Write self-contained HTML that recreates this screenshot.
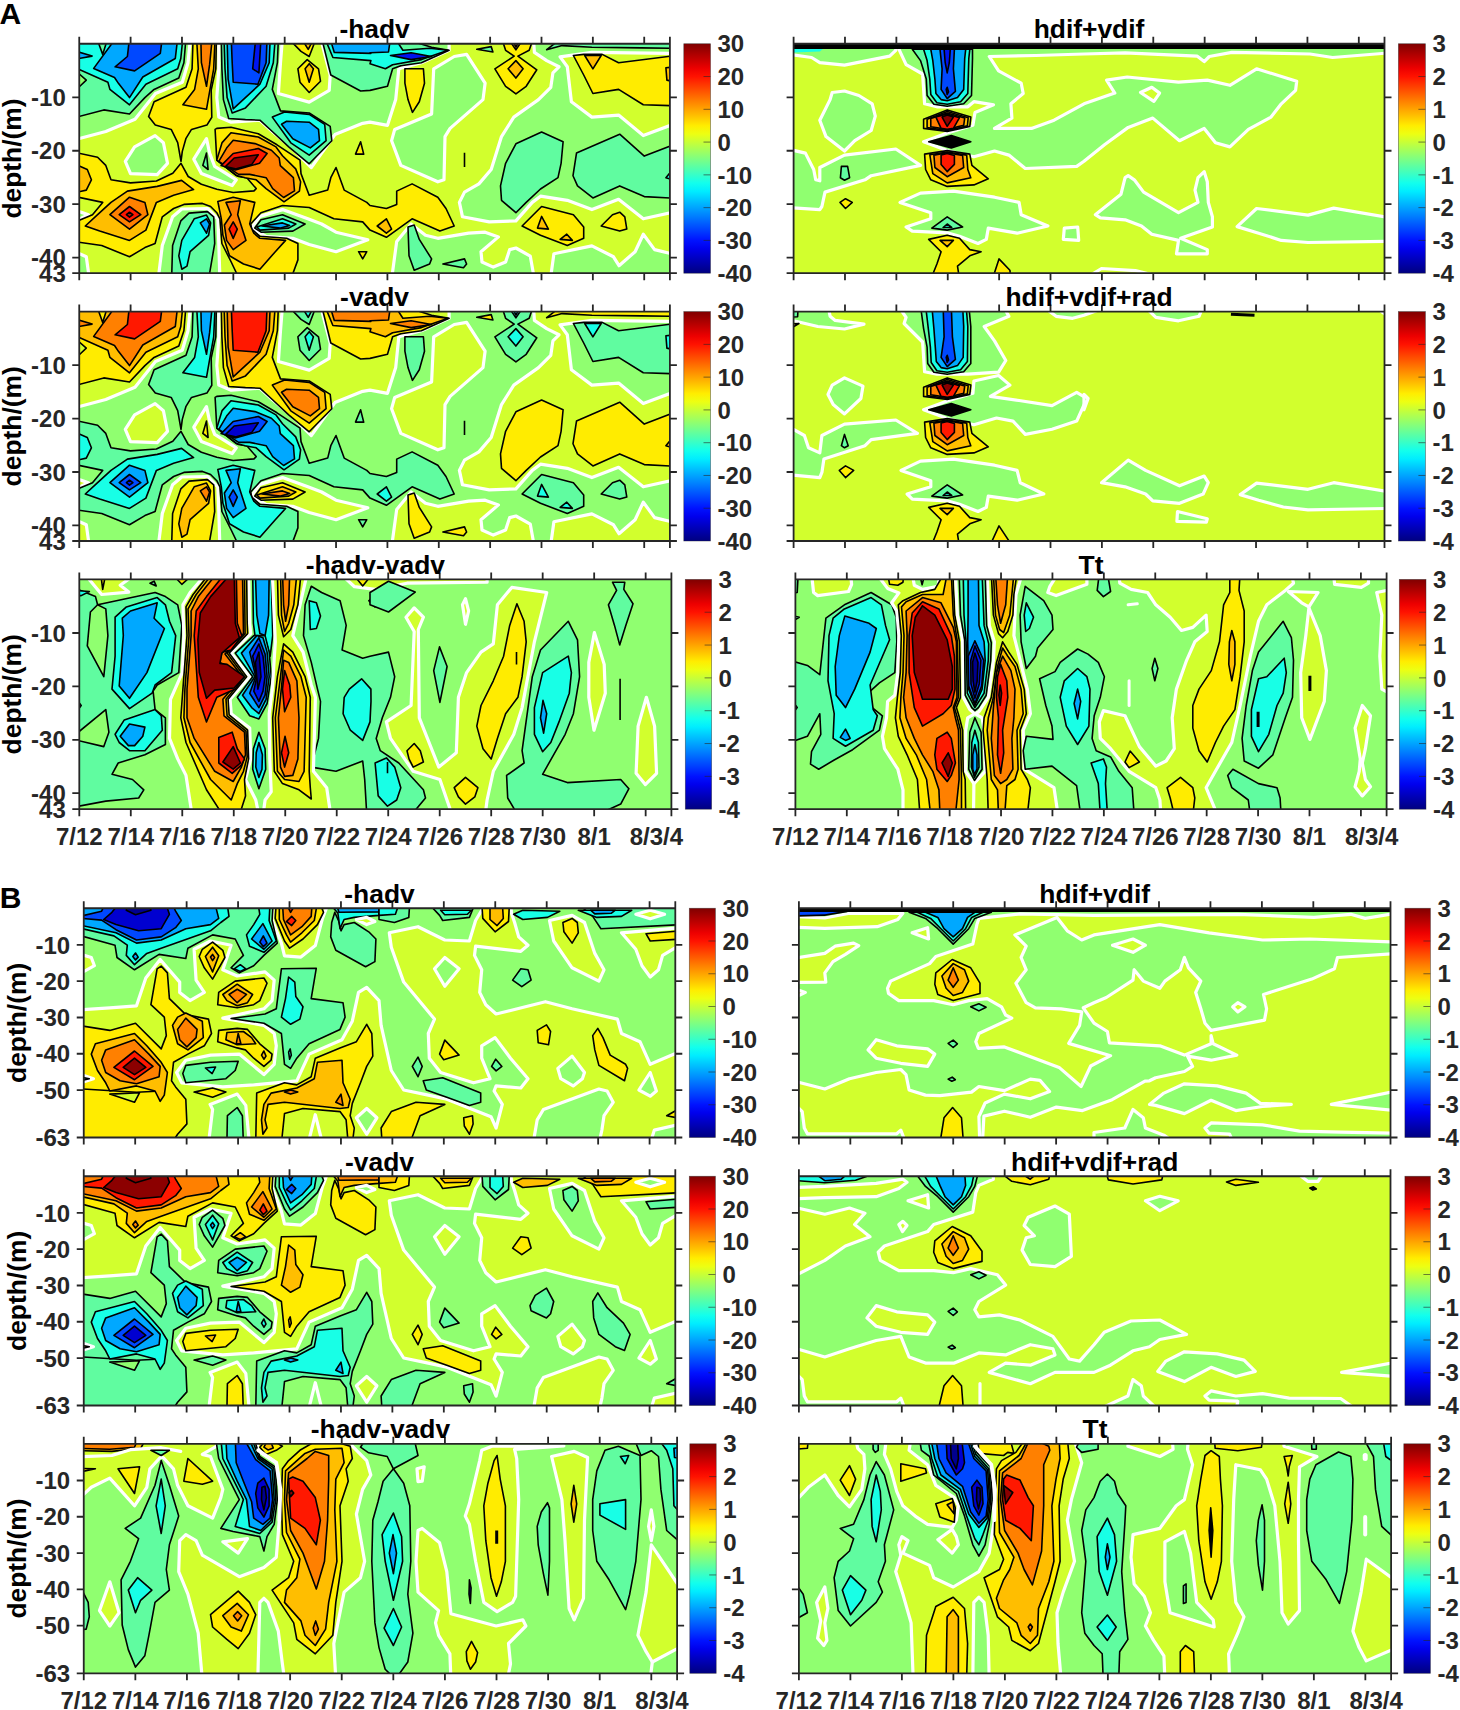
<!DOCTYPE html>
<html lang="en"><head><meta charset="utf-8"><title>Figure</title>
<style>html,body{margin:0;padding:0;background:#fff}body{width:1460px;height:1710px;overflow:hidden}svg{display:block}text{font-family:"Liberation Sans",Arial,Helvetica,sans-serif;font-weight:bold;fill:#262626}.t{font-size:24.0px}.T{font-size:26.4px;fill:#000}.k{stroke:#000;stroke-width:1.6;stroke-linejoin:round}.w{stroke:#fff;stroke-width:3.2;stroke-linejoin:round;stroke-linecap:round}.a{stroke:#262626;stroke-width:1.8;fill:none}</style></head><body>
<svg width="1460" height="1710" viewBox="0 0 1460 1710">
<defs><linearGradient id="jet" x1="0" y1="0" x2="0" y2="1">
<stop offset="0.0000" stop-color="#800000"/>
<stop offset="0.0357" stop-color="#a40000"/>
<stop offset="0.0714" stop-color="#c80000"/>
<stop offset="0.1071" stop-color="#ed0000"/>
<stop offset="0.1429" stop-color="#ff1200"/>
<stop offset="0.1786" stop-color="#ff3700"/>
<stop offset="0.2143" stop-color="#ff5b00"/>
<stop offset="0.2500" stop-color="#ff8000"/>
<stop offset="0.2857" stop-color="#ffa400"/>
<stop offset="0.3214" stop-color="#ffc800"/>
<stop offset="0.3571" stop-color="#ffed00"/>
<stop offset="0.3929" stop-color="#edff12"/>
<stop offset="0.4286" stop-color="#c8ff37"/>
<stop offset="0.4643" stop-color="#a4ff5b"/>
<stop offset="0.5000" stop-color="#80ff80"/>
<stop offset="0.5357" stop-color="#5bffa4"/>
<stop offset="0.5714" stop-color="#37ffc8"/>
<stop offset="0.6071" stop-color="#12ffed"/>
<stop offset="0.6429" stop-color="#00edff"/>
<stop offset="0.6786" stop-color="#00c8ff"/>
<stop offset="0.7143" stop-color="#00a4ff"/>
<stop offset="0.7500" stop-color="#0080ff"/>
<stop offset="0.7857" stop-color="#005bff"/>
<stop offset="0.8214" stop-color="#0037ff"/>
<stop offset="0.8571" stop-color="#0012ff"/>
<stop offset="0.8929" stop-color="#0000ed"/>
<stop offset="0.9286" stop-color="#0000c8"/>
<stop offset="0.9643" stop-color="#0000a4"/>
<stop offset="1.0000" stop-color="#000080"/>
</linearGradient></defs>
<rect width="1460" height="1710" fill="#fff"/>
<g id="A11">
<clipPath id="cA11"><rect x="79.25" y="43.75" width="590.65" height="229.45"/></clipPath>
<rect x="79.25" y="43.75" width="590.65" height="229.45" fill="#d2ff2d"/>
<g clip-path="url(#cA11)">
<polygon class="w" fill="#90ff70" points="73.2,37.8 190.5,37.8 188.0,62.7 182.3,82.2 155.5,93.5 135.0,119.2 105.8,131.5 73.2,140.1"/>
<polygon class="w" fill="#90ff70" points="218.8,37.8 218.8,68.8 216.8,97.6 218.8,117.1 231.2,122.2 259.9,120.2 272.3,131.5 292.8,149.0 311.3,167.5 334.9,134.6 362.7,123.3 370.0,122.2 387.5,125.3 395.7,99.6 398.8,68.8 421.4,62.7 449.1,50.3 449.1,37.8"/>
<polygon class="w" fill="#d2ff2d" points="282.5,37.8 280.5,62.7 278.4,93.5 309.2,102.1 329.2,90.4 330.2,75.0 320.5,37.8"/>
<polygon class="w" fill="#90ff70" points="433.7,68.8 431.6,114.0 394.7,129.4 391.6,140.7 400.8,165.4 437.8,181.8 444.0,179.8 445.0,136.6 450.1,128.4 483.0,99.6 485.1,83.2 466.6,54.4 454.2,56.5"/>
<polygon class="w" fill="#90ff70" points="125.3,161.3 134.6,146.9 155.1,135.6 163.4,142.8 167.5,163.3 157.2,174.6 130.5,173.6"/>
<polygon class="w" fill="#90ff70" points="206.5,138.7 209.6,153.1 214.7,166.4 236.3,179.8 232.2,185.5 201.4,173.6 193.8,159.2"/>
<polygon class="w" fill="#90ff70" points="158.2,279.2 162.3,245.5 172.6,216.8 181.8,209.0 207.5,208.5 217.8,218.8 218.8,243.5 219.9,279.2"/>
<polygon class="w" fill="#90ff70" points="73.2,250.7 86.3,256.8 89.4,279.2 73.2,279.2"/>
<polygon class="w" fill="#90ff70" points="73.2,209.6 88.4,214.7 73.2,221.9"/>
<polygon class="w" fill="#90ff70" points="251.3,228.1 259.9,216.4 282.5,209.6 307.2,218.4 321.6,224.0 336.0,232.2 367.8,239.8 336.0,251.7 309.2,244.5 292.8,238.3 266.1,236.3"/>
<polygon class="w" fill="#90ff70" points="391.6,279.2 396.7,241.4 411.1,224.0 425.5,235.3 437.8,238.3 468.6,233.2 485.1,232.2 498.4,236.9 481.0,251.7 482.0,262.0 493.3,267.1 505.6,262.0 509.7,249.6 515.9,248.0 530.3,256.2 534.4,279.2"/>
<polygon class="w" fill="#90ff70" points="550.4,279.2 553.9,253.8 591.9,245.9 613.5,256.8 619.0,265.7 635.1,251.7 643.3,234.2 654.6,249.6 675.9,254.8 675.9,279.2"/>
<polygon class="w" fill="#90ff70" points="533.4,37.8 534.4,52.4 546.7,60.6 559.0,66.8 552.9,72.9 550.8,87.3 538.5,99.6 513.8,117.1 501.5,136.6 491.2,169.5 478.9,183.9 464.5,192.1 459.4,202.4 462.5,216.8 489.2,221.9 515.9,220.9 532.3,202.4 540.5,196.2 567.3,200.3 591.9,209.6 618.6,199.3 643.3,218.8 675.9,211.6 675.9,123.3 643.3,135.6 618.6,115.1 591.9,117.1 571.4,101.7 567.3,66.8 560.1,56.9 591.9,52.4 675.9,53.4 675.9,37.8"/>
<polygon class="k" fill="#ffec00" points="193.1,37.8 192.1,68.8 186.0,87.3 154.1,101.7 148.6,116.5 155.3,125.1 171.2,129.4 177.7,142.6 181.0,161.3 182.3,151.4 186.0,138.3 191.5,129.4 206.9,125.1 211.8,117.3 211.2,90.0 215.8,68.8 216.4,37.8"/>
<polygon class="k" fill="#ffec00" points="181.0,163.3 188.2,176.5 201.4,184.3 216.8,189.2 233.2,192.5 254.0,190.9 256.2,188.6 246.8,177.7 238.6,176.5 236.5,175.5 216.8,160.1 215.1,129.4 216.8,128.4 231.0,127.2 258.3,133.8 277.0,144.8 300.0,160.1 301.0,173.6 309.2,195.2 327.7,190.1 330.8,177.7 336.0,167.5 344.2,190.1 366.8,202.4 370.0,205.5 386.4,208.5 396.7,204.4 396.7,191.1 412.1,183.9 437.8,197.2 446.0,208.5 454.2,226.0 439.9,231.1 412.1,218.8 386.4,237.3 370.0,230.1 362.7,221.9 333.9,218.8 309.2,207.5 282.5,205.5 261.0,212.7 250.7,224.0 251.7,229.1 259.9,236.3 286.6,238.3 297.9,243.5 297.9,259.9 290.8,279.2 239.4,279.2 231.2,262.0 221.9,243.5 219.9,218.8 216.8,212.7 210.6,206.5 202.4,203.4 183.9,204.4 173.6,208.5 162.3,216.8 155.1,243.5 144.9,247.6 129.5,256.8 101.7,245.5 73.2,241.4 73.2,222.9 92.5,214.7 102.7,202.4 73.2,196.2 73.2,152.0 97.6,157.2 105.8,165.4 111.0,179.8 130.5,182.9 156.4,181.0 172.8,173.2"/>
<polygon class="k" fill="#ffec00" points="404.9,68.8 423.4,68.8 424.5,83.2 419.3,101.7 412.5,112.4 408.0,99.6 404.9,83.2"/>
<polygon class="k" fill="#ffec00" points="501.5,37.8 505.6,50.3 514.2,56.1 494.9,68.8 505.6,86.3 515.9,93.9 526.2,86.3 536.8,69.8 517.9,56.1 529.2,50.3 533.4,37.8"/>
<polygon class="k" fill="#ffec00" points="573.4,55.5 583.7,54.4 602.2,54.4 618.6,62.7 675.9,55.5 675.9,105.8 643.3,104.8 618.6,89.4 592.9,93.5 583.7,75.0"/>
<polygon class="k" fill="#ffec00" points="522.1,226.0 541.6,206.5 573.4,214.7 583.7,227.0 583.7,238.3 567.3,245.5 540.5,235.3"/>
<polygon class="k" fill="#ffec00" points="601.2,226.0 612.5,214.7 619.7,212.2 624.8,216.8 626.8,229.1 619.7,231.1"/>
<polygon class="k" fill="#ffec00" points="355.5,154.1 360.6,141.8 363.7,154.1"/>
<polygon class="k" fill="#ffec00" points="358.6,251.7 366.8,251.7 362.7,258.9"/>
<polygon class="k" fill="#ffec00" points="297.9,68.8 307.2,59.6 318.5,68.8 320.5,81.2 309.2,92.5 300.0,82.2"/>
<polygon class="k" fill="#ffec00" points="287.7,37.8 301.0,51.4 309.2,56.5 316.4,37.8"/>
<polygon class="k" fill="#ffbe00" points="196.6,37.8 198.3,68.8 194.6,89.4 182.9,104.8 206.5,109.3 210.0,89.4 213.7,68.8 215.1,37.8"/>
<polygon class="k" fill="#ffbe00" points="73.2,163.3 87.3,169.5 91.4,179.8 86.3,190.1 73.2,193.1"/>
<polygon class="k" fill="#ffbe00" points="85.3,226.0 97.6,214.7 111.0,202.4 127.4,191.1 157.2,186.4 181.6,180.4 193.6,189.6 173.6,195.2 156.4,202.4 145.9,230.1 129.5,240.4 99.7,231.1"/>
<polygon class="k" fill="#ffbe00" points="216.8,160.1 222.1,142.6 231.0,132.7 258.3,137.0 276.0,146.9 282.5,155.7 295.7,168.9 300.6,181.8 299.4,191.1 284.0,201.8 266.1,188.6 256.2,179.8 245.1,177.7 236.5,175.5"/>
<polygon class="k" fill="#ffbe00" points="217.8,201.4 233.2,197.2 254.8,202.4 249.7,224.0 253.8,233.2 259.9,238.3 285.6,240.4 275.3,251.7 259.9,269.2 243.5,264.0 229.5,255.8 222.9,235.3 221.3,218.8"/>
<polygon class="k" fill="#ffbe00" points="507.7,37.8 515.9,49.9 524.1,37.8"/>
<polygon class="k" fill="#ffbe00" points="515.9,60.6 523.1,68.8 515.9,78.1 508.1,68.8"/>
<polygon class="k" fill="#ffbe00" points="584.7,55.5 601.2,55.5 592.9,68.8"/>
<polygon class="k" fill="#ffbe00" points="665.9,67.8 675.9,66.8 675.9,82.2 666.9,80.1"/>
<polygon class="k" fill="#ffbe00" points="537.5,228.1 541.6,216.4 548.4,229.1"/>
<polygon class="k" fill="#ffbe00" points="560.1,239.4 566.8,234.2 572.4,240.4"/>
<polygon class="k" fill="#ffbe00" points="377.2,226.0 386.4,218.8 391.6,229.1 386.4,233.2"/>
<polygon class="k" fill="#ffbe00" points="305.1,68.8 309.2,63.7 313.4,68.8 309.2,82.2"/>
<polygon class="k" fill="#ffbe00" points="301.0,37.8 308.2,49.3 314.4,37.8"/>
<polygon class="k" fill="#ff8000" points="200.8,37.8 201.4,62.7 206.5,86.3 209.6,64.7 212.3,37.8"/>
<polygon class="k" fill="#ff8000" points="109.9,214.7 129.5,197.2 144.9,202.4 147.9,214.7 129.5,229.1"/>
<polygon class="k" fill="#ff8000" points="218.8,161.3 226.6,148.1 233.2,140.3 255.0,143.6 271.4,150.2 279.2,158.0 280.3,165.6 293.4,177.7 294.5,190.9 283.6,197.5 272.7,188.6 266.1,177.7 249.7,174.4 238.6,174.4"/>
<polygon class="k" fill="#ff8000" points="226.0,202.4 240.4,200.7 237.7,214.7 246.0,240.4 233.2,249.6 226.6,240.4 224.4,225.0 231.2,214.7"/>
<polygon class="k" fill="#ff8000" points="511.4,37.8 515.9,47.2 521.0,37.8"/>
<polygon class="k" fill="#ff1800" points="119.2,214.7 129.5,206.5 140.8,214.7 129.5,221.9"/>
<polygon class="k" fill="#c80000" points="126.4,214.7 129.5,212.2 132.9,214.7 129.5,217.2"/>
<polygon class="k" fill="#ff1800" points="221.1,165.6 233.2,153.5 258.3,148.5 267.1,153.5 259.5,163.3 235.3,169.9"/>
<polygon class="k" fill="#8c0000" points="225.4,166.6 234.2,158.0 258.3,154.7 251.7,164.6 235.3,168.9"/>
<polygon class="k" fill="#ff1800" points="233.2,221.9 237.3,229.1 233.2,238.3 229.1,229.1"/>
<polygon class="k" fill="#60fca0" points="73.2,37.8 186.0,37.8 183.9,62.7 178.8,78.1 154.1,89.4 144.9,97.6 129.5,114.0 103.8,109.9 73.2,118.1"/>
<polygon class="k" fill="#90ff70" points="73.2,68.8 86.3,80.1 73.2,92.5"/>
<polygon class="k" fill="#60fca0" points="221.3,37.8 221.9,68.8 223.4,99.6 228.7,118.5 245.5,119.6 259.9,120.2 272.3,131.5 288.7,146.9 309.2,163.8 331.8,140.7 330.2,126.4 309.2,113.0 280.5,110.9 272.3,89.4 277.4,62.7 278.4,37.8"/>
<polygon class="k" fill="#60fca0" points="321.6,37.8 330.8,75.0 360.6,91.0 370.0,90.4 387.5,86.3 392.6,68.8 400.8,65.7 421.4,62.7 449.1,50.3 431.6,47.2 400.8,37.8"/>
<polygon class="k" fill="#60fca0" points="171.6,279.2 172.6,245.5 180.8,220.9 189.0,213.1 207.5,211.6 213.7,216.8 214.7,243.5 208.6,279.2"/>
<polygon class="k" fill="#60fca0" points="254.8,228.1 261.0,219.8 282.5,214.7 305.1,224.0 292.8,231.1 261.0,232.2"/>
<polygon class="k" fill="#60fca0" points="202.8,165.4 206.5,153.1 208.1,169.5"/>
<polygon class="k" fill="#60fca0" points="408.0,227.0 414.2,225.0 419.3,239.4 431.6,258.9 429.6,264.0 414.2,270.2 409.0,255.8"/>
<polygon class="k" fill="#60fca0" points="442.9,264.0 464.5,258.9 466.6,264.0 463.5,267.7"/>
<polygon class="k" fill="#60fca0" points="515.9,143.8 541.6,132.1 563.1,141.8 561.1,163.3 558.0,177.7 540.5,189.0 526.2,202.4 515.9,212.7 501.5,200.3 500.5,185.9 505.6,163.3"/>
<polygon class="k" fill="#60fca0" points="576.5,153.1 619.7,134.2 644.3,156.1 675.9,143.8 675.9,198.3 644.3,196.6 619.7,185.9 592.9,197.9 577.5,185.9 573.0,175.7"/>
<polygon class="k" fill="#60fca0" points="546.7,49.7 562.1,45.6 591.9,47.2 641.2,47.9 675.9,48.3 675.9,37.8 562.1,37.8"/>
<polygon class="k" fill="#60fca0" points="476.8,49.3 491.2,46.6 492.9,52.0"/>
<polygon class="k" fill="#18ffe6" points="73.2,37.8 182.9,37.8 180.8,58.5 177.7,68.8 145.9,84.2 129.5,104.8 109.9,89.4 107.9,82.2 73.2,66.8"/>
<polygon class="k" fill="#60fca0" points="96.6,37.8 102.7,54.4 107.9,37.8"/>
<polygon class="k" fill="#18ffe6" points="224.0,37.8 225.0,68.8 227.1,97.6 232.2,113.0 245.5,107.9 266.1,86.3 273.3,62.7 275.3,37.8"/>
<polygon class="k" fill="#18ffe6" points="272.3,117.1 284.6,112.0 309.2,114.4 324.7,124.3 326.1,140.7 309.2,155.1 290.8,142.8"/>
<polygon class="k" fill="#18ffe6" points="324.7,37.8 332.9,57.5 370.9,60.6 370.0,63.7 385.4,68.8 392.6,64.7 421.4,59.6 448.1,50.3 429.6,48.3 402.9,50.3 394.7,37.8"/>
<polygon class="k" fill="#18ffe6" points="178.8,255.8 181.8,240.4 194.2,218.8 206.5,215.1 210.6,222.9 208.6,235.3 190.1,251.7 187.0,266.1 181.8,269.2"/>
<polygon class="k" fill="#18ffe6" points="256.8,227.0 282.5,218.8 295.9,224.0 288.7,228.1 259.9,230.1"/>
<polygon class="k" fill="#18ffe6" points="665.9,177.7 675.9,165.4 675.9,180.8"/>
<polygon class="k" fill="#00a8ff" points="116.1,37.8 177.7,37.8 175.3,58.5 142.8,77.0 129.5,97.6 118.6,83.6 114.5,77.5 93.7,68.4"/>
<polygon class="k" fill="#00a8ff" points="73.2,50.3 92.1,56.1 73.2,59.6"/>
<polygon class="k" fill="#00a8ff" points="227.1,37.8 228.1,79.1 233.2,108.9 259.9,84.2 269.2,62.7 270.2,37.8"/>
<polygon class="k" fill="#00a8ff" points="281.5,124.3 286.6,121.2 309.2,122.2 318.5,129.4 319.5,140.7 310.3,147.9 292.8,138.7"/>
<polygon class="k" fill="#00a8ff" points="329.8,37.8 334.3,52.4 370.9,53.4 370.0,52.8 388.5,52.0 390.5,37.8"/>
<polygon class="k" fill="#00a8ff" points="200.3,222.9 206.5,218.8 209.6,224.0 206.5,233.2"/>
<polygon class="k" fill="#00a8ff" points="262.0,226.0 282.5,222.9 289.7,225.4 280.5,228.1"/>
<polygon class="k" fill="#0048ff" points="129.5,37.8 162.3,37.8 160.3,53.4 134.6,70.9 115.1,66.8 127.4,56.5"/>
<polygon class="k" fill="#0048ff" points="231.2,37.8 232.2,62.7 233.2,82.2 257.9,84.2 266.1,62.7 267.1,37.8"/>
<polygon class="k" fill="#0014f0" points="255.8,37.8 252.7,68.8 258.9,72.9 261.0,37.8"/>
<polygon class="k" fill="#0014f0" points="390.5,55.5 411.1,52.8 431.6,56.5 411.1,59.6"/>
<polyline class="k" fill="none" points="464.5,152.7 464.5,167.0"/>
</g>
<path class="a" d="M79.25 43.75H669.90V273.20H79.25ZM79.25 43.75v-7.00M79.25 273.20v7.00M130.61 43.75v-7.00M130.61 273.20v7.00M181.97 43.75v-7.00M181.97 273.20v7.00M233.33 43.75v-7.00M233.33 273.20v7.00M284.69 43.75v-7.00M284.69 273.20v7.00M336.05 43.75v-7.00M336.05 273.20v7.00M387.42 43.75v-7.00M387.42 273.20v7.00M438.78 43.75v-7.00M438.78 273.20v7.00M490.14 43.75v-7.00M490.14 273.20v7.00M541.50 43.75v-7.00M541.50 273.20v7.00M592.86 43.75v-7.00M592.86 273.20v7.00M644.22 43.75v-7.00M644.22 273.20v7.00M669.90 43.75v-7.00M669.90 273.20v7.00M79.25 97.35h-7.00M669.90 97.35h7.00M79.25 150.75h-7.00M669.90 150.75h7.00M79.25 204.15h-7.00M669.90 204.15h7.00M79.25 257.55h-7.00M669.90 257.55h7.00M79.25 273.20h-7.00M669.90 273.20h7.00"/>
<text class="t" x="65.8" y="105.9" text-anchor="end">-10</text>
<text class="t" x="65.8" y="159.3" text-anchor="end">-20</text>
<text class="t" x="65.8" y="212.7" text-anchor="end">-30</text>
<text class="t" x="65.8" y="266.2" text-anchor="end">-40</text>
<text class="t" x="65.8" y="281.8" text-anchor="end">43</text>
<text class="T" x="374.6" y="38.0" text-anchor="middle">-hadv</text>
<text class="T" transform="translate(21.2 158.5) rotate(-90)" text-anchor="middle">depth/(m)</text>
<rect x="683.80" y="43.75" width="26.70" height="229.45" fill="url(#jet)"/>
<text class="t" x="717.5" y="52.4">30</text>
<text class="t" x="717.5" y="85.1">20</text>
<text class="t" x="717.5" y="117.9">10</text>
<text class="t" x="717.5" y="150.7">0</text>
<text class="t" x="717.5" y="183.5">-10</text>
<text class="t" x="717.5" y="216.2">-20</text>
<text class="t" x="717.5" y="249.0">-30</text>
<text class="t" x="717.5" y="281.8">-40</text>
<path d="M710.50 76.53h-7M710.50 109.31h-7M710.50 142.09h-7M710.50 174.86h-7M710.50 207.64h-7M710.50 240.42h-7" stroke="#262626" stroke-width="0.8" fill="none" opacity="0.75"/>
<rect x="683.80" y="43.75" width="26.70" height="229.45" fill="none" stroke="#262626" stroke-width="0.7" opacity="0.6"/>
</g>
<g id="A12">
<clipPath id="cA12"><rect x="793.60" y="43.75" width="590.90" height="229.45"/></clipPath>
<rect x="793.60" y="43.75" width="590.90" height="229.45" fill="#d2ff2d"/>
<g clip-path="url(#cA12)">
<polygon class="w" fill="#90ff70" points="787.6,46.2 787.6,54.0 811.6,57.5 819.8,62.7 844.5,65.1 889.7,56.1 895.8,50.3 895.8,46.2"/>
<polygon class="w" fill="#90ff70" points="897.5,46.2 906.1,64.7 922.6,74.0 924.6,103.8 936.9,106.8 967.8,106.8 973.9,101.7 993.5,104.8 975.0,112.4 972.9,125.3 947.2,132.9 923.6,141.8 947.2,150.6 973.9,156.8 994.5,151.0 1008.9,155.1 1025.3,168.5 1076.7,166.4 1084.0,161.3 1104.5,144.8 1128.2,127.4 1152.8,118.1 1179.5,140.7 1204.2,128.4 1215.5,142.8 1229.9,146.9 1248.4,129.4 1271.0,117.1 1281.3,103.8 1295.6,90.4 1296.7,81.2 1256.6,68.8 1229.9,85.3 1207.3,80.1 1178.5,82.2 1127.2,77.0 1106.6,80.1 1114.8,93.1 1084.0,103.8 1054.1,120.2 1031.5,128.4 994.5,128.4 1011.9,118.1 1010.9,103.8 1023.2,93.5 1021.2,83.2 998.6,70.9 989.3,56.5 1035.6,55.5 1084.0,54.0 1125.1,52.8 1197.0,56.1 1204.2,61.6 1209.3,56.5 1231.9,52.4 1310.0,54.0 1332.6,57.5 1390.5,52.8 1390.5,46.2"/>
<polygon class="w" fill="#d2ff2d" points="1140.5,92.5 1151.8,87.3 1159.6,93.1 1153.9,101.3"/>
<polygon class="w" fill="#90ff70" points="819.8,120.2 830.1,99.6 832.2,92.5 844.5,91.0 858.9,95.5 872.2,103.8 875.3,116.1 871.2,130.5 854.8,140.7 844.5,151.0 826.0,136.6"/>
<polygon class="w" fill="#90ff70" points="787.6,149.0 805.4,153.1 813.7,169.5 815.7,179.8 819.8,180.8 819.8,167.5 844.5,155.1 895.8,149.0 920.5,165.4 871.2,175.7 865.0,179.8 825.0,192.1 821.9,206.5 819.8,209.6 787.6,207.5"/>
<polygon class="k" fill="#60fca0" points="841.4,166.4 847.6,166.4 849.6,177.7 844.5,180.2 840.4,177.7"/>
<polygon class="k" fill="#ffec00" points="840.0,202.4 845.5,198.7 852.3,202.4 845.5,208.5"/>
<polygon class="w" fill="#90ff70" points="900.0,202.4 920.5,193.1 953.4,191.1 994.5,197.2 1019.1,202.4 1021.2,214.7 1047.9,226.0 1017.1,233.2 988.3,228.1 986.3,239.4 978.0,243.5 959.5,236.3 947.2,232.8 912.3,231.1 906.1,227.0 930.8,218.8 930.8,212.7"/>
<polygon class="k" fill="#60fca0" points="931.8,228.1 947.2,216.8 962.6,227.0 947.2,230.1"/>
<polygon class="k" fill="#18ffe6" points="943.1,227.5 947.2,224.0 951.7,227.5"/>
<polygon class="w" fill="#90ff70" points="1064.3,228.1 1077.7,227.0 1078.7,240.4 1063.3,239.4"/>
<polygon class="k" fill="#ffec00" points="928.7,239.4 947.2,235.3 959.5,238.3 969.8,249.6 981.1,251.7 969.8,255.8 957.5,266.1 959.5,279.2 930.8,279.2 936.9,264.0 941.1,251.7"/>
<polygon class="k" fill="#ffbe00" points="940.0,240.4 953.4,240.4 947.2,246.6"/>
<polygon class="k" fill="#ffec00" points="992.4,279.2 999.0,258.9 1009.9,270.2 1010.9,279.2"/>
<polygon class="w" fill="#90ff70" points="1095.3,214.7 1121.0,194.2 1125.1,177.7 1128.2,175.7 1134.3,179.8 1143.6,192.1 1178.5,212.7 1198.0,202.4 1195.0,190.1 1198.0,177.7 1204.2,171.6 1207.3,181.8 1208.3,202.4 1212.4,216.8 1212.4,227.0 1180.6,238.3 1207.3,249.6 1207.3,253.8 1176.5,253.8 1178.5,240.4 1151.8,234.2 1141.5,226.0 1125.1,219.8 1100.4,217.8"/>
<polygon class="w" fill="#90ff70" points="1237.1,226.6 1256.6,208.5 1308.0,215.1 1333.7,208.1 1390.5,217.8 1390.5,241.4 1308.0,242.5 1281.3,240.4 1258.7,233.2"/>
<polyline class="w" fill="none" points="1084.0,279.2 1101.5,268.5 1135.4,270.6 1170.3,279.2"/>
<polygon class="k" fill="#60fca0" points="912.3,49.3 920.5,60.6 926.3,79.1 927.1,95.5 933.9,104.2 947.2,106.2 963.7,103.8 971.5,95.5 972.5,58.5 972.5,49.3"/>
<polygon class="k" fill="#18ffe6" points="923.6,49.3 927.1,60.6 929.8,79.1 930.8,94.5 936.9,102.7 947.2,104.2 960.6,101.7 967.8,93.5 968.8,58.5 969.8,49.3"/>
<polygon class="k" fill="#00a8ff" points="930.8,49.3 932.8,60.6 934.9,79.1 935.9,93.5 941.1,99.6 947.2,100.7 957.5,97.6 963.7,89.4 964.7,58.5 965.7,49.3"/>
<polygon class="k" fill="#0048ff" points="940.0,49.3 942.1,68.8 941.1,89.4 947.2,98.6 955.4,91.4 953.4,68.8 954.4,49.3"/>
<polygon class="k" fill="#0014f0" points="944.1,49.3 945.2,62.7 947.2,72.9 949.3,62.7 950.3,49.3"/>
<polygon class="k" fill="#0000d0" points="946.2,89.4 947.2,87.3 948.5,91.8 947.2,94.5"/>
<polygon class="k" fill="#ffec00" points="923.6,119.2 947.2,109.9 970.8,117.1 969.8,126.4 947.2,131.5 923.6,128.4"/>
<polygon class="k" fill="#ffbe00" points="927.1,119.2 947.2,111.6 968.2,117.7 967.4,125.9 947.2,130.5 927.1,127.6"/>
<polygon class="k" fill="#ff8000" points="930.8,118.5 947.2,113.0 964.7,118.1 963.7,125.3 947.2,129.4 930.8,126.8"/>
<polygon class="k" fill="#ff1800" points="935.9,117.1 947.2,114.0 959.5,117.7 953.4,128.4 947.2,129.4 941.1,128.4"/>
<polygon class="k" fill="#8c0000" points="942.1,117.1 947.2,115.1 953.4,117.1 947.2,126.4"/>
<polygon class="k" fill="#000000" points="928.7,141.8 951.3,135.6 970.8,141.8 951.3,147.9"/>
<polygon class="k" fill="#ffec00" points="924.6,154.1 947.2,150.6 969.8,154.1 971.9,165.4 988.3,178.8 973.9,184.9 947.2,186.4 930.8,179.8 925.6,169.5"/>
<polygon class="k" fill="#ffbe00" points="929.8,154.7 947.2,152.0 966.7,155.1 967.8,169.5 970.8,177.7 947.2,182.9 932.8,173.6"/>
<polygon class="k" fill="#ff8000" points="933.9,155.1 947.2,152.7 962.6,155.5 963.7,167.5 947.2,176.7 934.9,167.5"/>
<polygon class="k" fill="#ff1800" points="941.1,155.1 947.2,153.5 954.4,155.5 954.4,164.4 947.2,171.6 941.1,164.4"/>
<polygon class="" fill="#18ffe6" points="787.6,49.1 822.9,49.1 819.8,51.6 787.6,52.8"/>
<polygon class="" fill="#000000" points="787.6,37.8 1089.0,37.8 1390.5,37.8 1390.5,49.1 1089.0,49.1 787.6,49.1"/>
</g>
<path class="a" d="M793.60 43.75H1384.50V273.20H793.60ZM793.60 43.75v-7.00M793.60 273.20v7.00M844.98 43.75v-7.00M844.98 273.20v7.00M896.37 43.75v-7.00M896.37 273.20v7.00M947.75 43.75v-7.00M947.75 273.20v7.00M999.13 43.75v-7.00M999.13 273.20v7.00M1050.51 43.75v-7.00M1050.51 273.20v7.00M1101.90 43.75v-7.00M1101.90 273.20v7.00M1153.28 43.75v-7.00M1153.28 273.20v7.00M1204.66 43.75v-7.00M1204.66 273.20v7.00M1256.04 43.75v-7.00M1256.04 273.20v7.00M1307.43 43.75v-7.00M1307.43 273.20v7.00M1358.81 43.75v-7.00M1358.81 273.20v7.00M1384.50 43.75v-7.00M1384.50 273.20v7.00M793.60 97.35h-7.00M1384.50 97.35h7.00M793.60 150.75h-7.00M1384.50 150.75h7.00M793.60 204.15h-7.00M1384.50 204.15h7.00M793.60 257.55h-7.00M1384.50 257.55h7.00M793.60 273.20h-7.00M1384.50 273.20h7.00"/>
<text class="T" x="1089.0" y="38.0" text-anchor="middle">hdif+vdif</text>
<rect x="1398.40" y="43.75" width="27.00" height="229.45" fill="url(#jet)"/>
<text class="t" x="1432.4" y="52.4">3</text>
<text class="t" x="1432.4" y="85.1">2</text>
<text class="t" x="1432.4" y="117.9">1</text>
<text class="t" x="1432.4" y="150.7">0</text>
<text class="t" x="1432.4" y="183.5">-1</text>
<text class="t" x="1432.4" y="216.2">-2</text>
<text class="t" x="1432.4" y="249.0">-3</text>
<text class="t" x="1432.4" y="281.8">-4</text>
<path d="M1425.40 76.53h-7M1425.40 109.31h-7M1425.40 142.09h-7M1425.40 174.86h-7M1425.40 207.64h-7M1425.40 240.42h-7" stroke="#262626" stroke-width="0.8" fill="none" opacity="0.75"/>
<rect x="1398.40" y="43.75" width="27.00" height="229.45" fill="none" stroke="#262626" stroke-width="0.7" opacity="0.6"/>
</g>
<g id="A21">
<clipPath id="cA21"><rect x="79.25" y="311.60" width="590.65" height="229.40"/></clipPath>
<rect x="79.25" y="311.60" width="590.65" height="229.40" fill="#90ff70"/>
<g clip-path="url(#cA21)">
<polygon class="w" fill="#d2ff2d" points="73.2,305.6 190.5,305.6 188.0,330.7 182.3,350.2 155.5,361.5 135.0,387.2 105.8,399.5 73.2,408.1"/>
<polygon class="w" fill="#d2ff2d" points="218.8,305.6 218.8,336.8 216.8,365.6 218.8,385.1 231.2,390.2 259.9,388.2 272.3,399.5 292.8,417.0 311.3,435.5 334.9,402.6 362.7,391.3 370.0,390.2 387.5,393.3 395.7,367.6 398.8,336.8 421.4,330.7 449.1,318.3 449.1,305.6"/>
<polygon class="w" fill="#90ff70" points="282.5,305.6 280.5,330.7 278.4,361.5 309.2,370.1 329.2,358.4 330.2,343.0 320.5,305.6"/>
<polygon class="w" fill="#d2ff2d" points="433.7,336.8 431.6,382.0 394.7,397.4 391.6,408.7 400.8,433.4 437.8,449.8 444.0,447.8 445.0,404.6 450.1,396.4 483.0,367.6 485.1,351.2 466.6,322.4 454.2,324.5"/>
<polygon class="w" fill="#d2ff2d" points="125.3,429.3 134.6,414.9 155.1,403.6 163.4,410.8 167.5,431.3 157.2,442.6 130.5,441.6"/>
<polygon class="w" fill="#d2ff2d" points="206.5,406.7 209.6,421.1 214.7,434.4 236.3,447.8 232.2,453.5 201.4,441.6 193.8,427.2"/>
<polygon class="w" fill="#d2ff2d" points="158.2,547.0 162.3,513.5 172.6,484.8 181.8,477.0 207.5,476.5 217.8,486.8 218.8,511.5 219.9,547.0"/>
<polygon class="w" fill="#d2ff2d" points="73.2,518.7 86.3,524.8 89.4,547.0 73.2,547.0"/>
<polygon class="w" fill="#d2ff2d" points="73.2,477.6 88.4,482.7 73.2,489.9"/>
<polygon class="w" fill="#d2ff2d" points="251.3,496.1 259.9,484.4 282.5,477.6 307.2,486.4 321.6,492.0 336.0,500.2 367.8,507.8 336.0,519.7 309.2,512.5 292.8,506.3 266.1,504.3"/>
<polygon class="w" fill="#d2ff2d" points="391.6,547.0 396.7,509.4 411.1,492.0 425.5,503.3 437.8,506.3 468.6,501.2 485.1,500.2 498.4,504.9 481.0,519.7 482.0,530.0 493.3,535.1 505.6,530.0 509.7,517.6 515.9,516.0 530.3,524.2 534.4,547.0"/>
<polygon class="w" fill="#d2ff2d" points="550.4,547.0 553.9,521.8 591.9,513.9 613.5,524.8 619.0,533.7 635.1,519.7 643.3,502.2 654.6,517.6 675.9,522.8 675.9,547.0"/>
<polygon class="w" fill="#d2ff2d" points="533.4,305.6 534.4,320.4 546.7,328.6 559.0,334.8 552.9,340.9 550.8,355.3 538.5,367.6 513.8,385.1 501.5,404.6 491.2,437.5 478.9,451.9 464.5,460.1 459.4,470.4 462.5,484.8 489.2,489.9 515.9,488.9 532.3,470.4 540.5,464.2 567.3,468.3 591.9,477.6 618.6,467.3 643.3,486.8 675.9,479.6 675.9,391.3 643.3,403.6 618.6,383.1 591.9,385.1 571.4,369.7 567.3,334.8 560.1,324.9 591.9,320.4 675.9,321.4 675.9,305.6"/>
<polygon class="k" fill="#60fca0" points="193.1,305.6 192.1,336.8 186.0,355.3 154.1,369.7 148.6,384.5 155.3,393.1 171.2,397.4 177.7,410.6 181.0,429.3 182.3,419.4 186.0,406.3 191.5,397.4 206.9,393.1 211.8,385.3 211.2,358.0 215.8,336.8 216.4,305.6"/>
<polygon class="k" fill="#60fca0" points="181.0,431.3 188.2,444.5 201.4,452.3 216.8,457.2 233.2,460.5 254.0,458.9 256.2,456.6 246.8,445.7 238.6,444.5 236.5,443.5 216.8,428.1 215.1,397.4 216.8,396.4 231.0,395.2 258.3,401.8 277.0,412.8 300.0,428.1 301.0,441.6 309.2,463.2 327.7,458.1 330.8,445.7 336.0,435.5 344.2,458.1 366.8,470.4 370.0,473.5 386.4,476.5 396.7,472.4 396.7,459.1 412.1,451.9 437.8,465.2 446.0,476.5 454.2,494.0 439.9,499.1 412.1,486.8 386.4,505.3 370.0,498.1 362.7,489.9 333.9,486.8 309.2,475.5 282.5,473.5 261.0,480.7 250.7,492.0 251.7,497.1 259.9,504.3 286.6,506.3 297.9,511.5 297.9,527.9 290.8,547.0 239.4,547.0 231.2,530.0 221.9,511.5 219.9,486.8 216.8,480.7 210.6,474.5 202.4,471.4 183.9,472.4 173.6,476.5 162.3,484.8 155.1,511.5 144.9,515.6 129.5,524.8 101.7,513.5 73.2,509.4 73.2,490.9 92.5,482.7 102.7,470.4 73.2,464.2 73.2,420.0 97.6,425.2 105.8,433.4 111.0,447.8 130.5,450.9 156.4,449.0 172.8,441.2"/>
<polygon class="k" fill="#60fca0" points="404.9,336.8 423.4,336.8 424.5,351.2 419.3,369.7 412.5,380.4 408.0,367.6 404.9,351.2"/>
<polygon class="k" fill="#60fca0" points="501.5,305.6 505.6,318.3 514.2,324.1 494.9,336.8 505.6,354.3 515.9,361.9 526.2,354.3 536.8,337.8 517.9,324.1 529.2,318.3 533.4,305.6"/>
<polygon class="k" fill="#60fca0" points="573.4,323.5 583.7,322.4 602.2,322.4 618.6,330.7 675.9,323.5 675.9,373.8 643.3,372.8 618.6,357.4 592.9,361.5 583.7,343.0"/>
<polygon class="k" fill="#60fca0" points="522.1,494.0 541.6,474.5 573.4,482.7 583.7,495.0 583.7,506.3 567.3,513.5 540.5,503.3"/>
<polygon class="k" fill="#60fca0" points="601.2,494.0 612.5,482.7 619.7,480.2 624.8,484.8 626.8,497.1 619.7,499.1"/>
<polygon class="k" fill="#60fca0" points="355.5,422.1 360.6,409.8 363.7,422.1"/>
<polygon class="k" fill="#60fca0" points="358.6,519.7 366.8,519.7 362.7,526.9"/>
<polygon class="k" fill="#60fca0" points="297.9,336.8 307.2,327.6 318.5,336.8 320.5,349.2 309.2,360.5 300.0,350.2"/>
<polygon class="k" fill="#60fca0" points="287.7,305.6 301.0,319.4 309.2,324.5 316.4,305.6"/>
<polygon class="k" fill="#18ffe6" points="196.6,305.6 198.3,336.8 194.6,357.4 182.9,372.8 206.5,377.3 210.0,357.4 213.7,336.8 215.1,305.6"/>
<polygon class="k" fill="#18ffe6" points="73.2,431.3 87.3,437.5 91.4,447.8 86.3,458.1 73.2,461.1"/>
<polygon class="k" fill="#18ffe6" points="85.3,494.0 97.6,482.7 111.0,470.4 127.4,459.1 157.2,454.4 181.6,448.4 193.6,457.6 173.6,463.2 156.4,470.4 145.9,498.1 129.5,508.4 99.7,499.1"/>
<polygon class="k" fill="#18ffe6" points="216.8,428.1 222.1,410.6 231.0,400.7 258.3,405.0 276.0,414.9 282.5,423.7 295.7,436.9 300.6,449.8 299.4,459.1 284.0,469.8 266.1,456.6 256.2,447.8 245.1,445.7 236.5,443.5"/>
<polygon class="k" fill="#18ffe6" points="217.8,469.4 233.2,465.2 254.8,470.4 249.7,492.0 253.8,501.2 259.9,506.3 285.6,508.4 275.3,519.7 259.9,537.2 243.5,532.0 229.5,523.8 222.9,503.3 221.3,486.8"/>
<polygon class="k" fill="#18ffe6" points="507.7,305.6 515.9,317.9 524.1,305.6"/>
<polygon class="k" fill="#18ffe6" points="515.9,328.6 523.1,336.8 515.9,346.1 508.1,336.8"/>
<polygon class="k" fill="#18ffe6" points="584.7,323.5 601.2,323.5 592.9,336.8"/>
<polygon class="k" fill="#18ffe6" points="665.9,335.8 675.9,334.8 675.9,350.2 666.9,348.1"/>
<polygon class="k" fill="#18ffe6" points="537.5,496.1 541.6,484.4 548.4,497.1"/>
<polygon class="k" fill="#18ffe6" points="560.1,507.4 566.8,502.2 572.4,508.4"/>
<polygon class="k" fill="#18ffe6" points="377.2,494.0 386.4,486.8 391.6,497.1 386.4,501.2"/>
<polygon class="k" fill="#18ffe6" points="305.1,336.8 309.2,331.7 313.4,336.8 309.2,350.2"/>
<polygon class="k" fill="#18ffe6" points="301.0,305.6 308.2,317.3 314.4,305.6"/>
<polygon class="k" fill="#00a8ff" points="200.8,305.6 201.4,330.7 206.5,354.3 209.6,332.7 212.3,305.6"/>
<polygon class="k" fill="#00a8ff" points="109.9,482.7 129.5,465.2 144.9,470.4 147.9,482.7 129.5,497.1"/>
<polygon class="k" fill="#00a8ff" points="218.8,429.3 226.6,416.1 233.2,408.3 255.0,411.6 271.4,418.2 279.2,426.0 280.3,433.6 293.4,445.7 294.5,458.9 283.6,465.5 272.7,456.6 266.1,445.7 249.7,442.4 238.6,442.4"/>
<polygon class="k" fill="#00a8ff" points="226.0,470.4 240.4,468.7 237.7,482.7 246.0,508.4 233.2,517.6 226.6,508.4 224.4,493.0 231.2,482.7"/>
<polygon class="k" fill="#00a8ff" points="511.4,305.6 515.9,315.2 521.0,305.6"/>
<polygon class="k" fill="#0048ff" points="119.2,482.7 129.5,474.5 140.8,482.7 129.5,489.9"/>
<polygon class="k" fill="#0014f0" points="126.4,482.7 129.5,480.2 132.9,482.7 129.5,485.2"/>
<polygon class="k" fill="#0048ff" points="221.1,433.6 233.2,421.5 258.3,416.5 267.1,421.5 259.5,431.3 235.3,437.9"/>
<polygon class="k" fill="#0000d0" points="225.4,434.6 234.2,426.0 258.3,422.7 251.7,432.6 235.3,436.9"/>
<polygon class="k" fill="#0048ff" points="233.2,489.9 237.3,497.1 233.2,506.3 229.1,497.1"/>
<polygon class="k" fill="#ffec00" points="73.2,305.6 186.0,305.6 183.9,330.7 178.8,346.1 154.1,357.4 144.9,365.6 129.5,382.0 103.8,377.9 73.2,386.1"/>
<polygon class="k" fill="#d2ff2d" points="73.2,336.8 86.3,348.1 73.2,360.5"/>
<polygon class="k" fill="#ffec00" points="221.3,305.6 221.9,336.8 223.4,367.6 228.7,386.5 245.5,387.6 259.9,388.2 272.3,399.5 288.7,414.9 309.2,431.8 331.8,408.7 330.2,394.4 309.2,381.0 280.5,378.9 272.3,357.4 277.4,330.7 278.4,305.6"/>
<polygon class="k" fill="#ffec00" points="321.6,305.6 330.8,343.0 360.6,359.0 370.0,358.4 387.5,354.3 392.6,336.8 400.8,333.7 421.4,330.7 449.1,318.3 431.6,315.2 400.8,305.6"/>
<polygon class="k" fill="#ffec00" points="171.6,547.0 172.6,513.5 180.8,488.9 189.0,481.1 207.5,479.6 213.7,484.8 214.7,511.5 208.6,547.0"/>
<polygon class="k" fill="#ffec00" points="254.8,496.1 261.0,487.8 282.5,482.7 305.1,492.0 292.8,499.1 261.0,500.2"/>
<polygon class="k" fill="#ffec00" points="202.8,433.4 206.5,421.1 208.1,437.5"/>
<polygon class="k" fill="#ffec00" points="408.0,495.0 414.2,493.0 419.3,507.4 431.6,526.9 429.6,532.0 414.2,538.2 409.0,523.8"/>
<polygon class="k" fill="#ffec00" points="442.9,532.0 464.5,526.9 466.6,532.0 463.5,535.7"/>
<polygon class="k" fill="#ffec00" points="515.9,411.8 541.6,400.1 563.1,409.8 561.1,431.3 558.0,445.7 540.5,457.0 526.2,470.4 515.9,480.7 501.5,468.3 500.5,453.9 505.6,431.3"/>
<polygon class="k" fill="#ffec00" points="576.5,421.1 619.7,402.2 644.3,424.1 675.9,411.8 675.9,466.3 644.3,464.6 619.7,453.9 592.9,465.9 577.5,453.9 573.0,443.7"/>
<polygon class="k" fill="#ffec00" points="546.7,317.7 562.1,313.6 591.9,315.2 641.2,315.9 675.9,316.3 675.9,305.6 562.1,305.6"/>
<polygon class="k" fill="#ffec00" points="476.8,317.3 491.2,314.6 492.9,320.0"/>
<polygon class="k" fill="#ffbe00" points="73.2,305.6 182.9,305.6 180.8,326.5 177.7,336.8 145.9,352.2 129.5,372.8 109.9,357.4 107.9,350.2 73.2,334.8"/>
<polygon class="k" fill="#ffec00" points="96.6,305.6 102.7,322.4 107.9,305.6"/>
<polygon class="k" fill="#ffbe00" points="224.0,305.6 225.0,336.8 227.1,365.6 232.2,381.0 245.5,375.9 266.1,354.3 273.3,330.7 275.3,305.6"/>
<polygon class="k" fill="#ffbe00" points="272.3,385.1 284.6,380.0 309.2,382.4 324.7,392.3 326.1,408.7 309.2,423.1 290.8,410.8"/>
<polygon class="k" fill="#ffbe00" points="324.7,305.6 332.9,325.5 370.9,328.6 370.0,331.7 385.4,336.8 392.6,332.7 421.4,327.6 448.1,318.3 429.6,316.3 402.9,318.3 394.7,305.6"/>
<polygon class="k" fill="#ffbe00" points="178.8,523.8 181.8,508.4 194.2,486.8 206.5,483.1 210.6,490.9 208.6,503.3 190.1,519.7 187.0,534.1 181.8,537.2"/>
<polygon class="k" fill="#ffbe00" points="256.8,495.0 282.5,486.8 295.9,492.0 288.7,496.1 259.9,498.1"/>
<polygon class="k" fill="#ffbe00" points="665.9,445.7 675.9,433.4 675.9,448.8"/>
<polygon class="k" fill="#ff8000" points="116.1,305.6 177.7,305.6 175.3,326.5 142.8,345.0 129.5,365.6 118.6,351.6 114.5,345.5 93.7,336.4"/>
<polygon class="k" fill="#ff8000" points="73.2,318.3 92.1,324.1 73.2,327.6"/>
<polygon class="k" fill="#ff8000" points="227.1,305.6 228.1,347.1 233.2,376.9 259.9,352.2 269.2,330.7 270.2,305.6"/>
<polygon class="k" fill="#ff8000" points="281.5,392.3 286.6,389.2 309.2,390.2 318.5,397.4 319.5,408.7 310.3,415.9 292.8,406.7"/>
<polygon class="k" fill="#ff8000" points="329.8,305.6 334.3,320.4 370.9,321.4 370.0,320.8 388.5,320.0 390.5,305.6"/>
<polygon class="k" fill="#ff8000" points="200.3,490.9 206.5,486.8 209.6,492.0 206.5,501.2"/>
<polygon class="k" fill="#ff8000" points="262.0,494.0 282.5,490.9 289.7,493.4 280.5,496.1"/>
<polygon class="k" fill="#ff1800" points="129.5,305.6 162.3,305.6 160.3,321.4 134.6,338.9 115.1,334.8 127.4,324.5"/>
<polygon class="k" fill="#ff1800" points="231.2,305.6 232.2,330.7 233.2,350.2 257.9,352.2 266.1,330.7 267.1,305.6"/>
<polygon class="k" fill="#ff8000" points="390.5,323.5 411.1,320.8 431.6,324.5 411.1,327.6"/>
<polyline class="k" fill="none" points="464.5,420.7 464.5,435.0"/>
</g>
<path class="a" d="M79.25 311.60H669.90V541.00H79.25ZM79.25 311.60v-7.00M79.25 541.00v7.00M130.61 311.60v-7.00M130.61 541.00v7.00M181.97 311.60v-7.00M181.97 541.00v7.00M233.33 311.60v-7.00M233.33 541.00v7.00M284.69 311.60v-7.00M284.69 541.00v7.00M336.05 311.60v-7.00M336.05 541.00v7.00M387.42 311.60v-7.00M387.42 541.00v7.00M438.78 311.60v-7.00M438.78 541.00v7.00M490.14 311.60v-7.00M490.14 541.00v7.00M541.50 311.60v-7.00M541.50 541.00v7.00M592.86 311.60v-7.00M592.86 541.00v7.00M644.22 311.60v-7.00M644.22 541.00v7.00M669.90 311.60v-7.00M669.90 541.00v7.00M79.25 365.20h-7.00M669.90 365.20h7.00M79.25 418.60h-7.00M669.90 418.60h7.00M79.25 472.00h-7.00M669.90 472.00h7.00M79.25 525.40h-7.00M669.90 525.40h7.00M79.25 541.00h-7.00M669.90 541.00h7.00"/>
<text class="t" x="65.8" y="373.8" text-anchor="end">-10</text>
<text class="t" x="65.8" y="427.2" text-anchor="end">-20</text>
<text class="t" x="65.8" y="480.6" text-anchor="end">-30</text>
<text class="t" x="65.8" y="534.0" text-anchor="end">-40</text>
<text class="t" x="65.8" y="549.6" text-anchor="end">43</text>
<text class="T" x="374.6" y="305.8" text-anchor="middle">-vadv</text>
<text class="T" transform="translate(21.2 426.3) rotate(-90)" text-anchor="middle">depth/(m)</text>
<rect x="683.80" y="311.60" width="26.70" height="229.40" fill="url(#jet)"/>
<text class="t" x="717.5" y="320.2">30</text>
<text class="t" x="717.5" y="353.0">20</text>
<text class="t" x="717.5" y="385.7">10</text>
<text class="t" x="717.5" y="418.5">0</text>
<text class="t" x="717.5" y="451.3">-10</text>
<text class="t" x="717.5" y="484.1">-20</text>
<text class="t" x="717.5" y="516.8">-30</text>
<text class="t" x="717.5" y="549.6">-40</text>
<path d="M710.50 344.37h-7M710.50 377.14h-7M710.50 409.91h-7M710.50 442.69h-7M710.50 475.46h-7M710.50 508.23h-7" stroke="#262626" stroke-width="0.8" fill="none" opacity="0.75"/>
<rect x="683.80" y="311.60" width="26.70" height="229.40" fill="none" stroke="#262626" stroke-width="0.7" opacity="0.6"/>
</g>
<g id="A22">
<clipPath id="cA22"><rect x="793.60" y="311.60" width="590.90" height="229.40"/></clipPath>
<rect x="793.60" y="311.60" width="590.90" height="229.40" fill="#d2ff2d"/>
<g clip-path="url(#cA22)">
<polygon class="w" fill="#90ff70" points="787.6,305.6 828.0,305.6 830.1,316.3 835.2,320.4 864.0,324.1 844.5,329.0 817.8,326.5 787.6,319.4"/>
<polygon class="k" fill="#60fca0" points="787.6,305.6 798.2,305.6 797.6,316.7 787.6,317.3"/>
<polygon class="k" fill="#ffec00" points="787.6,324.1 798.9,323.5 787.6,330.2"/>
<polygon class="w" fill="#90ff70" points="897.9,305.6 906.1,317.3 904.1,323.5 922.6,342.0 924.6,371.8 936.9,374.2 967.8,374.2 998.6,372.2 1005.8,360.5 994.5,340.9 984.2,326.5 1008.9,316.3 1002.7,305.6"/>
<polygon class="w" fill="#90ff70" points="998.6,375.5 973.9,381.0 972.9,393.3 947.2,400.9 923.6,409.8 947.2,418.6 973.9,424.8 996.5,418.0 1013.0,421.1 1025.3,434.4 1052.0,429.3 1076.7,421.1 1086.9,398.5 1076.7,392.3 1052.0,405.7 1019.1,400.5 990.4,396.4 1009.9,385.1"/>
<polygon class="w" fill="#90ff70" points="1041.7,305.6 1056.1,316.3 1072.6,318.3 1084.0,315.2 1110.7,305.6"/>
<polygon class="w" fill="#90ff70" points="1143.6,305.6 1155.9,317.3 1178.5,320.8 1199.1,316.3 1203.2,305.6"/>
<polygon class="w" fill="#90ff70" points="1373.7,305.6 1390.5,318.3 1390.5,305.6"/>
<polyline class="k" fill="none" points="1230.9,314.2 1254.5,315.2" style="stroke-width:3.0"/>
<polygon class="w" fill="#90ff70" points="828.0,394.4 832.2,385.1 844.5,377.9 863.0,386.1 860.9,398.5 844.5,413.9 833.2,404.6"/>
<polygon class="w" fill="#90ff70" points="787.6,426.2 804.4,435.5 808.5,447.8 819.8,452.9 821.9,435.5 844.5,424.1 895.8,420.0 917.4,433.4 871.2,439.6 865.0,445.7 823.9,459.1 821.9,472.4 819.8,477.6 787.6,474.5"/>
<polygon class="k" fill="#60fca0" points="841.4,445.7 844.5,434.4 848.2,445.7 844.5,447.8"/>
<polygon class="k" fill="#ffec00" points="839.3,470.4 845.5,465.9 853.7,470.4 845.5,477.6"/>
<polygon class="w" fill="#90ff70" points="901.0,470.4 920.5,461.1 953.4,459.1 994.5,465.2 1017.1,470.4 1020.2,482.7 1043.8,494.0 1017.1,500.2 988.3,496.1 986.3,507.4 978.0,511.5 959.5,504.3 947.2,500.8 912.3,499.1 907.1,494.0 930.8,486.8 930.8,480.7"/>
<polygon class="k" fill="#60fca0" points="931.8,496.1 947.2,484.8 962.6,495.0 947.2,498.1"/>
<polygon class="k" fill="#18ffe6" points="943.1,495.5 947.2,492.0 951.7,495.5"/>
<polygon class="k" fill="#ffec00" points="928.7,507.4 947.2,503.3 959.5,506.3 969.8,517.6 981.1,519.7 969.8,523.8 957.5,534.1 959.5,547.0 930.8,547.0 936.9,532.0 941.1,519.7"/>
<polygon class="k" fill="#ffbe00" points="940.0,508.4 953.4,508.4 947.2,514.6"/>
<polygon class="k" fill="#ffec00" points="989.3,547.0 999.0,525.9 1013.0,547.0"/>
<polygon class="w" fill="#90ff70" points="1101.5,482.7 1128.2,460.1 1145.6,470.4 1179.5,485.8 1204.2,476.1 1208.3,482.7 1203.2,494.0 1179.5,503.3 1152.8,500.8 1145.6,494.0 1125.1,486.8"/>
<polygon class="w" fill="#90ff70" points="1177.5,511.5 1207.3,518.7 1206.3,522.2 1176.9,521.3"/>
<polygon class="w" fill="#90ff70" points="1240.2,494.6 1256.6,483.1 1308.0,489.3 1333.7,482.7 1390.5,492.0 1390.5,508.4 1308.0,509.8 1283.3,507.0 1258.7,500.2"/>
<polygon class="w" fill="#90ff70" points="1084.0,394.4 1088.1,398.5 1084.0,409.8"/>
<polygon class="k" fill="#60fca0" points="920.5,305.6 923.6,328.6 927.1,347.1 927.7,363.5 933.9,372.2 947.2,374.2 963.7,371.8 970.8,363.5 970.8,326.5 968.8,305.6"/>
<polygon class="k" fill="#18ffe6" points="925.6,305.6 928.3,328.6 930.4,347.1 931.2,362.5 936.9,370.7 947.2,372.2 960.6,369.7 967.4,361.5 967.8,326.5 966.1,305.6"/>
<polygon class="k" fill="#00a8ff" points="931.8,305.6 933.9,328.6 935.3,347.1 936.3,361.5 941.1,367.6 947.2,368.7 957.5,365.6 963.2,357.4 963.7,326.5 962.6,305.6"/>
<polygon class="k" fill="#0048ff" points="943.1,305.6 944.1,336.8 941.1,357.4 947.2,366.6 955.4,359.4 952.4,336.8 951.3,305.6"/>
<polygon class="k" fill="#0000d0" points="946.2,357.4 947.2,355.3 948.5,359.8 947.2,362.5"/>
<polygon class="k" fill="#ffec00" points="923.6,387.2 947.2,377.9 970.8,385.1 969.8,394.4 947.2,399.5 923.6,396.4"/>
<polygon class="k" fill="#ffbe00" points="927.1,387.2 947.2,379.6 968.2,385.7 967.4,393.9 947.2,398.5 927.1,395.6"/>
<polygon class="k" fill="#ff8000" points="930.8,386.5 947.2,381.0 964.7,386.1 963.7,393.3 947.2,397.4 930.8,394.8"/>
<polygon class="k" fill="#ff1800" points="935.9,385.1 947.2,382.0 959.5,385.7 953.4,396.4 947.2,397.4 941.1,396.4"/>
<polygon class="k" fill="#8c0000" points="942.1,385.1 947.2,383.1 953.4,385.1 947.2,394.4"/>
<polygon class="k" fill="#000000" points="928.7,409.8 951.3,403.6 970.8,409.8 951.3,415.9"/>
<polygon class="k" fill="#ffec00" points="924.6,422.1 947.2,418.6 969.8,422.1 971.9,433.4 988.3,446.8 973.9,452.9 947.2,454.4 930.8,447.8 925.6,437.5"/>
<polygon class="k" fill="#ffbe00" points="929.8,422.7 947.2,420.0 966.7,423.1 967.8,437.5 970.8,445.7 947.2,450.9 932.8,441.6"/>
<polygon class="k" fill="#ff8000" points="933.9,423.1 947.2,420.7 962.6,423.5 963.7,435.5 947.2,444.7 934.9,435.5"/>
<polygon class="k" fill="#ff1800" points="941.1,423.1 947.2,421.5 954.4,423.5 954.4,432.4 947.2,439.6 941.1,432.4"/>
</g>
<path class="a" d="M793.60 311.60H1384.50V541.00H793.60ZM793.60 311.60v-7.00M793.60 541.00v7.00M844.98 311.60v-7.00M844.98 541.00v7.00M896.37 311.60v-7.00M896.37 541.00v7.00M947.75 311.60v-7.00M947.75 541.00v7.00M999.13 311.60v-7.00M999.13 541.00v7.00M1050.51 311.60v-7.00M1050.51 541.00v7.00M1101.90 311.60v-7.00M1101.90 541.00v7.00M1153.28 311.60v-7.00M1153.28 541.00v7.00M1204.66 311.60v-7.00M1204.66 541.00v7.00M1256.04 311.60v-7.00M1256.04 541.00v7.00M1307.43 311.60v-7.00M1307.43 541.00v7.00M1358.81 311.60v-7.00M1358.81 541.00v7.00M1384.50 311.60v-7.00M1384.50 541.00v7.00M793.60 365.20h-7.00M1384.50 365.20h7.00M793.60 418.60h-7.00M1384.50 418.60h7.00M793.60 472.00h-7.00M1384.50 472.00h7.00M793.60 525.40h-7.00M1384.50 525.40h7.00M793.60 541.00h-7.00M1384.50 541.00h7.00"/>
<text class="T" x="1089.0" y="305.8" text-anchor="middle">hdif+vdif+rad</text>
<rect x="1398.40" y="311.60" width="27.00" height="229.40" fill="url(#jet)"/>
<text class="t" x="1432.4" y="320.2">3</text>
<text class="t" x="1432.4" y="353.0">2</text>
<text class="t" x="1432.4" y="385.7">1</text>
<text class="t" x="1432.4" y="418.5">0</text>
<text class="t" x="1432.4" y="451.3">-1</text>
<text class="t" x="1432.4" y="484.1">-2</text>
<text class="t" x="1432.4" y="516.8">-3</text>
<text class="t" x="1432.4" y="549.6">-4</text>
<path d="M1425.40 344.37h-7M1425.40 377.14h-7M1425.40 409.91h-7M1425.40 442.69h-7M1425.40 475.46h-7M1425.40 508.23h-7" stroke="#262626" stroke-width="0.8" fill="none" opacity="0.75"/>
<rect x="1398.40" y="311.60" width="27.00" height="229.40" fill="none" stroke="#262626" stroke-width="0.7" opacity="0.6"/>
</g>
<g id="A31">
<clipPath id="cA31"><rect x="79.30" y="579.40" width="592.10" height="229.80"/></clipPath>
<rect x="79.30" y="579.40" width="592.10" height="229.80" fill="#90ff70"/>
<g clip-path="url(#cA31)">
<polygon class="k" fill="#60fca0" points="73.3,587.4 95.5,596.6 97.6,604.8 155.1,592.5 165.4,596.6 177.7,604.8 181.8,625.4 178.8,672.6 157.2,685.0 153.1,691.1 155.1,709.6 165.4,717.8 165.4,744.5 144.9,754.8 118.2,763.0 112.0,774.3 132.5,779.5 143.8,789.8 138.7,798.0 105.8,801.1 73.3,807.2"/>
<polygon class="k" fill="#90ff70" points="97.6,604.8 90.4,612.0 87.3,645.9 103.8,676.7 107.9,635.6 105.8,608.9"/>
<polygon class="k" fill="#90ff70" points="73.3,736.3 105.8,709.6 108.9,732.2 103.8,746.6 73.3,739.4"/>
<polygon class="k" fill="#18ffe6" points="115.1,617.2 126.4,606.9 157.2,597.6 165.4,604.8 169.5,621.3 175.7,635.6 171.6,672.6 155.1,685.0 152.1,693.2 129.5,708.6 112.0,689.1 115.1,656.2"/>
<polygon class="k" fill="#00a8ff" points="122.3,618.2 130.5,611.0 157.2,602.8 154.1,618.2 164.4,628.5 146.9,672.6 129.5,698.3 119.2,686.0 123.3,635.6"/>
<polygon class="k" fill="#18ffe6" points="115.1,734.3 124.3,719.9 155.1,709.6 161.3,715.8 162.3,730.2 144.9,750.7 129.5,750.7 119.2,742.5"/>
<polygon class="k" fill="#00a8ff" points="120.2,736.3 129.5,724.0 144.9,727.1 142.8,736.3 134.6,745.6 128.4,745.6"/>
<polygon class="k" fill="#18ffe6" points="73.3,695.2 81.2,705.5 73.3,715.8"/>
<polygon class="k" fill="#18ffe6" points="73.3,590.4 89.4,591.5 81.2,595.6 73.3,595.6"/>
<polygon class="w" fill="#d2ff2d" points="84.2,573.4 101.7,594.5 128.8,592.1 120.2,585.3 136.6,573.4"/>
<polygon class="k" fill="#ffec00" points="100.7,573.4 102.7,589.4 105.8,573.4"/>
<polygon class="k" fill="#60fca0" points="150.0,583.2 154.1,581.2 156.2,585.9"/>
<polygon class="k" fill="#ffec00" points="171.6,573.4 181.8,584.3 194.2,573.4"/>
<polygon class="k" fill="#60fca0" points="311.3,586.3 321.6,592.5 340.1,600.7 346.2,625.4 342.1,650.0 362.7,658.2 370.0,656.2 388.5,652.1 394.7,676.7 390.5,697.3 382.3,717.8 376.2,738.4 380.3,750.7 398.8,763.0 423.4,789.8 425.5,798.0 411.1,815.2 366.8,815.2 364.7,779.5 362.7,761.0 336.0,771.3 311.3,767.1 318.5,738.4 320.5,701.4 317.5,689.1 311.3,662.4 303.5,635.6 305.1,604.8"/>
<polygon class="k" fill="#18ffe6" points="309.2,600.7 316.4,602.8 320.5,616.1 316.4,628.5 310.3,629.5"/>
<polygon class="k" fill="#18ffe6" points="344.2,697.3 349.3,689.1 361.6,678.8 370.9,689.1 371.0,701.4 370.0,721.9 362.7,740.4 350.3,730.2 343.1,713.7"/>
<polygon class="k" fill="#60fca0" points="368.8,600.7 375.0,594.5 375.0,606.9"/>
<polygon class="w" fill="#d2ff2d" points="340.1,573.4 354.5,586.7 375.0,589.4 407.0,583.2 487.1,582.2 487.1,573.4"/>
<polygon class="k" fill="#ffec00" points="352.4,573.4 362.7,585.9 372.9,573.4"/>
<polygon class="w" fill="#d2ff2d" points="206.5,573.4 190.1,592.5 182.9,604.8 183.9,635.6 182.3,672.6 170.5,699.3 169.5,738.4 177.7,758.9 186.0,775.4 192.1,815.2 258.9,815.2 255.8,800.0 245.5,779.5 250.7,758.9 249.7,728.1 231.2,713.7 230.1,699.3 249.7,676.7 231.2,653.1 250.7,633.6 249.7,623.3 248.6,573.4"/>
<polygon class="k" fill="#ffec00" points="209.6,573.4 193.1,594.5 186.0,606.9 187.0,635.6 182.9,689.1 180.8,717.8 186.0,742.5 206.5,789.8 222.9,815.2 239.4,815.2 245.5,795.9 244.5,779.5 248.6,758.9 247.6,730.2 229.1,714.8 228.1,699.3 246.6,676.7 229.1,653.1 247.6,633.6 247.2,623.3 246.6,573.4"/>
<polygon class="k" fill="#ffbe00" points="212.7,573.4 196.2,594.5 188.0,608.9 189.0,635.6 184.9,689.1 183.9,717.8 190.1,742.5 210.6,779.5 231.2,800.0 237.3,783.6 243.5,771.3 247.2,756.9 246.0,731.2 227.1,715.8 226.0,699.3 244.5,676.7 227.1,653.1 245.1,633.6 244.5,573.4"/>
<polygon class="k" fill="#ff8000" points="216.8,573.4 198.3,596.6 191.1,611.0 191.1,635.6 187.0,689.1 187.0,717.8 194.2,738.4 214.7,771.3 233.2,781.5 241.4,767.1 245.5,754.8 244.5,732.2 224.0,715.8 222.9,699.3 242.5,676.7 225.0,654.1 243.5,633.6 242.5,573.4"/>
<polygon class="k" fill="#ff1800" points="225.0,573.4 206.5,596.6 196.2,611.0 194.2,635.6 198.3,697.3 206.5,721.9 216.8,697.3 235.3,689.1 243.9,676.7 219.9,662.4 221.9,652.1 231.2,650.0 241.8,635.6 237.3,623.3 236.3,573.4"/>
<polygon class="k" fill="#8c0000" points="231.2,573.4 210.6,596.6 200.3,613.0 197.9,639.8 199.3,672.6 206.5,698.3 214.7,690.1 234.2,688.0 244.5,676.7 227.1,664.4 219.9,663.4 221.9,653.1 239.4,637.7 235.3,623.3 234.2,573.4"/>
<polygon class="k" fill="#ff1800" points="218.8,737.4 232.2,732.2 237.3,748.7 244.5,758.9 241.4,765.1 232.2,773.3 218.8,763.0"/>
<polygon class="k" fill="#8c0000" points="222.9,762.0 233.2,746.6 240.4,763.0 233.2,769.2"/>
<polygon class="k" fill="#18ffe6" points="252.7,573.4 271.2,573.4 272.7,635.6 270.2,656.2 266.1,641.8 255.8,641.8 253.4,623.3"/>
<polygon class="k" fill="#00a8ff" points="255.4,573.4 269.2,573.4 268.6,615.1 265.1,635.6 259.9,633.6 256.8,615.1"/>
<polygon class="k" fill="#18ffe6" points="253.8,635.6 235.3,653.1 252.7,676.7 237.3,697.3 249.7,715.8 258.9,718.9 267.1,703.5 271.2,676.7 269.2,652.1 265.1,635.6"/>
<polygon class="k" fill="#00a8ff" points="256.8,635.6 241.4,653.1 254.8,676.7 242.5,695.2 251.7,707.6 258.9,713.7 266.1,699.3 269.2,676.7 267.1,652.1 263.0,637.7"/>
<polygon class="k" fill="#0048ff" points="258.9,637.7 249.7,652.1 255.8,676.7 249.7,693.2 258.9,707.6 265.1,695.2 267.1,676.7 265.1,654.1"/>
<polygon class="k" fill="#0014f0" points="258.9,643.9 252.7,656.2 256.8,676.7 253.8,691.1 258.9,701.4 263.0,691.1 265.1,676.7 263.0,656.2"/>
<polygon class="k" fill="#00008f" points="258.9,652.1 255.4,662.4 257.9,689.1 261.0,676.7"/>
<polygon class="k" fill="#18ffe6" points="258.9,732.2 265.1,748.7 265.7,769.2 258.9,788.7 252.7,769.2 253.4,748.7"/>
<polygon class="k" fill="#00a8ff" points="258.9,742.5 262.4,754.8 262.0,769.2 258.9,777.4 255.8,767.1 256.2,752.8"/>
<polygon class="w" fill="#d2ff2d" points="272.3,573.4 275.3,641.8 272.3,689.1 269.2,713.7 269.8,758.9 271.2,791.8 265.1,800.0 263.0,815.2 330.8,815.2 326.7,787.7 313.4,771.3 315.4,697.3 311.3,685.0 303.1,652.1 292.8,635.6 300.0,604.8 307.2,573.4"/>
<polygon class="k" fill="#ffec00" points="277.4,573.4 278.4,615.1 283.6,636.7 290.8,629.5 297.9,604.8 301.0,573.4"/>
<polygon class="k" fill="#ffbe00" points="280.5,573.4 281.5,615.1 284.6,631.5 288.7,623.3 293.8,604.8 296.9,573.4"/>
<polygon class="k" fill="#ff8000" points="282.5,573.4 283.6,604.8 285.6,621.3 288.7,604.8 289.7,573.4"/>
<polygon class="k" fill="#ffec00" points="283.6,643.9 292.8,652.1 305.1,676.7 310.3,697.3 309.2,771.3 310.3,787.7 311.3,799.0 299.0,789.8 282.5,783.6 274.3,771.3 272.7,717.8 277.4,676.7"/>
<polygon class="k" fill="#ffbe00" points="283.6,650.0 290.8,656.2 301.0,676.7 306.2,697.3 304.1,771.3 299.0,781.5 284.6,779.5 277.4,771.3 275.3,717.8 280.5,676.7"/>
<polygon class="k" fill="#ff8000" points="283.6,660.3 288.7,662.4 296.9,680.8 299.0,717.8 297.9,758.9 292.8,775.4 284.6,776.4 280.5,767.1 278.4,717.8 282.1,680.8"/>
<polygon class="k" fill="#ff1800" points="284.6,670.6 289.7,685.0 290.8,697.3 284.6,711.7 282.5,689.1"/>
<polygon class="k" fill="#ff1800" points="285.0,736.3 288.7,752.8 284.6,767.1 281.5,752.8"/>
<polygon class="k" fill="#18ffe6" points="375.1,763.0 386.4,757.9 394.7,767.1 400.8,787.7 396.7,800.0 387.5,806.2 378.2,795.9"/>
<polyline class="k" fill="none" points="387.5,762.0 387.5,773.3"/>
<polygon class="k" fill="#60fca0" points="370.0,592.5 388.5,581.2 415.2,592.1 388.5,612.0 370.0,604.8"/>
<polygon class="w" fill="#d2ff2d" points="406.0,617.2 414.2,607.9 423.4,617.2 418.3,629.5 419.3,717.8 438.8,767.1 456.3,752.8 458.4,697.3 466.6,672.6 481.0,652.1 493.3,643.9 497.4,604.8 511.8,587.4 546.7,592.5 534.4,641.8 522.1,707.6 513.8,734.3 493.3,771.3 487.1,800.0 485.1,815.2 452.2,815.2 439.9,779.5 413.2,771.3 390.5,738.4 386.4,721.9 411.1,705.5 414.2,631.5"/>
<polygon class="k" fill="#ffec00" points="516.9,603.8 524.1,621.3 526.2,641.8 522.1,676.7 517.9,697.3 505.6,713.7 497.4,738.4 491.2,758.9 483.0,748.7 476.8,726.1 481.0,705.5 493.3,680.8 503.6,656.2 509.7,625.4"/>
<polyline class="k" fill="none" points="516.5,652.1 516.5,664.4"/>
<polygon class="k" fill="#ffec00" points="407.0,750.7 414.2,743.5 420.3,750.7 423.4,762.0 413.2,767.1 409.0,758.9"/>
<polygon class="k" fill="#ffec00" points="454.2,787.7 465.5,777.4 477.9,787.7 474.8,796.9 465.5,804.1 458.4,796.9"/>
<polygon class="w" fill="#d2ff2d" points="462.5,604.8 465.5,598.7 468.6,611.0 465.5,624.3"/>
<polygon class="k" fill="#60fca0" points="439.5,646.9 447.1,666.5 439.9,702.4 433.7,670.6"/>
<polygon class="k" fill="#60fca0" points="568.3,621.3 577.5,639.8 579.6,676.7 573.4,713.7 565.2,734.3 542.6,774.3 567.3,782.6 620.7,779.5 628.9,788.7 620.7,804.1 596.0,815.2 517.9,815.2 507.7,798.0 506.6,775.4 524.1,763.0 522.1,750.7 532.3,676.7 540.5,650.0"/>
<polygon class="k" fill="#18ffe6" points="568.3,656.2 571.4,672.6 569.3,693.2 559.0,721.9 550.8,742.5 542.6,751.7 534.4,734.3 534.4,707.6 542.6,672.6"/>
<polygon class="k" fill="#00a8ff" points="543.0,700.4 546.7,713.7 543.6,733.2 540.5,717.8"/>
<polygon class="w" fill="#d2ff2d" points="594.4,632.6 604.2,664.4 605.3,693.2 594.0,730.2 588.8,697.3 588.8,662.4"/>
<polygon class="w" fill="#d2ff2d" points="646.4,697.3 654.6,726.1 656.6,773.3 645.3,784.6 636.1,773.3 638.1,726.1"/>
<polygon class="k" fill="#60fca0" points="612.5,582.2 624.8,582.2 623.8,589.4 633.0,603.8 625.8,625.4 619.7,644.9 614.5,625.4 608.4,604.8 616.6,590.4"/>
<polyline class="k" fill="none" points="620.1,678.8 620.1,719.9"/>
</g>
<path class="a" d="M79.30 579.40H671.40V809.20H79.30ZM79.30 579.40v-7.00M79.30 809.20v7.00M130.79 579.40v-7.00M130.79 809.20v7.00M182.27 579.40v-7.00M182.27 809.20v7.00M233.76 579.40v-7.00M233.76 809.20v7.00M285.25 579.40v-7.00M285.25 809.20v7.00M336.73 579.40v-7.00M336.73 809.20v7.00M388.22 579.40v-7.00M388.22 809.20v7.00M439.71 579.40v-7.00M439.71 809.20v7.00M491.20 579.40v-7.00M491.20 809.20v7.00M542.68 579.40v-7.00M542.68 809.20v7.00M594.17 579.40v-7.00M594.17 809.20v7.00M645.66 579.40v-7.00M645.66 809.20v7.00M671.40 579.40v-7.00M671.40 809.20v7.00M79.30 633.00h-7.00M671.40 633.00h7.00M79.30 686.40h-7.00M671.40 686.40h7.00M79.30 739.80h-7.00M671.40 739.80h7.00M79.30 793.20h-7.00M671.40 793.20h7.00M79.30 809.20h-7.00M671.40 809.20h7.00"/>
<text class="t" x="65.8" y="641.6" text-anchor="end">-10</text>
<text class="t" x="65.8" y="695.0" text-anchor="end">-20</text>
<text class="t" x="65.8" y="748.4" text-anchor="end">-30</text>
<text class="t" x="65.8" y="801.8" text-anchor="end">-40</text>
<text class="t" x="65.8" y="817.8" text-anchor="end">43</text>
<text class="t" x="79.3" y="845.2" text-anchor="middle">7/12</text>
<text class="t" x="130.8" y="845.2" text-anchor="middle">7/14</text>
<text class="t" x="182.3" y="845.2" text-anchor="middle">7/16</text>
<text class="t" x="233.8" y="845.2" text-anchor="middle">7/18</text>
<text class="t" x="285.2" y="845.2" text-anchor="middle">7/20</text>
<text class="t" x="336.7" y="845.2" text-anchor="middle">7/22</text>
<text class="t" x="388.2" y="845.2" text-anchor="middle">7/24</text>
<text class="t" x="439.7" y="845.2" text-anchor="middle">7/26</text>
<text class="t" x="491.2" y="845.2" text-anchor="middle">7/28</text>
<text class="t" x="542.7" y="845.2" text-anchor="middle">7/30</text>
<text class="t" x="594.2" y="845.2" text-anchor="middle">8/1</text>
<text class="t" x="629.7" y="845.2">8/3/4</text>
<text class="T" x="375.3" y="573.6" text-anchor="middle">-hadv-vadv</text>
<text class="T" transform="translate(21.3 694.3) rotate(-90)" text-anchor="middle">depth/(m)</text>
<rect x="685.30" y="579.40" width="26.30" height="229.80" fill="url(#jet)"/>
<text class="t" x="718.6" y="588.0">3</text>
<text class="t" x="718.6" y="620.8">2</text>
<text class="t" x="718.6" y="653.7">1</text>
<text class="t" x="718.6" y="686.5">0</text>
<text class="t" x="718.6" y="719.3">-1</text>
<text class="t" x="718.6" y="752.1">-2</text>
<text class="t" x="718.6" y="785.0">-3</text>
<text class="t" x="718.6" y="817.8">-4</text>
<path d="M711.60 612.23h-7M711.60 645.06h-7M711.60 677.89h-7M711.60 710.71h-7M711.60 743.54h-7M711.60 776.37h-7" stroke="#262626" stroke-width="0.8" fill="none" opacity="0.75"/>
<rect x="685.30" y="579.40" width="26.30" height="229.80" fill="none" stroke="#262626" stroke-width="0.7" opacity="0.6"/>
</g>
<g id="A32">
<clipPath id="cA32"><rect x="795.40" y="579.40" width="591.20" height="229.80"/></clipPath>
<rect x="795.40" y="579.40" width="591.20" height="229.80" fill="#90ff70"/>
<g clip-path="url(#cA32)">
<polygon class="k" fill="#60fca0" points="789.4,660.3 807.4,665.4 819.8,674.7 825.9,618.2 844.4,604.8 871.1,592.5 891.7,604.8 896.2,617.2 896.8,641.8 894.8,672.6 879.4,682.9 868.1,693.2 872.2,707.6 882.4,715.8 879.4,730.2 852.6,749.7 834.2,760.0 818.7,769.2 810.5,764.1 811.5,751.7 820.8,734.3 819.8,713.7 807.4,736.3 789.4,742.5"/>
<polygon class="k" fill="#18ffe6" points="829.0,635.6 833.1,618.2 844.4,608.9 871.1,597.6 881.4,604.8 885.5,625.4 889.6,639.8 870.1,685.0 873.2,709.6 877.3,715.8 873.2,730.2 845.5,746.2 833.1,738.4 834.2,713.7 828.0,680.8"/>
<polygon class="k" fill="#00a8ff" points="839.3,635.6 844.8,616.1 869.1,623.3 876.3,628.5 870.1,652.1 854.7,689.1 845.5,707.6 836.2,695.2 835.2,666.5"/>
<polygon class="k" fill="#00a8ff" points="840.3,737.4 845.5,729.1 850.2,738.4 845.5,740.4"/>
<polygon class="k" fill="#18ffe6" points="789.4,697.3 797.2,707.6 789.4,717.8"/>
<polygon class="k" fill="#60fca0" points="789.4,573.4 798.2,573.4 797.2,592.5 789.4,593.5"/>
<polygon class="k" fill="#60fca0" points="789.4,615.1 799.2,617.2 789.4,623.3"/>
<polygon class="w" fill="#d2ff2d" points="811.5,573.4 813.6,592.5 817.7,595.6 848.5,591.5 851.6,584.3 850.6,573.4"/>
<polygon class="w" fill="#d2ff2d" points="876.3,573.4 887.6,588.4 898.9,592.9 891.7,602.8 896.8,611.0 898.9,635.6 897.8,672.6 894.8,695.2 887.6,701.4 886.5,717.8 882.4,736.3 884.5,748.7 897.8,769.2 903.0,789.8 903.0,815.2 1058.1,815.2 1054.0,787.7 1024.2,769.2 1023.2,730.2 1030.4,713.7 1027.3,689.1 1019.1,656.2 1013.9,635.6 1016.0,594.5 1022.2,573.4"/>
<polygon class="w" fill="#90ff70" points="912.2,573.4 914.3,585.3 922.5,589.4 937.9,586.3 940.0,573.4"/>
<polygon class="k" fill="#60fca0" points="919.4,573.4 922.1,584.7 925.0,573.4"/>
<polygon class="k" fill="#ffec00" points="887.6,573.4 889.6,584.3 897.8,585.3 903.0,582.2 903.6,573.4"/>
<polygon class="k" fill="#ffec00" points="944.1,573.4 934.8,589.4 920.5,592.5 903.0,600.7 898.3,604.8 901.3,635.6 900.3,672.6 897.4,697.3 895.4,717.8 898.3,736.3 907.1,754.8 917.4,779.5 920.0,815.2 965.7,815.2 965.2,779.5 963.2,771.3 962.6,730.2 959.5,717.8 956.4,707.6 960.5,697.3 959.5,641.8 954.8,615.1 952.9,573.4"/>
<polygon class="k" fill="#ffbe00" points="947.2,573.4 943.1,594.5 922.5,594.5 906.1,601.7 901.5,606.9 904.0,635.6 903.0,672.6 900.9,697.3 899.9,717.8 906.1,738.4 916.3,754.8 926.6,779.5 930.7,815.2 961.5,815.2 961.5,779.5 960.5,730.2 957.4,717.8 954.4,707.6 958.5,697.3 957.4,641.8 953.3,615.1 951.3,573.4"/>
<polygon class="k" fill="#ff8000" points="922.5,597.6 941.0,602.8 953.3,627.4 956.4,641.8 957.0,697.3 953.3,707.6 955.4,717.8 958.5,730.2 959.1,779.5 955.4,815.2 940.0,815.2 938.9,789.8 932.8,771.3 922.5,754.8 914.3,738.4 906.1,717.8 903.6,697.3 906.1,672.6 907.1,635.6 906.1,611.0"/>
<polygon class="k" fill="#ff1800" points="922.5,601.7 938.9,608.9 951.3,635.6 954.4,656.2 955.0,689.1 951.3,705.5 943.1,713.7 922.5,726.1 914.3,707.6 909.1,672.6 909.1,635.6 912.2,613.0"/>
<polygon class="k" fill="#8c0000" points="922.5,605.8 934.8,615.1 947.2,639.8 952.3,666.5 952.3,689.1 948.2,699.3 922.5,699.3 914.3,672.6 912.2,635.6 915.3,617.2"/>
<polygon class="k" fill="#ff1800" points="936.9,738.4 947.2,732.2 951.3,738.4 955.4,763.0 951.3,775.4 947.2,781.5 936.9,769.2 934.8,754.8"/>
<polygon class="k" fill="#8c0000" points="942.0,763.0 948.2,752.8 952.3,763.0 948.2,776.4"/>
<polygon class="w" fill="#90ff70" points="955.4,573.4 957.4,615.1 962.6,639.8 963.2,697.3 969.8,709.6 974.9,713.7 979.0,711.7 988.3,697.3 993.4,660.3 994.4,641.8 989.3,625.4 987.2,573.4"/>
<polygon class="w" fill="#90ff70" points="974.9,713.7 967.7,717.8 965.7,730.2 965.7,771.3 973.9,783.6 985.2,771.3 984.1,730.2 982.1,717.8"/>
<polyline class="w" fill="none" points="973.9,783.6 973.5,815.2"/>
<polygon class="k" fill="#60fca0" points="959.1,573.4 960.5,615.1 964.6,639.8 965.2,695.2 971.8,707.6 974.9,710.6 978.4,707.6 986.2,695.2 990.7,660.3 991.3,642.8 986.6,625.4 985.2,573.4"/>
<polygon class="k" fill="#18ffe6" points="963.2,573.4 964.0,615.1 966.1,641.8 967.3,693.2 974.9,707.6 984.1,693.2 988.3,660.3 988.7,643.9 984.1,625.4 982.1,573.4"/>
<polygon class="k" fill="#00a8ff" points="968.1,573.4 968.1,615.1 967.7,641.8 968.7,689.1 974.9,705.5 982.1,689.1 985.2,660.3 984.1,641.8 979.0,625.4 978.4,573.4"/>
<polygon class="k" fill="#0048ff" points="974.9,640.8 968.1,656.2 968.7,686.0 974.9,703.5 981.7,686.0 983.7,660.3"/>
<polygon class="k" fill="#0014f0" points="974.9,645.9 970.8,660.3 971.0,683.9 974.9,698.3 979.2,683.9 980.9,660.3"/>
<polygon class="k" fill="#00008f" points="974.9,653.1 972.6,662.4 973.1,680.8 974.9,692.1 977.2,680.8 978.0,662.4"/>
<polygon class="k" fill="#60fca0" points="974.9,717.8 969.8,732.2 968.7,769.2 974.5,780.5 982.1,769.2 981.1,732.2"/>
<polygon class="k" fill="#18ffe6" points="974.9,730.2 971.8,742.5 971.4,767.1 974.5,777.4 979.0,767.1 978.4,742.5"/>
<polygon class="k" fill="#00a8ff" points="974.9,744.5 972.8,754.8 972.8,769.2 974.5,774.3 977.0,769.2 977.0,754.8"/>
<polygon class="k" fill="#ffec00" points="991.3,573.4 993.4,615.1 998.5,633.6 1002.6,637.7 1007.8,631.5 1012.9,615.1 1013.9,594.5 1017.0,573.4"/>
<polygon class="k" fill="#ffbe00" points="993.4,573.4 995.5,615.1 999.6,629.5 1003.7,632.6 1009.8,615.1 1011.9,594.5 1013.9,573.4"/>
<polygon class="k" fill="#ff8000" points="995.5,573.4 997.5,604.8 1000.6,623.3 1005.7,604.8 1007.8,573.4"/>
<polygon class="k" fill="#ffec00" points="1002.6,641.8 1008.8,652.1 1017.0,664.4 1024.2,689.1 1026.3,713.7 1020.1,730.2 1021.1,769.2 1027.3,779.5 1030.4,787.7 1027.3,815.2 988.3,815.2 987.2,779.5 983.1,730.2 984.1,717.8 991.3,697.3 996.5,662.4"/>
<polygon class="k" fill="#ffbe00" points="1002.6,648.0 1007.8,656.2 1015.0,666.5 1021.1,689.1 1023.2,713.7 1017.0,730.2 1018.1,769.2 1015.0,779.5 1006.8,785.6 1004.7,815.2 998.5,815.2 997.5,789.8 991.3,779.5 987.2,730.2 988.3,717.8 993.4,697.3 997.5,666.5"/>
<polygon class="k" fill="#ff8000" points="1002.6,656.2 1010.9,670.6 1015.0,689.1 1013.9,717.8 1011.9,738.4 1012.9,769.2 1006.8,779.5 1000.6,783.6 994.4,775.4 991.3,738.4 993.4,707.6 996.5,672.6"/>
<polygon class="k" fill="#ff1800" points="1000.6,664.4 1006.8,680.8 1007.8,697.3 1002.6,730.2 1003.7,752.8 1000.6,773.3 997.5,754.8 998.5,717.8 996.5,697.3 997.5,676.7"/>
<polygon class="k" fill="#8c0000" points="1000.2,685.0 1001.6,693.2 1000.2,705.5 998.9,695.2"/>
<polygon class="k" fill="#60fca0" points="1025.2,586.3 1043.7,600.7 1052.0,615.1 1053.0,629.5 1037.6,648.0 1035.5,656.2 1026.3,668.5 1021.1,641.8 1020.1,615.1"/>
<polygon class="k" fill="#18ffe6" points="1026.3,602.8 1033.5,617.2 1029.4,628.5 1025.7,631.5 1024.2,615.1"/>
<polygon class="w" fill="#d2ff2d" points="1049.9,586.3 1058.1,573.4 1086.9,573.4 1086.9,584.3 1056.1,595.6 1047.8,592.5"/>
<polygon class="k" fill="#60fca0" points="1088.0,654.1 1077.6,649.0 1060.2,662.4 1055.0,671.6 1039.6,678.8 1045.8,705.5 1052.0,726.1 1053.0,739.4 1026.3,736.3 1023.2,750.7 1025.2,769.2 1052.0,766.1 1076.6,785.6 1080.7,815.2 1134.2,815.2 1132.2,787.7 1118.8,771.3 1110.6,756.9 1096.2,750.7 1092.1,738.4 1094.2,715.8 1100.3,697.3 1104.4,676.7 1098.3,662.4"/>
<polygon class="k" fill="#18ffe6" points="1077.6,668.5 1086.9,676.7 1090.0,689.1 1088.9,726.1 1077.6,744.5 1066.3,726.1 1060.2,697.3 1064.3,680.8"/>
<polygon class="k" fill="#00a8ff" points="1077.6,689.1 1080.7,701.4 1077.6,718.9 1074.1,703.5"/>
<polyline class="k" fill="none" points="789.4,774.3 789.4,800.0" style="stroke-width:3.0"/>
<polygon class="k" fill="#18ffe6" points="1091.1,763.0 1103.4,758.9 1106.5,767.1 1105.5,783.6 1107.5,815.2 1100.3,815.2 1098.3,783.6"/>
<polygon class="k" fill="#60fca0" points="1099.3,573.4 1107.5,573.4 1110.6,591.5 1103.4,596.6 1097.2,590.4"/>
<polygon class="w" fill="#d2ff2d" points="1118.8,573.4 1119.8,583.2 1131.2,589.4 1147.6,592.5 1155.8,604.8 1170.2,617.2 1181.5,630.5 1192.8,627.4 1206.1,615.1 1207.2,631.5 1194.8,641.8 1186.6,660.3 1176.4,689.1 1172.2,717.8 1174.3,748.7 1166.1,761.0 1155.8,766.1 1139.4,746.6 1125.0,715.8 1103.4,710.6 1099.3,721.9 1100.3,738.4 1110.6,748.7 1129.1,771.3 1155.8,787.7 1159.9,800.0 1160.9,815.2 1217.5,815.2 1206.1,787.7 1215.4,771.3 1231.8,742.5 1240.1,705.5 1250.3,656.2 1258.5,621.3 1266.8,604.8 1285.3,590.4 1293.5,583.2 1291.4,573.4"/>
<polygon class="k" fill="#ffec00" points="1229.8,573.4 1240.1,573.4 1239.0,590.4 1244.2,611.0 1244.2,641.8 1240.1,676.7 1234.9,709.6 1223.6,726.1 1215.4,742.5 1207.2,762.0 1199.0,750.7 1192.8,728.1 1192.8,705.5 1199.0,689.1 1211.3,670.6 1219.5,641.8 1223.6,604.8 1229.8,592.5"/>
<polygon class="k" fill="#ffbe00" points="1231.8,630.5 1234.9,641.8 1234.9,664.4 1231.8,680.8 1228.8,664.4 1229.4,641.8"/>
<polygon class="k" fill="#ffec00" points="1125.0,762.0 1130.1,751.1 1139.4,762.0 1129.1,767.6"/>
<polygon class="k" fill="#ffec00" points="1167.1,787.7 1180.5,777.4 1192.8,787.7 1194.8,798.0 1192.8,815.2 1174.3,815.2 1170.2,798.0"/>
<polygon class="k" fill="#60fca0" points="1154.8,658.2 1157.9,668.5 1154.8,680.8 1152.1,668.5"/>
<polyline class="w" fill="none" points="1129.1,680.8 1129.1,705.5" style="stroke-width:3.0"/>
<polyline class="w" fill="none" points="1128.1,604.8 1137.3,603.8" style="stroke-width:3.0"/>
<polygon class="k" fill="#60fca0" points="1283.2,621.3 1291.4,637.7 1293.5,660.3 1292.5,697.3 1285.3,717.8 1272.9,754.8 1258.5,768.2 1244.2,761.0 1242.1,738.4 1246.2,705.5 1252.4,670.6 1258.5,652.1"/>
<polygon class="k" fill="#18ffe6" points="1284.2,658.2 1286.3,672.6 1283.2,693.2 1277.0,705.5 1268.8,734.3 1258.5,751.7 1251.4,736.3 1251.4,709.6 1258.5,678.8 1266.8,676.7"/>
<polyline class="k" fill="none" points="1258.1,711.7 1258.1,727.1" style="stroke-width:3.0"/>
<polygon class="k" fill="#60fca0" points="1232.9,769.2 1258.5,783.6 1277.0,787.7 1280.1,798.0 1281.1,815.2 1250.3,815.2 1248.3,800.0 1231.8,787.7 1227.7,775.4"/>
<polygon class="w" fill="#d2ff2d" points="1288.3,591.5 1318.1,592.5 1308.9,606.9 1301.7,602.8"/>
<polygon class="w" fill="#d2ff2d" points="1308.9,607.9 1320.2,635.6 1326.4,670.6 1324.3,701.4 1309.9,739.4 1301.7,717.8 1300.7,672.6 1305.8,635.6"/>
<polyline class="k" fill="none" points="1309.9,675.7 1309.9,691.1" style="stroke-width:3.0"/>
<polygon class="w" fill="#d2ff2d" points="1333.5,573.4 1334.6,584.3 1361.3,587.4 1368.5,583.2 1368.5,573.4"/>
<polygon class="w" fill="#d2ff2d" points="1376.7,592.5 1392.6,589.4 1392.6,695.2 1381.8,689.1 1379.8,656.2 1381.8,615.1"/>
<polygon class="w" fill="#d2ff2d" points="1362.3,705.5 1370.5,715.8 1365.4,748.7 1362.3,763.0 1365.4,779.5 1370.5,786.7 1362.3,795.9 1355.1,786.7 1359.2,771.3 1360.3,758.9 1355.1,728.1"/>
</g>
<path class="a" d="M795.40 579.40H1386.60V809.20H795.40ZM795.40 579.40v-7.00M795.40 809.20v7.00M846.81 579.40v-7.00M846.81 809.20v7.00M898.22 579.40v-7.00M898.22 809.20v7.00M949.63 579.40v-7.00M949.63 809.20v7.00M1001.03 579.40v-7.00M1001.03 809.20v7.00M1052.44 579.40v-7.00M1052.44 809.20v7.00M1103.85 579.40v-7.00M1103.85 809.20v7.00M1155.26 579.40v-7.00M1155.26 809.20v7.00M1206.67 579.40v-7.00M1206.67 809.20v7.00M1258.08 579.40v-7.00M1258.08 809.20v7.00M1309.49 579.40v-7.00M1309.49 809.20v7.00M1360.90 579.40v-7.00M1360.90 809.20v7.00M1386.60 579.40v-7.00M1386.60 809.20v7.00M795.40 633.00h-7.00M1386.60 633.00h7.00M795.40 686.40h-7.00M1386.60 686.40h7.00M795.40 739.80h-7.00M1386.60 739.80h7.00M795.40 793.20h-7.00M1386.60 793.20h7.00M795.40 809.20h-7.00M1386.60 809.20h7.00"/>
<text class="t" x="795.4" y="845.2" text-anchor="middle">7/12</text>
<text class="t" x="846.8" y="845.2" text-anchor="middle">7/14</text>
<text class="t" x="898.2" y="845.2" text-anchor="middle">7/16</text>
<text class="t" x="949.6" y="845.2" text-anchor="middle">7/18</text>
<text class="t" x="1001.0" y="845.2" text-anchor="middle">7/20</text>
<text class="t" x="1052.4" y="845.2" text-anchor="middle">7/22</text>
<text class="t" x="1103.9" y="845.2" text-anchor="middle">7/24</text>
<text class="t" x="1155.3" y="845.2" text-anchor="middle">7/26</text>
<text class="t" x="1206.7" y="845.2" text-anchor="middle">7/28</text>
<text class="t" x="1258.1" y="845.2" text-anchor="middle">7/30</text>
<text class="t" x="1309.5" y="845.2" text-anchor="middle">8/1</text>
<text class="t" x="1344.9" y="845.2">8/3/4</text>
<text class="T" x="1091.0" y="573.6" text-anchor="middle">Tt</text>
<rect x="1399.30" y="579.40" width="26.70" height="229.80" fill="url(#jet)"/>
<text class="t" x="1433.0" y="588.0">3</text>
<text class="t" x="1433.0" y="620.8">2</text>
<text class="t" x="1433.0" y="653.7">1</text>
<text class="t" x="1433.0" y="686.5">0</text>
<text class="t" x="1433.0" y="719.3">-1</text>
<text class="t" x="1433.0" y="752.1">-2</text>
<text class="t" x="1433.0" y="785.0">-3</text>
<text class="t" x="1433.0" y="817.8">-4</text>
<path d="M1426.00 612.23h-7M1426.00 645.06h-7M1426.00 677.89h-7M1426.00 710.71h-7M1426.00 743.54h-7M1426.00 776.37h-7" stroke="#262626" stroke-width="0.8" fill="none" opacity="0.75"/>
<rect x="1399.30" y="579.40" width="26.70" height="229.80" fill="none" stroke="#262626" stroke-width="0.7" opacity="0.6"/>
</g>
<g id="B11">
<clipPath id="cB11"><rect x="83.75" y="908.25" width="591.55" height="229.25"/></clipPath>
<rect x="83.75" y="908.25" width="591.55" height="229.25" fill="#d2ff2d"/>
<g clip-path="url(#cB11)">
<polygon class="w" fill="#90ff70" points="77.8,902.2 77.8,1009.9 109.8,1007.8 136.5,1005.8 145.8,978.0 160.2,959.5 179.7,982.1 179.7,992.4 190.0,1000.6 204.3,992.4 196.1,980.1 194.1,949.3 210.5,941.0 231.1,945.2 222.8,969.8 237.2,976.0 265.0,971.9 274.2,980.1 272.1,1000.6 263.9,1008.8 222.8,1018.1 263.9,1025.3 274.2,1033.5 276.3,1045.8 274.2,1064.3 263.9,1074.6 251.6,1064.3 239.3,1054.1 210.5,1055.1 185.8,1060.2 176.6,1072.5 181.7,1082.8 222.8,1086.9 253.7,1084.9 296.8,1080.8 309.1,1054.1 342.0,1039.7 352.3,1021.2 358.5,992.4 366.7,987.3 379.0,1000.6 381.1,1025.3 391.3,1070.5 403.7,1090.0 428.3,1095.1 446.8,1099.3 491.0,1116.7 496.1,1128.0 502.3,1104.4 494.1,1091.0 496.1,1085.9 520.8,1088.0 528.0,1078.7 510.5,1058.2 495.1,1037.6 481.7,1045.8 481.7,1058.2 490.0,1078.7 473.5,1082.8 440.6,1072.5 429.3,1058.2 428.3,1033.5 434.5,1019.1 403.7,982.1 391.3,947.2 389.3,932.8 418.0,926.7 444.8,940.0 469.4,941.0 475.6,920.5 481.7,910.2 481.7,902.2"/>
<polygon class="w" fill="#d2ff2d" points="273.2,902.2 272.1,919.5 281.4,943.1 284.5,955.8 300.9,957.1 315.3,945.6 322.5,918.4 328.7,902.2"/>
<polygon class="w" fill="#d2ff2d" points="77.8,953.4 91.3,957.5 94.4,965.7 77.8,974.9"/>
<polygon class="w" fill="#90ff70" points="510.5,902.2 511.5,913.3 514.6,922.5 518.7,936.9 528.0,945.2 520.8,951.3 475.6,946.2 474.5,955.4 481.7,969.8 479.7,992.4 485.8,1004.7 496.1,1014.0 545.4,1001.7 572.1,1008.8 617.4,1019.1 621.5,1033.5 640.0,1041.7 650.2,1064.3 681.3,1051.0 681.3,944.1 662.6,955.4 658.5,969.8 650.2,977.0 642.0,965.7 635.8,949.3 621.5,932.8 681.3,927.7 681.3,902.2"/>
<polygon class="w" fill="#d2ff2d" points="549.5,920.5 572.1,915.4 584.5,922.5 594.8,953.4 604.0,969.8 598.9,981.1 572.1,967.8 553.7,941.0"/>
<polygon class="w" fill="#90ff70" points="434.5,968.8 444.8,957.5 459.1,968.8 444.8,986.2"/>
<polygon class="w" fill="#90ff70" points="557.8,1068.4 572.1,1056.1 584.5,1072.5 582.4,1078.7 573.2,1085.9 560.8,1078.7"/>
<polygon class="w" fill="#90ff70" points="533.1,1143.5 537.2,1119.8 543.4,1109.5 598.9,1089.0 607.1,1091.0 613.2,1102.3 604.0,1115.7 601.9,1130.1 598.9,1143.5"/>
<polygon class="w" fill="#90ff70" points="638.9,1090.0 650.2,1072.5 656.4,1091.0 650.2,1096.2"/>
<polygon class="w" fill="#90ff70" points="650.2,1143.5 654.3,1130.1 681.3,1123.9 681.3,1143.5"/>
<polygon class="w" fill="#90ff70" points="208.5,1143.5 212.6,1109.5 210.1,1104.4 237.2,1094.1 245.8,1105.4 249.5,1143.5"/>
<polygon class="k" fill="#60fca0" points="226.9,1143.5 227.4,1115.7 237.2,1107.5 242.4,1115.7 243.4,1143.5"/>
<polygon class="w" fill="#90ff70" points="356.4,1117.8 366.7,1108.5 376.9,1117.8 366.7,1134.2"/>
<polygon class="k" fill="#ffec00" points="77.8,1025.3 109.8,1030.4 135.5,1023.2 161.2,1048.9 166.3,1035.6 164.3,1017.1 150.9,1004.7 157.1,968.8 161.2,966.1 167.4,972.9 169.4,998.6 185.8,1014.6 208.5,1019.1 211.5,1033.5 204.3,1045.8 187.9,1054.1 173.5,1062.3 171.5,1080.8 175.6,1086.9 185.8,1099.3 186.9,1123.9 177.6,1134.2 171.5,1143.5 77.8,1143.5"/>
<polygon class="k" fill="#d2ff2d" points="109.8,1094.1 134.5,1102.3 139.6,1092.7"/>
<polyline class="k" fill="none" points="77.8,1088.6 136.5,1092.3 161.2,1091.0"/>
<polygon class="w" fill="#90ff70" points="77.8,1073.6 93.4,1078.7 77.8,1083.8"/>
<polygon class="k" fill="#60fca0" points="77.8,1076.7 89.3,1078.7 77.8,1081.2"/>
<polygon class="k" fill="#ffbe00" points="91.3,1054.1 95.4,1043.8 134.5,1033.5 146.8,1045.8 161.2,1062.3 167.4,1072.5 164.3,1095.1 160.2,1101.3 155.0,1091.0 136.5,1085.9 109.8,1091.0 105.7,1082.8 97.5,1070.5"/>
<polygon class="k" fill="#ff8000" points="101.6,1060.2 105.7,1049.9 134.5,1039.7 148.9,1054.1 160.2,1066.4 159.1,1076.7 136.5,1083.8 120.1,1080.8 105.7,1072.5"/>
<polygon class="k" fill="#ff1800" points="113.9,1067.4 134.5,1051.0 153.0,1066.4 134.5,1079.7"/>
<polygon class="k" fill="#8c0000" points="123.2,1067.4 134.5,1058.2 145.8,1067.4 134.5,1074.6"/>
<polygon class="k" fill="#ffbe00" points="172.5,1025.3 177.6,1017.1 185.8,1013.0 202.3,1021.2 203.3,1037.6 187.9,1049.9 177.6,1043.8"/>
<polygon class="k" fill="#ff8000" points="177.6,1029.4 185.8,1018.1 197.1,1029.4 196.1,1037.6 186.9,1046.9 179.7,1039.7"/>
<polygon class="k" fill="#ffec00" points="199.2,956.5 202.3,949.3 212.6,942.1 222.8,950.3 224.9,957.5 212.6,979.1 204.3,967.8"/>
<polygon class="k" fill="#ffbe00" points="205.4,956.5 212.6,947.2 218.7,955.8 212.6,971.9"/>
<polygon class="k" fill="#ff8000" points="210.5,957.1 212.6,954.4 214.6,957.5 212.6,960.6"/>
<polygon class="k" fill="#ffec00" points="217.7,1004.7 218.7,992.4 235.2,981.1 263.9,978.0 267.0,983.2 259.8,1000.6 253.7,1004.7 237.2,1007.8"/>
<polygon class="k" fill="#ffbe00" points="222.8,994.5 237.2,984.2 252.6,994.5 247.5,1002.7 237.2,1005.8 226.9,1000.6"/>
<polygon class="k" fill="#ff8000" points="229.0,994.5 237.2,989.3 246.5,994.5 237.2,1002.7"/>
<polygon class="k" fill="#ffec00" points="217.7,1041.7 218.7,1030.4 237.2,1028.4 247.5,1029.4 259.8,1043.8 272.1,1054.1 271.1,1060.2 263.9,1066.4 253.7,1058.2 245.4,1049.9 237.2,1047.9"/>
<polygon class="k" fill="#ffbe00" points="225.9,1039.7 226.9,1032.5 243.4,1031.5 251.6,1037.6 255.7,1043.8 237.2,1044.8"/>
<polygon class="k" fill="#ff8000" points="236.2,1043.8 238.2,1033.5 240.9,1043.8"/>
<polygon class="k" fill="#ffbe00" points="261.5,1055.1 263.9,1051.0 266.0,1056.1 263.9,1059.2"/>
<polygon class="k" fill="#ffec00" points="194.1,1092.1 212.6,1088.0 225.9,1092.1 212.6,1097.2"/>
<polygon class="k" fill="#ffec00" points="255.7,1143.5 256.7,1093.1 284.5,1082.8 296.8,1084.9 311.2,1076.7 315.3,1058.2 340.0,1047.9 356.4,1041.7 366.7,1024.3 371.8,1033.5 372.8,1056.1 366.7,1066.4 360.5,1082.8 352.3,1103.4 350.2,1115.7 354.3,1128.0 352.3,1143.5"/>
<polygon class="k" fill="#d2ff2d" points="281.4,1143.5 284.5,1113.6 303.0,1108.5 340.0,1111.6 346.1,1119.8 348.2,1143.5"/>
<polyline class="w" fill="none" points="308.1,1143.5 315.3,1114.7 322.5,1143.5"/>
<polygon class="k" fill="#ffbe00" points="263.9,1104.4 271.1,1093.1 296.8,1088.0 314.3,1078.7 317.4,1062.3 342.0,1060.2 343.0,1082.8 350.2,1099.3 348.2,1107.5 340.0,1108.5 284.5,1102.3 268.0,1104.4 265.0,1119.8 267.0,1128.0 262.9,1134.2 261.5,1119.8"/>
<polygon class="k" fill="#ff8000" points="284.5,1092.1 290.6,1090.0 297.8,1092.1 290.6,1094.1"/>
<polygon class="k" fill="#ff8000" points="335.8,1102.3 341.0,1094.1 343.0,1105.4"/>
<polygon class="k" fill="#ffec00" points="276.3,902.2 275.2,918.4 284.5,941.0 289.6,948.2 303.0,939.0 317.4,924.6 323.5,912.3 319.4,902.2"/>
<polygon class="k" fill="#ffbe00" points="279.3,902.2 279.3,919.5 286.5,934.9 290.6,942.1 301.9,932.8 314.3,920.5 317.4,902.2"/>
<polygon class="k" fill="#ff8000" points="282.4,902.2 283.5,919.5 290.6,934.9 301.9,926.7 311.2,916.4 312.2,902.2"/>
<polygon class="k" fill="#ff1800" points="286.5,921.5 291.7,916.4 295.8,920.5 291.7,925.6"/>
<polygon class="k" fill="#ff1800" points="285.5,902.2 290.6,912.3 296.8,902.2"/>
<polygon class="k" fill="#ffec00" points="562.9,922.5 572.1,918.4 577.3,922.5 578.3,932.8 572.1,943.1 563.9,931.8"/>
<polygon class="k" fill="#ffec00" points="646.1,933.8 681.3,930.8 681.3,939.0 650.2,941.0"/>
<polygon class="k" fill="#ffec00" points="537.2,1030.4 546.5,1024.9 550.6,1031.5 548.5,1044.8 538.2,1042.8"/>
<polygon class="k" fill="#ffec00" points="592.7,1035.6 597.8,1028.4 603.0,1037.6 610.2,1055.1 625.6,1064.3 627.6,1068.4 624.5,1080.8 598.9,1065.4 594.8,1049.9"/>
<polygon class="k" fill="#ffec00" points="439.6,1054.1 444.8,1040.1 459.1,1055.1 443.7,1059.8"/>
<polygon class="k" fill="#ffec00" points="381.1,1128.0 391.3,1111.6 416.0,1102.3 444.8,1104.4 420.1,1115.7 409.8,1143.5 382.1,1143.5"/>
<polygon class="k" fill="#ffec00" points="463.7,1117.8 472.5,1115.7 473.1,1123.9 469.4,1134.2 464.3,1126.0"/>
<polygon class="k" fill="#ffec00" points="666.7,1115.7 681.3,1107.5 681.3,1118.8"/>
<polygon class="k" fill="#ffec00" points="481.7,902.2 482.8,918.4 495.1,931.8 508.5,921.5 509.5,902.2"/>
<polygon class="k" fill="#ffbe00" points="490.0,902.2 490.0,919.5 497.1,925.6 503.3,918.4 502.3,902.2"/>
<polygon class="k" fill="#60fca0" points="77.8,902.2 77.8,934.9 115.0,945.2 117.0,957.5 134.5,969.8 159.1,954.4 185.8,958.5 187.9,948.2 212.6,934.9 235.2,939.0 243.4,955.4 231.1,967.8 239.3,972.9 253.7,965.7 263.9,955.4 277.3,943.1 272.1,920.5 273.2,902.2"/>
<polygon class="k" fill="#18ffe6" points="77.8,902.2 77.8,927.7 113.9,935.9 127.3,945.2 126.3,955.4 134.5,964.7 146.8,953.4 161.2,948.2 210.5,930.8 220.8,922.5 229.0,916.4 226.9,902.2"/>
<polygon class="k" fill="#00a8ff" points="77.8,902.2 77.8,924.6 116.0,932.8 136.5,943.1 161.2,940.0 185.8,928.7 210.5,924.6 218.7,918.4 214.6,902.2"/>
<polygon class="k" fill="#0048ff" points="77.8,918.0 101.6,920.1 116.0,929.7 136.5,940.0 161.2,936.9 175.6,927.7 181.3,920.5 175.6,911.2 171.5,902.2 105.7,902.2 101.6,911.2 77.8,916.8"/>
<polygon class="k" fill="#0000d0" points="103.7,919.5 111.9,912.3 120.1,902.2 165.3,902.2 169.4,914.3 161.2,928.7 138.6,930.8 116.0,924.6"/>
<polygon class="k" fill="#00008f" points="126.3,910.2 135.5,914.7 150.9,910.2 148.9,902.2 128.3,902.2"/>
<polygon class="k" fill="#00a8ff" points="132.8,956.5 135.5,953.0 138.2,957.1 135.5,959.9"/>
<polygon class="k" fill="#18ffe6" points="246.5,934.9 253.7,924.6 259.8,914.3 257.8,902.2 270.1,902.2 269.1,920.5 276.3,941.0 263.9,952.3 249.5,946.2"/>
<polygon class="k" fill="#00a8ff" points="251.6,939.0 262.9,923.6 272.1,941.0 263.9,949.3"/>
<polygon class="k" fill="#0048ff" points="259.8,942.1 263.3,935.9 267.0,943.1 263.3,946.8"/>
<polygon class="k" fill="#18ffe6" points="234.1,968.8 240.3,964.7 245.8,968.8 240.3,971.5"/>
<polygon class="k" fill="#60fca0" points="281.4,968.8 316.3,968.2 311.2,998.6 343.0,1002.7 345.1,1017.1 340.0,1029.4 309.1,1043.8 296.8,1058.2 290.6,1068.4 284.5,1064.3 281.4,1033.5 263.9,1023.2 231.1,1018.5 265.0,1014.0 276.3,1008.8"/>
<polygon class="k" fill="#18ffe6" points="288.6,977.0 294.8,982.1 295.8,996.5 303.0,1006.8 299.9,1019.1 290.6,1024.3 281.4,1017.1 285.5,998.6"/>
<polygon class="k" fill="#18ffe6" points="288.6,1052.0 290.2,1048.9 291.3,1055.1 289.6,1059.2"/>
<polygon class="k" fill="#60fca0" points="182.8,1073.6 185.8,1065.4 210.5,1062.3 238.2,1061.2 235.2,1070.5 225.9,1078.7 185.8,1082.8"/>
<polygon class="k" fill="#18ffe6" points="205.4,1068.0 215.6,1067.0 212.1,1073.6"/>
<polygon class="k" fill="#60fca0" points="331.7,922.5 330.7,936.9 335.8,950.3 365.6,966.7 374.9,961.6 375.9,939.0 368.7,931.8 354.3,922.5 344.1,924.6 341.0,930.8 338.9,921.5 334.8,912.3"/>
<polygon class="k" fill="#18ffe6" points="328.7,902.2 337.9,913.3 340.0,928.7 344.1,919.5 354.3,917.4 379.0,915.4 379.0,902.2"/>
<polygon class="k" fill="#00a8ff" points="335.8,902.2 338.9,912.3 379.0,911.9 379.0,902.2"/>
<polygon class="w" fill="#d2ff2d" points="356.4,919.5 366.7,917.4 374.9,921.5 366.7,924.6"/>
<polygon class="k" fill="#60fca0" points="512.6,980.1 520.8,968.8 528.0,969.8 531.1,980.1 521.8,986.7"/>
<polygon class="k" fill="#60fca0" points="412.3,1066.4 418.0,1057.1 422.2,1066.4 418.0,1076.7"/>
<polygon class="k" fill="#60fca0" points="423.2,1080.8 442.7,1077.7 480.7,1093.1 480.7,1102.3 469.4,1105.4 446.8,1097.2 426.3,1090.0"/>
<polygon class="k" fill="#60fca0" points="491.6,1066.4 495.7,1059.2 501.9,1066.4 496.1,1070.9"/>
<polygon class="k" fill="#60fca0" points="379.0,902.2 409.8,902.2 408.8,917.4 394.4,922.5 379.0,919.5"/>
<polygon class="k" fill="#18ffe6" points="379.0,902.2 399.5,902.2 395.4,914.3 379.0,915.4"/>
<polygon class="k" fill="#60fca0" points="427.3,902.2 475.6,902.2 469.4,917.4 442.7,920.5 439.6,915.4"/>
<polygon class="k" fill="#18ffe6" points="440.6,910.2 471.5,910.2 467.4,914.3 444.8,914.7"/>
<polygon class="k" fill="#18ffe6" points="513.6,914.3 522.8,910.2 559.8,911.2 547.5,917.4 522.8,919.5"/>
<polygon class="k" fill="#60fca0" points="576.3,902.2 681.3,902.2 681.3,924.6 600.9,928.7 592.7,916.4"/>
<polygon class="k" fill="#18ffe6" points="578.3,910.2 631.7,910.2 621.5,916.4 596.8,917.4"/>
<polygon class="k" fill="#00a8ff" points="590.6,910.2 615.3,910.2 611.2,913.3 594.8,913.9"/>
<polygon class="w" fill="#d2ff2d" points="635.8,914.3 650.2,910.2 664.6,914.3 650.2,918.8"/>
</g>
<path class="a" d="M83.75 908.25H675.30V1137.50H83.75ZM83.75 908.25v-7.00M83.75 1137.50v7.00M135.19 908.25v-7.00M135.19 1137.50v7.00M186.63 908.25v-7.00M186.63 1137.50v7.00M238.07 908.25v-7.00M238.07 1137.50v7.00M289.51 908.25v-7.00M289.51 1137.50v7.00M340.95 908.25v-7.00M340.95 1137.50v7.00M392.38 908.25v-7.00M392.38 1137.50v7.00M443.82 908.25v-7.00M443.82 1137.50v7.00M495.26 908.25v-7.00M495.26 1137.50v7.00M546.70 908.25v-7.00M546.70 1137.50v7.00M598.14 908.25v-7.00M598.14 1137.50v7.00M649.58 908.25v-7.00M649.58 1137.50v7.00M675.30 908.25v-7.00M675.30 1137.50v7.00M83.75 944.93h-7.00M675.30 944.93h7.00M83.75 981.21h-7.00M675.30 981.21h7.00M83.75 1017.49h-7.00M675.30 1017.49h7.00M83.75 1053.77h-7.00M675.30 1053.77h7.00M83.75 1090.05h-7.00M675.30 1090.05h7.00M83.75 1137.50h-7.00M675.30 1137.50h7.00"/>
<text class="t" x="70.2" y="953.5" text-anchor="end">-10</text>
<text class="t" x="70.2" y="989.8" text-anchor="end">-20</text>
<text class="t" x="70.2" y="1026.1" text-anchor="end">-30</text>
<text class="t" x="70.2" y="1062.4" text-anchor="end">-40</text>
<text class="t" x="70.2" y="1098.6" text-anchor="end">-50</text>
<text class="t" x="70.2" y="1146.1" text-anchor="end">-63</text>
<text class="T" x="379.5" y="902.5" text-anchor="middle">-hadv</text>
<text class="T" transform="translate(25.8 1022.9) rotate(-90)" text-anchor="middle">depth/(m)</text>
<rect x="689.30" y="908.25" width="26.10" height="229.25" fill="url(#jet)"/>
<text class="t" x="722.4" y="916.9">30</text>
<text class="t" x="722.4" y="949.6">20</text>
<text class="t" x="722.4" y="982.4">10</text>
<text class="t" x="722.4" y="1015.1">0</text>
<text class="t" x="722.4" y="1047.8">-10</text>
<text class="t" x="722.4" y="1080.6">-20</text>
<text class="t" x="722.4" y="1113.3">-30</text>
<text class="t" x="722.4" y="1146.1">-40</text>
<path d="M715.40 941.00h-7M715.40 973.75h-7M715.40 1006.50h-7M715.40 1039.25h-7M715.40 1072.00h-7M715.40 1104.75h-7" stroke="#262626" stroke-width="0.8" fill="none" opacity="0.75"/>
<rect x="689.30" y="908.25" width="26.10" height="229.25" fill="none" stroke="#262626" stroke-width="0.7" opacity="0.6"/>
</g>
<g id="B12">
<clipPath id="cB12"><rect x="798.90" y="908.25" width="591.60" height="229.25"/></clipPath>
<rect x="798.90" y="908.25" width="591.60" height="229.25" fill="#d2ff2d"/>
<g clip-path="url(#cB12)">
<polygon class="w" fill="#90ff70" points="792.9,902.2 978.9,902.2 978.9,918.4 976.9,924.6 972.8,944.1 935.8,956.5 929.6,963.6 890.6,981.1 887.5,988.3 888.5,993.4 898.8,1000.6 933.7,1000.6 953.2,1004.7 968.7,1000.6 987.1,998.6 1001.5,1006.8 1005.6,1015.0 1011.8,1018.1 978.9,1033.5 975.8,1041.7 978.3,1048.3 1004.4,1046.9 1059.1,1067.4 1081.1,1086.5 1090.7,1066.0 1110.6,1055.7 1068.7,1043.4 1079.6,1025.3 1081.7,1011.9 1061.1,1008.8 1035.4,1007.8 1026.2,1002.7 1015.9,983.2 1026.2,969.8 1021.1,957.5 1026.2,946.2 1014.9,934.9 1057.0,917.4 1067.3,930.8 1081.7,940.0 1094.0,934.9 1159.8,924.6 1209.1,932.8 1262.5,940.0 1309.8,939.0 1396.5,942.1 1396.5,953.4 1337.5,957.5 1334.4,968.8 1311.8,979.1 1263.5,994.5 1266.6,1008.8 1264.5,1020.1 1211.1,1030.4 1205.0,1023.2 1200.8,1008.8 1195.7,992.4 1200.8,981.1 1188.5,967.8 1184.4,957.5 1180.3,969.8 1164.9,981.1 1159.8,988.3 1143.3,981.1 1134.1,969.8 1133.0,980.1 1106.3,997.5 1094.0,1002.7 1083.3,1007.8 1094.0,1023.2 1107.4,1031.5 1109.4,1042.8 1159.8,1045.8 1184.4,1055.1 1211.1,1043.8 1211.1,1035.6 1213.2,1043.8 1236.8,1055.1 1211.1,1060.2 1187.5,1056.1 1192.6,1066.4 1184.4,1071.5 1155.6,1077.7 1149.5,1080.8 1145.0,1081.2 1112.1,1099.7 1082.5,1110.6 1056.4,1107.1 1030.3,1117.3 1004.4,1111.2 983.9,1116.1 982.4,1143.5 979.8,1143.5 978.9,1116.7 985.1,1103.0 1004.4,1094.1 1030.3,1098.8 1049.6,1091.5 1040.0,1080.4 1030.3,1079.1 1004.4,1090.6 978.9,1086.5 971.5,1092.1 939.9,1095.6 925.5,1095.1 909.1,1090.0 906.0,1074.6 900.8,1069.5 876.2,1072.5 849.5,1078.7 824.8,1089.0 792.9,1080.8"/>
<polygon class="w" fill="#d2ff2d" points="792.9,916.4 824.8,918.0 849.5,913.3 902.9,913.3 897.8,919.5 877.2,926.7 824.8,928.3 792.9,927.1"/>
<polygon class="w" fill="#d2ff2d" points="792.9,958.5 824.8,953.4 835.1,946.2 853.6,943.1 858.7,945.6 845.4,954.4 833.0,961.6 824.8,972.9 825.8,982.1 792.9,982.5"/>
<polygon class="w" fill="#d2ff2d" points="792.9,988.3 805.3,992.4 792.9,998.6"/>
<polygon class="w" fill="#d2ff2d" points="912.1,932.8 927.6,927.7 928.6,939.0"/>
<polygon class="w" fill="#d2ff2d" points="868.0,1049.9 876.2,1039.7 896.7,1045.8 927.6,1048.9 934.8,1054.1 927.6,1066.4 900.8,1063.3 876.2,1058.2"/>
<polygon class="w" fill="#d2ff2d" points="1112.5,945.2 1133.0,939.0 1145.4,945.2 1133.0,952.3"/>
<polygon class="w" fill="#d2ff2d" points="1232.7,1006.8 1237.8,1002.7 1245.0,1006.8 1237.8,1011.9"/>
<polygon class="w" fill="#90ff70" points="1149.5,1104.4 1163.9,1093.1 1184.4,1083.8 1217.3,1085.9 1246.1,1093.1 1260.4,1103.4 1291.3,1104.4 1262.5,1106.5 1235.8,1110.6 1211.1,1100.3 1184.4,1113.6 1155.6,1105.4"/>
<polygon class="w" fill="#90ff70" points="1331.3,1104.4 1396.5,1091.0 1396.5,1110.6"/>
<polygon class="w" fill="#90ff70" points="1094.0,1132.5 1124.8,1128.0 1133.0,1109.5 1143.3,1117.8 1145.4,1128.0 1163.9,1135.2 1176.2,1143.5 1094.0,1143.5"/>
<polygon class="w" fill="#90ff70" points="1205.0,1128.0 1211.1,1122.9 1262.5,1124.9 1299.5,1131.1 1340.6,1132.1 1396.5,1133.2 1396.5,1143.5 1233.7,1143.5 1229.6,1134.2 1209.1,1133.2"/>
<polygon class="w" fill="#90ff70" points="792.9,1102.3 802.2,1111.6 804.3,1128.0 807.4,1133.8 896.7,1133.8 900.8,1130.1 906.0,1143.5 792.9,1143.5"/>
<polygon class="" fill="#90ff70" points="978.9,910.2 1396.5,910.2 1396.5,914.3 1365.2,918.4 1350.8,914.3 1313.9,917.4 1237.8,914.3 1094.0,915.4 1020.0,913.9 978.9,918.4"/>
<polyline class="w" fill="none" points="978.9,918.4 1020.0,913.9 1094.0,915.4 1237.8,914.3 1313.9,917.4 1350.8,914.3 1365.2,918.4 1396.5,913.3"/>
<polygon class="k" fill="#60fca0" points="909.1,912.3 925.5,918.4 937.8,928.7 953.2,944.1 968.7,928.7 974.8,918.4 991.3,912.3"/>
<polygon class="k" fill="#18ffe6" points="917.3,912.3 930.6,918.4 940.9,928.7 953.2,941.0 965.6,928.7 971.7,917.4 983.0,912.3"/>
<polygon class="k" fill="#00a8ff" points="925.5,912.3 937.8,917.4 944.0,928.7 953.2,936.9 962.5,928.7 967.6,917.4 974.8,912.3"/>
<polygon class="k" fill="#ffec00" points="935.8,972.9 952.2,959.5 970.7,967.8 980.0,983.2 980.0,993.4 953.2,1000.6 937.8,994.5 934.8,984.2"/>
<polygon class="k" fill="#ffbe00" points="941.9,976.0 953.2,963.6 964.5,969.8 968.7,981.1 962.5,992.4 953.2,995.5 946.1,988.3"/>
<polygon class="k" fill="#ff8000" points="948.1,980.1 953.2,967.8 958.4,980.1 953.2,987.3"/>
<polygon class="k" fill="#60fca0" points="970.7,1006.8 978.9,1003.7 986.1,1007.2 978.9,1010.9"/>
<polygon class="k" fill="#60fca0" points="948.1,1043.4 953.2,1040.1 957.4,1043.8 953.2,1047.5"/>
<polygon class="k" fill="#60fca0" points="948.1,1079.1 952.2,1077.1 955.3,1079.7 951.8,1081.2"/>
<polygon class="k" fill="#ffec00" points="939.9,1143.5 944.0,1117.8 952.6,1107.5 961.5,1117.8 963.5,1143.5"/>
<polygon class="" fill="#000000" points="792.9,902.2 849.5,902.2 847.4,912.3 824.8,916.0 792.9,916.8"/>
<polygon class="" fill="#0048ff" points="792.9,911.5 841.3,911.5 824.8,914.3 792.9,915.2"/>
<polygon class="" fill="#000000" points="792.9,902.2 1396.5,902.2 1396.5,911.9 792.9,911.9"/>
</g>
<path class="a" d="M798.90 908.25H1390.50V1137.50H798.90ZM798.90 908.25v-7.00M798.90 1137.50v7.00M850.34 908.25v-7.00M850.34 1137.50v7.00M901.79 908.25v-7.00M901.79 1137.50v7.00M953.23 908.25v-7.00M953.23 1137.50v7.00M1004.67 908.25v-7.00M1004.67 1137.50v7.00M1056.12 908.25v-7.00M1056.12 1137.50v7.00M1107.56 908.25v-7.00M1107.56 1137.50v7.00M1159.00 908.25v-7.00M1159.00 1137.50v7.00M1210.45 908.25v-7.00M1210.45 1137.50v7.00M1261.89 908.25v-7.00M1261.89 1137.50v7.00M1313.33 908.25v-7.00M1313.33 1137.50v7.00M1364.78 908.25v-7.00M1364.78 1137.50v7.00M1390.50 908.25v-7.00M1390.50 1137.50v7.00M798.90 944.93h-7.00M1390.50 944.93h7.00M798.90 981.21h-7.00M1390.50 981.21h7.00M798.90 1017.49h-7.00M1390.50 1017.49h7.00M798.90 1053.77h-7.00M1390.50 1053.77h7.00M798.90 1090.05h-7.00M1390.50 1090.05h7.00M798.90 1137.50h-7.00M1390.50 1137.50h7.00"/>
<text class="T" x="1094.7" y="902.5" text-anchor="middle">hdif+vdif</text>
<rect x="1404.90" y="908.25" width="25.50" height="229.25" fill="url(#jet)"/>
<text class="t" x="1437.4" y="916.9">3</text>
<text class="t" x="1437.4" y="949.6">2</text>
<text class="t" x="1437.4" y="982.4">1</text>
<text class="t" x="1437.4" y="1015.1">0</text>
<text class="t" x="1437.4" y="1047.8">-1</text>
<text class="t" x="1437.4" y="1080.6">-2</text>
<text class="t" x="1437.4" y="1113.3">-3</text>
<text class="t" x="1437.4" y="1146.1">-4</text>
<path d="M1430.40 941.00h-7M1430.40 973.75h-7M1430.40 1006.50h-7M1430.40 1039.25h-7M1430.40 1072.00h-7M1430.40 1104.75h-7" stroke="#262626" stroke-width="0.8" fill="none" opacity="0.75"/>
<rect x="1404.90" y="908.25" width="25.50" height="229.25" fill="none" stroke="#262626" stroke-width="0.7" opacity="0.6"/>
</g>
<g id="B21">
<clipPath id="cB21"><rect x="83.75" y="1176.25" width="591.55" height="229.25"/></clipPath>
<rect x="83.75" y="1176.25" width="591.55" height="229.25" fill="#90ff70"/>
<g clip-path="url(#cB21)">
<polygon class="w" fill="#d2ff2d" points="77.8,1170.2 77.8,1277.9 109.8,1275.8 136.5,1273.8 145.8,1246.0 160.2,1227.5 179.7,1250.1 179.7,1260.4 190.0,1268.6 204.3,1260.4 196.1,1248.1 194.1,1217.3 210.5,1209.0 231.1,1213.2 222.8,1237.8 237.2,1244.0 265.0,1239.9 274.2,1248.1 272.1,1268.6 263.9,1276.8 222.8,1286.1 263.9,1293.3 274.2,1301.5 276.3,1313.8 274.2,1332.3 263.9,1342.6 251.6,1332.3 239.3,1322.1 210.5,1323.1 185.8,1328.2 176.6,1340.5 181.7,1350.8 222.8,1354.9 253.7,1352.9 296.8,1348.8 309.1,1322.1 342.0,1307.7 352.3,1289.2 358.5,1260.4 366.7,1255.3 379.0,1268.6 381.1,1293.3 391.3,1338.5 403.7,1358.0 428.3,1363.1 446.8,1367.3 491.0,1384.7 496.1,1396.0 502.3,1372.4 494.1,1359.0 496.1,1353.9 520.8,1356.0 528.0,1346.7 510.5,1326.2 495.1,1305.6 481.7,1313.8 481.7,1326.2 490.0,1346.7 473.5,1350.8 440.6,1340.5 429.3,1326.2 428.3,1301.5 434.5,1287.1 403.7,1250.1 391.3,1215.2 389.3,1200.8 418.0,1194.7 444.8,1208.0 469.4,1209.0 475.6,1188.5 481.7,1178.2 481.7,1170.2"/>
<polygon class="w" fill="#90ff70" points="273.2,1170.2 272.1,1187.5 281.4,1211.1 284.5,1223.8 300.9,1225.1 315.3,1213.6 322.5,1186.4 328.7,1170.2"/>
<polygon class="w" fill="#90ff70" points="77.8,1221.4 91.3,1225.5 94.4,1233.7 77.8,1242.9"/>
<polygon class="w" fill="#d2ff2d" points="510.5,1170.2 511.5,1181.3 514.6,1190.5 518.7,1204.9 528.0,1213.2 520.8,1219.3 475.6,1214.2 474.5,1223.4 481.7,1237.8 479.7,1260.4 485.8,1272.7 496.1,1282.0 545.4,1269.7 572.1,1276.8 617.4,1287.1 621.5,1301.5 640.0,1309.7 650.2,1332.3 681.3,1319.0 681.3,1212.1 662.6,1223.4 658.5,1237.8 650.2,1245.0 642.0,1233.7 635.8,1217.3 621.5,1200.8 681.3,1195.7 681.3,1170.2"/>
<polygon class="w" fill="#90ff70" points="549.5,1188.5 572.1,1183.4 584.5,1190.5 594.8,1221.4 604.0,1237.8 598.9,1249.1 572.1,1235.8 553.7,1209.0"/>
<polygon class="w" fill="#d2ff2d" points="434.5,1236.8 444.8,1225.5 459.1,1236.8 444.8,1254.2"/>
<polygon class="w" fill="#d2ff2d" points="557.8,1336.4 572.1,1324.1 584.5,1340.5 582.4,1346.7 573.2,1353.9 560.8,1346.7"/>
<polygon class="w" fill="#d2ff2d" points="533.1,1411.5 537.2,1387.8 543.4,1377.5 598.9,1357.0 607.1,1359.0 613.2,1370.3 604.0,1383.7 601.9,1398.1 598.9,1411.5"/>
<polygon class="w" fill="#d2ff2d" points="638.9,1358.0 650.2,1340.5 656.4,1359.0 650.2,1364.2"/>
<polygon class="w" fill="#d2ff2d" points="650.2,1411.5 654.3,1398.1 681.3,1391.9 681.3,1411.5"/>
<polygon class="w" fill="#d2ff2d" points="208.5,1411.5 212.6,1377.5 210.1,1372.4 237.2,1362.1 245.8,1373.4 249.5,1411.5"/>
<polygon class="k" fill="#ffec00" points="226.9,1411.5 227.4,1383.7 237.2,1375.5 242.4,1383.7 243.4,1411.5"/>
<polygon class="w" fill="#d2ff2d" points="356.4,1385.8 366.7,1376.5 376.9,1385.8 366.7,1402.2"/>
<polygon class="k" fill="#60fca0" points="77.8,1293.3 109.8,1298.4 135.5,1291.2 161.2,1316.9 166.3,1303.6 164.3,1285.1 150.9,1272.7 157.1,1236.8 161.2,1234.1 167.4,1240.9 169.4,1266.6 185.8,1282.6 208.5,1287.1 211.5,1301.5 204.3,1313.8 187.9,1322.1 173.5,1330.3 171.5,1348.8 175.6,1354.9 185.8,1367.3 186.9,1391.9 177.6,1402.2 171.5,1411.5 77.8,1411.5"/>
<polygon class="k" fill="#90ff70" points="109.8,1362.1 134.5,1370.3 139.6,1360.7"/>
<polyline class="k" fill="none" points="77.8,1356.6 136.5,1360.3 161.2,1359.0"/>
<polygon class="w" fill="#d2ff2d" points="77.8,1341.6 93.4,1346.7 77.8,1351.8"/>
<polygon class="k" fill="#ffec00" points="77.8,1344.7 89.3,1346.7 77.8,1349.2"/>
<polygon class="k" fill="#18ffe6" points="91.3,1322.1 95.4,1311.8 134.5,1301.5 146.8,1313.8 161.2,1330.3 167.4,1340.5 164.3,1363.1 160.2,1369.3 155.0,1359.0 136.5,1353.9 109.8,1359.0 105.7,1350.8 97.5,1338.5"/>
<polygon class="k" fill="#00a8ff" points="101.6,1328.2 105.7,1317.9 134.5,1307.7 148.9,1322.1 160.2,1334.4 159.1,1344.7 136.5,1351.8 120.1,1348.8 105.7,1340.5"/>
<polygon class="k" fill="#0048ff" points="113.9,1335.4 134.5,1319.0 153.0,1334.4 134.5,1347.7"/>
<polygon class="k" fill="#0000d0" points="123.2,1335.4 134.5,1326.2 145.8,1335.4 134.5,1342.6"/>
<polygon class="k" fill="#18ffe6" points="172.5,1293.3 177.6,1285.1 185.8,1281.0 202.3,1289.2 203.3,1305.6 187.9,1317.9 177.6,1311.8"/>
<polygon class="k" fill="#00a8ff" points="177.6,1297.4 185.8,1286.1 197.1,1297.4 196.1,1305.6 186.9,1314.9 179.7,1307.7"/>
<polygon class="k" fill="#60fca0" points="199.2,1224.5 202.3,1217.3 212.6,1210.1 222.8,1218.3 224.9,1225.5 212.6,1247.1 204.3,1235.8"/>
<polygon class="k" fill="#18ffe6" points="205.4,1224.5 212.6,1215.2 218.7,1223.8 212.6,1239.9"/>
<polygon class="k" fill="#00a8ff" points="210.5,1225.1 212.6,1222.4 214.6,1225.5 212.6,1228.6"/>
<polygon class="k" fill="#60fca0" points="217.7,1272.7 218.7,1260.4 235.2,1249.1 263.9,1246.0 267.0,1251.2 259.8,1268.6 253.7,1272.7 237.2,1275.8"/>
<polygon class="k" fill="#18ffe6" points="222.8,1262.5 237.2,1252.2 252.6,1262.5 247.5,1270.7 237.2,1273.8 226.9,1268.6"/>
<polygon class="k" fill="#00a8ff" points="229.0,1262.5 237.2,1257.3 246.5,1262.5 237.2,1270.7"/>
<polygon class="k" fill="#60fca0" points="217.7,1309.7 218.7,1298.4 237.2,1296.4 247.5,1297.4 259.8,1311.8 272.1,1322.1 271.1,1328.2 263.9,1334.4 253.7,1326.2 245.4,1317.9 237.2,1315.9"/>
<polygon class="k" fill="#18ffe6" points="225.9,1307.7 226.9,1300.5 243.4,1299.5 251.6,1305.6 255.7,1311.8 237.2,1312.8"/>
<polygon class="k" fill="#00a8ff" points="236.2,1311.8 238.2,1301.5 240.9,1311.8"/>
<polygon class="k" fill="#18ffe6" points="261.5,1323.1 263.9,1319.0 266.0,1324.1 263.9,1327.2"/>
<polygon class="k" fill="#60fca0" points="194.1,1360.1 212.6,1356.0 225.9,1360.1 212.6,1365.2"/>
<polygon class="k" fill="#60fca0" points="255.7,1411.5 256.7,1361.1 284.5,1350.8 296.8,1352.9 311.2,1344.7 315.3,1326.2 340.0,1315.9 356.4,1309.7 366.7,1292.3 371.8,1301.5 372.8,1324.1 366.7,1334.4 360.5,1350.8 352.3,1371.4 350.2,1383.7 354.3,1396.0 352.3,1411.5"/>
<polygon class="k" fill="#90ff70" points="281.4,1411.5 284.5,1381.6 303.0,1376.5 340.0,1379.6 346.1,1387.8 348.2,1411.5"/>
<polyline class="w" fill="none" points="308.1,1411.5 315.3,1382.7 322.5,1411.5"/>
<polygon class="k" fill="#18ffe6" points="263.9,1372.4 271.1,1361.1 296.8,1356.0 314.3,1346.7 317.4,1330.3 342.0,1328.2 343.0,1350.8 350.2,1367.3 348.2,1375.5 340.0,1376.5 284.5,1370.3 268.0,1372.4 265.0,1387.8 267.0,1396.0 262.9,1402.2 261.5,1387.8"/>
<polygon class="k" fill="#00a8ff" points="284.5,1360.1 290.6,1358.0 297.8,1360.1 290.6,1362.1"/>
<polygon class="k" fill="#00a8ff" points="335.8,1370.3 341.0,1362.1 343.0,1373.4"/>
<polygon class="k" fill="#60fca0" points="276.3,1170.2 275.2,1186.4 284.5,1209.0 289.6,1216.2 303.0,1207.0 317.4,1192.6 323.5,1180.3 319.4,1170.2"/>
<polygon class="k" fill="#18ffe6" points="279.3,1170.2 279.3,1187.5 286.5,1202.9 290.6,1210.1 301.9,1200.8 314.3,1188.5 317.4,1170.2"/>
<polygon class="k" fill="#00a8ff" points="282.4,1170.2 283.5,1187.5 290.6,1202.9 301.9,1194.7 311.2,1184.4 312.2,1170.2"/>
<polygon class="k" fill="#0048ff" points="286.5,1189.5 291.7,1184.4 295.8,1188.5 291.7,1193.6"/>
<polygon class="k" fill="#0048ff" points="285.5,1170.2 290.6,1180.3 296.8,1170.2"/>
<polygon class="k" fill="#60fca0" points="562.9,1190.5 572.1,1186.4 577.3,1190.5 578.3,1200.8 572.1,1211.1 563.9,1199.8"/>
<polygon class="k" fill="#60fca0" points="646.1,1201.8 681.3,1198.8 681.3,1207.0 650.2,1209.0"/>
<polygon class="k" fill="#60fca0" points="530.0,1305.6 535.2,1295.3 546.5,1288.1 553.7,1301.5 550.6,1313.8 546.5,1317.9 531.1,1310.8"/>
<polygon class="k" fill="#60fca0" points="592.7,1301.5 597.8,1292.9 607.1,1307.7 623.5,1323.1 630.1,1334.4 624.5,1350.4 615.3,1346.7 598.9,1334.4 593.7,1317.9"/>
<polygon class="k" fill="#60fca0" points="439.6,1322.1 444.8,1308.1 459.1,1323.1 443.7,1327.8"/>
<polygon class="k" fill="#60fca0" points="381.1,1396.0 391.3,1379.6 416.0,1370.3 444.8,1372.4 420.1,1383.7 409.8,1411.5 382.1,1411.5"/>
<polygon class="k" fill="#60fca0" points="463.7,1385.8 472.5,1383.7 473.1,1391.9 469.4,1402.2 464.3,1394.0"/>
<polygon class="k" fill="#60fca0" points="666.7,1383.7 681.3,1375.5 681.3,1386.8"/>
<polygon class="k" fill="#60fca0" points="481.7,1170.2 482.8,1186.4 495.1,1199.8 508.5,1189.5 509.5,1170.2"/>
<polygon class="k" fill="#18ffe6" points="490.0,1170.2 490.0,1187.5 497.1,1193.6 503.3,1186.4 502.3,1170.2"/>
<polygon class="k" fill="#ffec00" points="77.8,1170.2 77.8,1202.9 115.0,1213.2 117.0,1225.5 134.5,1237.8 159.1,1222.4 185.8,1226.5 187.9,1216.2 212.6,1202.9 235.2,1207.0 243.4,1223.4 231.1,1235.8 239.3,1240.9 253.7,1233.7 263.9,1223.4 277.3,1211.1 272.1,1188.5 273.2,1170.2"/>
<polygon class="k" fill="#ffbe00" points="77.8,1170.2 77.8,1195.7 113.9,1203.9 127.3,1213.2 126.3,1223.4 134.5,1232.7 146.8,1221.4 161.2,1216.2 210.5,1198.8 220.8,1190.5 229.0,1184.4 226.9,1170.2"/>
<polygon class="k" fill="#ff8000" points="77.8,1170.2 77.8,1192.6 116.0,1200.8 136.5,1211.1 161.2,1208.0 185.8,1196.7 210.5,1192.6 218.7,1186.4 214.6,1170.2"/>
<polygon class="k" fill="#ff1800" points="77.8,1186.0 101.6,1188.1 116.0,1197.7 136.5,1208.0 161.2,1204.9 175.6,1195.7 181.3,1188.5 175.6,1179.2 171.5,1170.2 105.7,1170.2 101.6,1179.2 77.8,1184.8"/>
<polygon class="k" fill="#8c0000" points="103.7,1187.5 111.9,1180.3 120.1,1170.2 165.3,1170.2 169.4,1182.3 161.2,1196.7 138.6,1198.8 116.0,1192.6"/>
<polygon class="k" fill="#8c0000" points="126.3,1178.2 135.5,1182.7 150.9,1178.2 148.9,1170.2 128.3,1170.2"/>
<polygon class="k" fill="#ff8000" points="132.8,1224.5 135.5,1221.0 138.2,1225.1 135.5,1227.9"/>
<polygon class="k" fill="#ffbe00" points="246.5,1202.9 253.7,1192.6 259.8,1182.3 257.8,1170.2 270.1,1170.2 269.1,1188.5 276.3,1209.0 263.9,1220.3 249.5,1214.2"/>
<polygon class="k" fill="#ff8000" points="251.6,1207.0 262.9,1191.6 272.1,1209.0 263.9,1217.3"/>
<polygon class="k" fill="#ff1800" points="259.8,1210.1 263.3,1203.9 267.0,1211.1 263.3,1214.8"/>
<polygon class="k" fill="#ffbe00" points="234.1,1236.8 240.3,1232.7 245.8,1236.8 240.3,1239.5"/>
<polygon class="k" fill="#ffec00" points="281.4,1236.8 316.3,1236.2 311.2,1266.6 343.0,1270.7 345.1,1285.1 340.0,1297.4 309.1,1311.8 296.8,1326.2 290.6,1336.4 284.5,1332.3 281.4,1301.5 263.9,1291.2 231.1,1286.5 265.0,1282.0 276.3,1276.8"/>
<polygon class="k" fill="#ffbe00" points="288.6,1245.0 294.8,1250.1 295.8,1264.5 303.0,1274.8 299.9,1287.1 290.6,1292.3 281.4,1285.1 285.5,1266.6"/>
<polygon class="k" fill="#ffbe00" points="288.6,1320.0 290.2,1316.9 291.3,1323.1 289.6,1327.2"/>
<polygon class="k" fill="#ffec00" points="182.8,1341.6 185.8,1333.4 210.5,1330.3 238.2,1329.2 235.2,1338.5 225.9,1346.7 185.8,1350.8"/>
<polygon class="k" fill="#ffbe00" points="205.4,1336.0 215.6,1335.0 212.1,1341.6"/>
<polygon class="k" fill="#ffec00" points="331.7,1190.5 330.7,1204.9 335.8,1218.3 365.6,1234.7 374.9,1229.6 375.9,1207.0 368.7,1199.8 354.3,1190.5 344.1,1192.6 341.0,1198.8 338.9,1189.5 334.8,1180.3"/>
<polygon class="k" fill="#ffbe00" points="328.7,1170.2 337.9,1181.3 340.0,1196.7 344.1,1187.5 354.3,1185.4 379.0,1183.4 379.0,1170.2"/>
<polygon class="k" fill="#ff8000" points="335.8,1170.2 338.9,1180.3 379.0,1179.9 379.0,1170.2"/>
<polygon class="w" fill="#90ff70" points="356.4,1187.5 366.7,1185.4 374.9,1189.5 366.7,1192.6"/>
<polygon class="k" fill="#ffec00" points="512.6,1248.1 520.8,1236.8 528.0,1237.8 531.1,1248.1 521.8,1254.7"/>
<polygon class="k" fill="#ffec00" points="412.3,1334.4 418.0,1325.1 422.2,1334.4 418.0,1344.7"/>
<polygon class="k" fill="#ffec00" points="423.2,1348.8 442.7,1345.7 480.7,1361.1 480.7,1370.3 469.4,1373.4 446.8,1365.2 426.3,1358.0"/>
<polygon class="k" fill="#ffec00" points="491.6,1334.4 495.7,1327.2 501.9,1334.4 496.1,1338.9"/>
<polygon class="k" fill="#ffec00" points="379.0,1170.2 409.8,1170.2 408.8,1185.4 394.4,1190.5 379.0,1187.5"/>
<polygon class="k" fill="#ffbe00" points="379.0,1170.2 399.5,1170.2 395.4,1182.3 379.0,1183.4"/>
<polygon class="k" fill="#ffec00" points="427.3,1170.2 475.6,1170.2 469.4,1185.4 442.7,1188.5 439.6,1183.4"/>
<polygon class="k" fill="#ffbe00" points="440.6,1178.2 471.5,1178.2 467.4,1182.3 444.8,1182.7"/>
<polygon class="k" fill="#ffbe00" points="513.6,1182.3 522.8,1178.2 559.8,1179.2 547.5,1185.4 522.8,1187.5"/>
<polygon class="k" fill="#ffec00" points="576.3,1170.2 681.3,1170.2 681.3,1192.6 600.9,1196.7 592.7,1184.4"/>
<polygon class="k" fill="#ffbe00" points="578.3,1178.2 631.7,1178.2 621.5,1184.4 596.8,1185.4"/>
<polygon class="k" fill="#ff8000" points="590.6,1178.2 615.3,1178.2 611.2,1181.3 594.8,1181.9"/>
<polygon class="w" fill="#90ff70" points="635.8,1182.3 650.2,1178.2 664.6,1182.3 650.2,1186.8"/>
</g>
<path class="a" d="M83.75 1176.25H675.30V1405.50H83.75ZM83.75 1176.25v-7.00M83.75 1405.50v7.00M135.19 1176.25v-7.00M135.19 1405.50v7.00M186.63 1176.25v-7.00M186.63 1405.50v7.00M238.07 1176.25v-7.00M238.07 1405.50v7.00M289.51 1176.25v-7.00M289.51 1405.50v7.00M340.95 1176.25v-7.00M340.95 1405.50v7.00M392.38 1176.25v-7.00M392.38 1405.50v7.00M443.82 1176.25v-7.00M443.82 1405.50v7.00M495.26 1176.25v-7.00M495.26 1405.50v7.00M546.70 1176.25v-7.00M546.70 1405.50v7.00M598.14 1176.25v-7.00M598.14 1405.50v7.00M649.58 1176.25v-7.00M649.58 1405.50v7.00M675.30 1176.25v-7.00M675.30 1405.50v7.00M83.75 1212.93h-7.00M675.30 1212.93h7.00M83.75 1249.21h-7.00M675.30 1249.21h7.00M83.75 1285.49h-7.00M675.30 1285.49h7.00M83.75 1321.77h-7.00M675.30 1321.77h7.00M83.75 1358.05h-7.00M675.30 1358.05h7.00M83.75 1405.50h-7.00M675.30 1405.50h7.00"/>
<text class="t" x="70.2" y="1221.5" text-anchor="end">-10</text>
<text class="t" x="70.2" y="1257.8" text-anchor="end">-20</text>
<text class="t" x="70.2" y="1294.1" text-anchor="end">-30</text>
<text class="t" x="70.2" y="1330.4" text-anchor="end">-40</text>
<text class="t" x="70.2" y="1366.7" text-anchor="end">-50</text>
<text class="t" x="70.2" y="1414.1" text-anchor="end">-63</text>
<text class="T" x="379.5" y="1170.5" text-anchor="middle">-vadv</text>
<text class="T" transform="translate(25.8 1290.9) rotate(-90)" text-anchor="middle">depth/(m)</text>
<rect x="689.30" y="1176.25" width="26.10" height="229.25" fill="url(#jet)"/>
<text class="t" x="722.4" y="1184.8">30</text>
<text class="t" x="722.4" y="1217.6">20</text>
<text class="t" x="722.4" y="1250.3">10</text>
<text class="t" x="722.4" y="1283.1">0</text>
<text class="t" x="722.4" y="1315.8">-10</text>
<text class="t" x="722.4" y="1348.6">-20</text>
<text class="t" x="722.4" y="1381.3">-30</text>
<text class="t" x="722.4" y="1414.1">-40</text>
<path d="M715.40 1209.00h-7M715.40 1241.75h-7M715.40 1274.50h-7M715.40 1307.25h-7M715.40 1340.00h-7M715.40 1372.75h-7" stroke="#262626" stroke-width="0.8" fill="none" opacity="0.75"/>
<rect x="689.30" y="1176.25" width="26.10" height="229.25" fill="none" stroke="#262626" stroke-width="0.7" opacity="0.6"/>
</g>
<g id="B22">
<clipPath id="cB22"><rect x="798.90" y="1176.25" width="591.60" height="229.25"/></clipPath>
<rect x="798.90" y="1176.25" width="591.60" height="229.25" fill="#d2ff2d"/>
<g clip-path="url(#cB22)">
<polygon class="w" fill="#90ff70" points="792.9,1170.2 993.3,1170.2 993.3,1179.2 978.9,1185.4 975.8,1192.6 972.8,1212.1 933.7,1224.5 927.6,1231.6 884.4,1246.0 878.2,1252.2 880.3,1260.4 898.8,1270.7 933.7,1270.7 953.2,1272.7 970.7,1268.6 997.4,1274.8 1005.6,1285.1 978.9,1301.5 974.8,1309.7 978.9,1316.9 999.5,1314.9 1020.0,1320.0 1052.9,1336.4 1069.3,1359.0 1079.6,1361.1 1094.0,1344.7 1104.3,1332.3 1131.0,1321.0 1159.8,1320.0 1186.5,1334.4 1159.8,1339.5 1149.5,1346.7 1133.0,1350.8 1110.4,1365.2 1094.0,1372.4 1055.0,1372.4 1030.3,1383.7 989.2,1372.4 1005.6,1363.1 1030.3,1365.2 1055.0,1354.9 1052.9,1348.8 1030.3,1344.7 1005.6,1354.9 978.9,1352.9 954.3,1363.1 925.5,1363.1 909.1,1357.0 900.8,1336.4 876.2,1340.5 849.5,1348.8 824.8,1357.0 792.9,1347.7 792.9,1276.8 824.8,1260.4 845.4,1246.0 870.0,1236.8 854.6,1224.5 864.9,1213.2 849.5,1208.0 824.8,1214.2 792.9,1207.0"/>
<polygon class="w" fill="#d2ff2d" points="792.9,1187.5 824.8,1186.4 876.2,1183.4 902.9,1179.2 907.0,1182.3 898.8,1188.5 876.2,1196.7 824.8,1197.7 792.9,1198.8"/>
<polygon class="w" fill="#d2ff2d" points="908.0,1200.8 927.6,1194.7 928.6,1208.0"/>
<polygon class="w" fill="#d2ff2d" points="898.8,1224.5 902.9,1221.4 907.0,1225.5 902.5,1231.6"/>
<polygon class="w" fill="#d2ff2d" points="866.9,1317.9 876.2,1305.6 896.7,1311.8 927.6,1314.9 934.8,1322.1 927.6,1334.4 900.8,1332.3 876.2,1326.2"/>
<polygon class="w" fill="#90ff70" points="1022.1,1250.1 1026.2,1237.8 1034.4,1235.8 1024.1,1225.5 1028.2,1217.3 1055.0,1206.0 1069.3,1214.2 1071.4,1256.3 1055.0,1266.6 1030.3,1264.5"/>
<polygon class="w" fill="#90ff70" points="792.9,1370.3 802.2,1379.6 804.3,1396.0 807.4,1401.8 896.7,1401.8 900.8,1398.1 906.0,1411.5 792.9,1411.5"/>
<polyline class="w" fill="none" points="980.0,1383.7 980.0,1411.5"/>
<polygon class="k" fill="#18ffe6" points="792.9,1170.2 884.4,1170.2 855.6,1180.3 824.8,1182.7 792.9,1180.3"/>
<polygon class="k" fill="#00a8ff" points="810.4,1170.2 851.5,1170.2 841.3,1179.2 824.8,1180.7"/>
<polygon class="k" fill="#ffec00" points="997.4,1170.2 1050.8,1170.2 1048.8,1179.2 1030.3,1184.8 1011.8,1181.3"/>
<polygon class="k" fill="#ffbe00" points="1015.9,1170.2 1040.6,1170.2 1030.3,1179.2"/>
<polygon class="k" fill="#60fca0" points="913.2,1170.2 925.5,1186.4 937.8,1196.7 953.2,1212.1 968.7,1196.7 974.8,1186.4 978.9,1170.2"/>
<polygon class="k" fill="#18ffe6" points="921.4,1170.2 930.6,1186.4 940.9,1196.7 953.2,1209.0 965.6,1196.7 971.7,1185.4 974.8,1170.2"/>
<polygon class="k" fill="#00a8ff" points="933.7,1170.2 939.9,1185.4 945.0,1196.7 953.2,1204.9 961.5,1196.7 965.6,1185.4 964.5,1170.2"/>
<polygon class="k" fill="#ffec00" points="934.8,1240.9 952.2,1226.5 970.7,1235.8 982.0,1251.2 982.0,1261.4 953.2,1268.6 937.8,1262.5 933.7,1252.2"/>
<polygon class="k" fill="#ffbe00" points="941.9,1244.0 953.2,1231.6 964.5,1237.8 968.7,1249.1 962.5,1260.4 953.2,1263.5 946.1,1256.3"/>
<polygon class="k" fill="#ff8000" points="948.1,1248.1 953.2,1235.8 958.4,1248.1 953.2,1255.3"/>
<polygon class="k" fill="#60fca0" points="970.7,1274.8 978.9,1271.7 986.1,1275.2 978.9,1278.9"/>
<polygon class="k" fill="#60fca0" points="948.1,1311.4 953.2,1308.1 957.4,1311.8 953.2,1315.5"/>
<polygon class="k" fill="#60fca0" points="948.1,1347.1 952.2,1345.1 955.3,1347.7 951.8,1349.2"/>
<polygon class="k" fill="#ffec00" points="937.8,1411.5 944.0,1385.8 952.6,1375.5 961.5,1385.8 963.5,1411.5"/>
<polygon class="k" fill="#ffec00" points="1105.3,1170.2 1163.9,1170.2 1161.8,1179.9 1133.0,1184.0 1108.4,1179.9"/>
<polygon class="k" fill="#ffec00" points="1226.5,1181.9 1235.8,1179.2 1258.4,1182.3 1235.8,1185.4"/>
<polygon class="w" fill="#90ff70" points="1145.4,1200.8 1159.8,1196.3 1178.2,1200.8 1159.8,1210.7"/>
<polygon class="w" fill="#90ff70" points="1293.3,1170.2 1307.7,1181.3 1318.0,1181.3 1325.2,1170.2"/>
<polygon class="k" fill="#000000" points="1309.8,1188.1 1313.5,1186.8 1316.3,1188.9 1312.8,1190.1"/>
<polygon class="w" fill="#90ff70" points="1157.7,1371.4 1165.9,1361.1 1184.4,1351.8 1217.3,1353.9 1244.0,1360.1 1255.3,1371.4 1235.8,1376.5 1211.1,1367.3 1184.4,1381.6"/>
<polygon class="w" fill="#90ff70" points="1341.6,1372.4 1396.5,1362.1 1396.5,1376.5"/>
<polygon class="w" fill="#90ff70" points="1094.0,1411.5 1127.9,1396.0 1133.0,1379.6 1141.3,1385.8 1143.3,1396.0 1159.8,1411.5 1161.8,1411.5 1094.0,1411.5"/>
<polygon class="w" fill="#90ff70" points="1205.0,1396.0 1211.1,1390.9 1235.8,1396.0 1262.5,1393.6 1289.2,1398.1 1340.6,1398.5 1359.1,1411.5 1361.1,1411.5 1235.8,1411.5 1237.8,1401.2 1209.1,1400.1"/>
</g>
<path class="a" d="M798.90 1176.25H1390.50V1405.50H798.90ZM798.90 1176.25v-7.00M798.90 1405.50v7.00M850.34 1176.25v-7.00M850.34 1405.50v7.00M901.79 1176.25v-7.00M901.79 1405.50v7.00M953.23 1176.25v-7.00M953.23 1405.50v7.00M1004.67 1176.25v-7.00M1004.67 1405.50v7.00M1056.12 1176.25v-7.00M1056.12 1405.50v7.00M1107.56 1176.25v-7.00M1107.56 1405.50v7.00M1159.00 1176.25v-7.00M1159.00 1405.50v7.00M1210.45 1176.25v-7.00M1210.45 1405.50v7.00M1261.89 1176.25v-7.00M1261.89 1405.50v7.00M1313.33 1176.25v-7.00M1313.33 1405.50v7.00M1364.78 1176.25v-7.00M1364.78 1405.50v7.00M1390.50 1176.25v-7.00M1390.50 1405.50v7.00M798.90 1212.93h-7.00M1390.50 1212.93h7.00M798.90 1249.21h-7.00M1390.50 1249.21h7.00M798.90 1285.49h-7.00M1390.50 1285.49h7.00M798.90 1321.77h-7.00M1390.50 1321.77h7.00M798.90 1358.05h-7.00M1390.50 1358.05h7.00M798.90 1405.50h-7.00M1390.50 1405.50h7.00"/>
<text class="T" x="1094.7" y="1170.5" text-anchor="middle">hdif+vdif+rad</text>
<rect x="1404.90" y="1176.25" width="25.50" height="229.25" fill="url(#jet)"/>
<text class="t" x="1437.4" y="1184.8">3</text>
<text class="t" x="1437.4" y="1217.6">2</text>
<text class="t" x="1437.4" y="1250.3">1</text>
<text class="t" x="1437.4" y="1283.1">0</text>
<text class="t" x="1437.4" y="1315.8">-1</text>
<text class="t" x="1437.4" y="1348.6">-2</text>
<text class="t" x="1437.4" y="1381.3">-3</text>
<text class="t" x="1437.4" y="1414.1">-4</text>
<path d="M1430.40 1209.00h-7M1430.40 1241.75h-7M1430.40 1274.50h-7M1430.40 1307.25h-7M1430.40 1340.00h-7M1430.40 1372.75h-7" stroke="#262626" stroke-width="0.8" fill="none" opacity="0.75"/>
<rect x="1404.90" y="1176.25" width="25.50" height="229.25" fill="none" stroke="#262626" stroke-width="0.7" opacity="0.6"/>
</g>
<g id="B31">
<clipPath id="cB31"><rect x="83.75" y="1443.80" width="593.35" height="229.50"/></clipPath>
<rect x="83.75" y="1443.80" width="593.35" height="229.50" fill="#90ff70"/>
<g clip-path="url(#cB31)">
<polygon class="w" fill="#d2ff2d" points="77.8,1437.8 77.8,1499.6 91.3,1487.3 109.8,1478.1 134.5,1505.8 146.8,1487.3 149.9,1468.8 160.2,1457.5 163.2,1457.5 173.5,1468.8 177.6,1485.3 187.9,1505.8 212.6,1518.1 220.8,1497.6 222.8,1489.4 210.5,1456.5 202.3,1454.4 216.7,1446.2 216.7,1437.8"/>
<polygon class="k" fill="#ffbe00" points="77.8,1437.8 146.8,1437.8 140.6,1448.3 111.9,1451.4 77.8,1450.7"/>
<polygon class="k" fill="#ff8000" points="77.8,1437.8 138.6,1437.8 134.5,1447.2 109.8,1449.3 77.8,1448.3"/>
<polyline class="w" fill="none" points="77.8,1456.9 111.9,1455.5 130.4,1449.7 161.2,1447.7 180.7,1451.4"/>
<polygon class="k" fill="#ffec00" points="118.0,1468.8 139.6,1466.8 134.5,1493.5"/>
<polygon class="k" fill="#ffec00" points="77.8,1468.4 95.4,1468.8 77.8,1472.5"/>
<polygon class="k" fill="#ffec00" points="183.8,1481.2 187.9,1458.5 212.6,1481.2 202.3,1484.2"/>
<polygon class="k" fill="#60fca0" points="161.2,1460.6 169.4,1485.3 178.7,1516.1 169.4,1544.8 166.3,1569.5 169.4,1590.1 155.0,1602.4 148.9,1635.3 144.8,1655.8 135.5,1667.1 128.3,1649.6 122.2,1625.0 121.1,1579.8 130.4,1561.3 138.6,1538.7 125.2,1528.4 140.6,1518.1 155.0,1485.3"/>
<polygon class="k" fill="#60fca0" points="150.9,1450.3 169.4,1450.3 161.2,1455.5"/>
<polygon class="k" fill="#18ffe6" points="161.2,1479.1 165.3,1505.8 161.2,1533.5 156.1,1505.8"/>
<polygon class="k" fill="#18ffe6" points="128.3,1590.1 137.6,1577.7 151.9,1590.1 140.6,1600.3 135.5,1612.7"/>
<polygon class="k" fill="#60fca0" points="77.8,1581.8 88.2,1602.4 89.3,1616.8 86.2,1629.1 77.8,1630.1"/>
<polygon class="w" fill="#d2ff2d" points="99.5,1610.6 109.8,1581.8 119.1,1612.7 109.8,1626.0"/>
<polygon class="w" fill="#d2ff2d" points="255.7,1437.8 258.8,1451.4 276.3,1462.7 280.0,1489.4 279.3,1520.2 276.3,1557.2 263.9,1567.5 239.3,1576.7 202.3,1555.1 196.1,1540.7 185.8,1534.6 179.7,1540.7 178.7,1571.6 187.9,1594.2 198.2,1633.2 202.3,1679.3 335.8,1679.3 333.8,1643.5 337.9,1622.9 344.1,1592.1 360.5,1577.7 364.6,1561.3 356.4,1514.0 362.6,1489.4 370.8,1475.0 366.7,1460.6 352.3,1446.2 350.2,1437.8"/>
<polygon class="w" fill="#90ff70" points="257.8,1679.3 259.8,1602.4 263.9,1598.3 268.0,1602.4 278.3,1631.1 282.4,1664.0 284.5,1679.3"/>
<polygon class="w" fill="#d2ff2d" points="222.8,1541.8 247.5,1538.7 238.2,1553.1"/>
<polygon class="k" fill="#60fca0" points="215.6,1437.8 218.7,1458.5 229.0,1479.1 239.3,1499.6 220.8,1528.4 233.1,1531.5 259.8,1536.6 263.9,1551.0 267.0,1536.6 274.2,1524.3 277.3,1499.6 275.2,1466.8 259.8,1456.5 253.7,1437.8"/>
<polygon class="k" fill="#18ffe6" points="220.8,1437.8 222.8,1458.5 233.1,1479.1 243.4,1499.6 235.2,1526.4 259.8,1533.5 272.1,1522.2 275.8,1499.6 273.8,1467.8 258.8,1457.5 251.6,1437.8"/>
<polygon class="k" fill="#00a8ff" points="225.9,1437.8 226.9,1458.5 237.2,1481.2 246.5,1499.6 249.5,1526.4 260.8,1530.5 271.1,1520.2 274.2,1499.6 272.1,1468.8 257.8,1458.5 248.5,1437.8"/>
<polygon class="k" fill="#0048ff" points="235.2,1437.8 236.2,1462.7 243.4,1481.2 251.6,1501.7 253.7,1518.1 262.9,1524.3 270.1,1518.1 272.6,1499.6 270.1,1470.9 255.7,1459.6 243.4,1437.8"/>
<polygon class="k" fill="#0000d0" points="257.8,1483.2 263.9,1478.1 269.1,1489.4 269.1,1505.8 263.9,1517.1 257.8,1507.9 255.7,1493.5"/>
<polygon class="k" fill="#00008f" points="261.9,1487.3 265.0,1486.3 266.4,1497.6 263.9,1509.9 261.5,1499.6"/>
<polygon class="k" fill="#ffec00" points="259.8,1447.2 268.0,1437.8 282.4,1446.2 276.3,1450.3 266.0,1454.4"/>
<polygon class="k" fill="#ffbe00" points="263.9,1447.2 269.1,1437.8 273.2,1447.9 268.0,1449.9"/>
<polygon class="k" fill="#ffec00" points="299.9,1450.3 321.5,1437.8 350.2,1446.2 352.3,1458.5 346.1,1468.8 348.2,1481.2 340.0,1505.8 342.0,1561.3 335.8,1602.4 332.8,1635.3 315.3,1653.8 296.8,1639.4 293.7,1622.9 272.1,1590.1 288.6,1577.7 293.7,1561.3 282.4,1534.6 281.4,1499.6 282.4,1468.8 288.6,1460.6"/>
<polygon class="k" fill="#ffbe00" points="305.0,1453.4 315.3,1449.3 342.0,1448.3 344.1,1462.7 335.8,1479.1 334.8,1509.9 336.9,1561.3 328.7,1602.4 325.6,1629.1 315.3,1645.5 305.0,1635.3 300.9,1620.9 284.5,1602.4 286.5,1590.1 296.8,1577.7 299.9,1559.2 286.5,1532.5 284.5,1499.6 285.5,1470.9"/>
<polygon class="k" fill="#ff8000" points="307.1,1458.5 315.3,1451.4 328.7,1455.5 328.7,1479.1 327.6,1520.2 324.5,1561.3 316.3,1589.0 309.1,1569.5 303.0,1553.1 290.6,1530.5 286.5,1499.6 288.6,1472.9"/>
<polygon class="k" fill="#ff1800" points="288.6,1479.1 292.7,1477.0 303.0,1481.2 315.3,1497.6 320.4,1520.2 316.3,1544.8 305.0,1528.4 290.6,1518.1"/>
<polygon class="k" fill="#8c0000" points="289.0,1492.5 291.7,1490.4 293.7,1493.1 290.6,1496.6"/>
<polygon class="k" fill="#ff8000" points="313.2,1628.1 315.7,1620.9 318.4,1629.1 315.3,1635.3"/>
<polygon class="k" fill="#ffec00" points="210.5,1614.7 238.2,1591.1 249.5,1602.4 255.7,1614.7 249.5,1633.2 238.2,1648.6 226.9,1639.4 212.6,1627.0"/>
<polygon class="k" fill="#ffbe00" points="222.8,1615.7 237.2,1603.4 248.5,1614.7 241.3,1631.1 231.1,1627.0"/>
<polygon class="k" fill="#ff8000" points="233.5,1615.7 237.6,1611.6 241.7,1615.7 237.6,1620.9"/>
<polyline class="w" fill="none" points="258.2,1450.3 276.3,1462.7 280.4,1489.4 279.3,1520.2" style="stroke-width:3.8"/>
<polygon class="k" fill="#60fca0" points="393.4,1468.8 403.7,1483.2 409.8,1505.8 410.8,1561.3 407.8,1594.2 412.9,1633.2 407.8,1662.0 395.4,1679.3 385.2,1669.2 379.0,1647.6 374.9,1622.9 371.8,1561.3 372.8,1520.2 378.0,1501.7 383.1,1481.2"/>
<polygon class="k" fill="#60fca0" points="360.5,1447.2 366.7,1437.8 413.9,1437.8 418.0,1455.5 393.4,1468.8 387.2,1456.5 368.7,1452.8"/>
<polygon class="k" fill="#18ffe6" points="393.4,1513.0 401.6,1536.6 402.6,1561.3 393.4,1600.3 385.2,1561.3 382.1,1534.6"/>
<polygon class="k" fill="#00a8ff" points="393.0,1534.6 396.5,1553.1 393.4,1573.6 389.3,1553.1"/>
<polygon class="k" fill="#18ffe6" points="393.4,1608.5 401.6,1627.0 393.4,1645.5 384.1,1628.1"/>
<polygon class="w" fill="#d2ff2d" points="417.0,1468.8 424.2,1466.8 422.2,1481.2 418.0,1481.6"/>
<polygon class="w" fill="#d2ff2d" points="418.0,1530.5 422.2,1528.4 439.6,1542.8 446.8,1571.6 450.9,1613.7 496.1,1626.0 522.8,1619.8 525.9,1626.0 508.5,1643.5 510.5,1664.0 507.4,1679.3 450.9,1679.3 449.9,1653.8 438.6,1635.3 435.5,1622.9 438.6,1610.6 418.0,1592.1 416.0,1561.3"/>
<polygon class="k" fill="#ffec00" points="466.3,1651.7 471.5,1641.4 477.6,1652.7 475.6,1662.0 470.4,1669.2 466.9,1660.9"/>
<polygon class="w" fill="#d2ff2d" points="481.7,1450.3 492.0,1446.2 563.9,1445.8 514.6,1449.3 516.7,1458.5 518.7,1499.6 515.6,1596.2 512.6,1602.4 497.1,1611.6 483.8,1602.4 475.6,1561.3 469.4,1524.3 465.3,1516.1 469.4,1503.8 479.7,1460.6"/>
<polygon class="k" fill="#ffec00" points="497.1,1455.5 500.2,1479.1 505.4,1505.8 505.4,1561.3 501.3,1581.8 496.5,1596.2 491.0,1577.7 485.8,1540.7 483.8,1505.8 487.9,1483.2 494.1,1460.6"/>
<polyline class="k" fill="none" points="496.7,1530.5 496.7,1543.8" style="stroke-width:3.0"/>
<polygon class="k" fill="#0000d0" points="469.4,1579.8 471.1,1588.0 470.4,1603.4 469.0,1594.2"/>
<polygon class="k" fill="#60fca0" points="547.5,1502.7 549.5,1507.9 549.5,1561.3 547.9,1595.2 543.4,1573.6 538.2,1544.8 537.2,1526.4 541.3,1512.0"/>
<polygon class="w" fill="#d2ff2d" points="551.6,1456.5 574.2,1451.4 587.6,1457.5 584.5,1520.2 583.5,1598.3 574.2,1619.8 569.1,1608.5 565.0,1540.7 561.9,1499.6"/>
<polygon class="k" fill="#ffbe00" points="573.8,1485.3 576.7,1503.8 573.8,1522.2 571.1,1503.8"/>
<polygon class="k" fill="#60fca0" points="605.0,1450.3 618.4,1446.2 627.6,1450.3 640.0,1455.5 641.0,1499.6 635.8,1561.3 629.7,1594.2 625.6,1609.6 609.1,1579.8 596.8,1561.3 592.7,1530.5 592.7,1499.6 596.8,1470.9"/>
<polygon class="k" fill="#18ffe6" points="599.9,1503.8 625.6,1499.6 625.6,1529.4 599.9,1515.1"/>
<polygon class="k" fill="#18ffe6" points="620.4,1456.5 628.7,1455.5 625.2,1463.7"/>
<polygon class="k" fill="#60fca0" points="641.0,1455.5 651.3,1450.7 658.5,1456.5 660.9,1489.4 666.7,1530.5 683.1,1544.8 683.1,1437.8 633.8,1437.8"/>
<polygon class="k" fill="#18ffe6" points="657.4,1437.8 683.1,1437.8 683.1,1516.1 673.9,1505.8 672.8,1468.8 666.7,1450.3"/>
<polygon class="k" fill="#00a8ff" points="673.9,1448.3 683.1,1447.2 683.1,1458.5 674.5,1457.5"/>
<polygon class="w" fill="#d2ff2d" points="651.3,1544.8 683.1,1592.1 683.1,1645.5 652.3,1662.0 646.1,1651.7 637.9,1635.3 646.1,1592.1"/>
<polyline class="w" fill="none" points="652.3,1662.0 650.2,1679.3"/>
<polygon class="w" fill="#d2ff2d" points="651.3,1509.9 653.9,1526.4 651.3,1540.7 648.6,1526.4"/>
</g>
<path class="a" d="M83.75 1443.80H677.10V1673.30H83.75ZM83.75 1443.80v-7.00M83.75 1673.30v7.00M135.35 1443.80v-7.00M135.35 1673.30v7.00M186.94 1443.80v-7.00M186.94 1673.30v7.00M238.54 1443.80v-7.00M238.54 1673.30v7.00M290.13 1443.80v-7.00M290.13 1673.30v7.00M341.73 1443.80v-7.00M341.73 1673.30v7.00M393.32 1443.80v-7.00M393.32 1673.30v7.00M444.92 1443.80v-7.00M444.92 1673.30v7.00M496.52 1443.80v-7.00M496.52 1673.30v7.00M548.11 1443.80v-7.00M548.11 1673.30v7.00M599.71 1443.80v-7.00M599.71 1673.30v7.00M651.30 1443.80v-7.00M651.30 1673.30v7.00M677.10 1443.80v-7.00M677.10 1673.30v7.00M83.75 1480.48h-7.00M677.10 1480.48h7.00M83.75 1516.76h-7.00M677.10 1516.76h7.00M83.75 1553.04h-7.00M677.10 1553.04h7.00M83.75 1589.32h-7.00M677.10 1589.32h7.00M83.75 1625.60h-7.00M677.10 1625.60h7.00M83.75 1673.30h-7.00M677.10 1673.30h7.00"/>
<text class="t" x="70.2" y="1489.1" text-anchor="end">-10</text>
<text class="t" x="70.2" y="1525.4" text-anchor="end">-20</text>
<text class="t" x="70.2" y="1561.6" text-anchor="end">-30</text>
<text class="t" x="70.2" y="1597.9" text-anchor="end">-40</text>
<text class="t" x="70.2" y="1634.2" text-anchor="end">-50</text>
<text class="t" x="70.2" y="1681.9" text-anchor="end">-63</text>
<text class="t" x="83.8" y="1709.3" text-anchor="middle">7/12</text>
<text class="t" x="135.3" y="1709.3" text-anchor="middle">7/14</text>
<text class="t" x="186.9" y="1709.3" text-anchor="middle">7/16</text>
<text class="t" x="238.5" y="1709.3" text-anchor="middle">7/18</text>
<text class="t" x="290.1" y="1709.3" text-anchor="middle">7/20</text>
<text class="t" x="341.7" y="1709.3" text-anchor="middle">7/22</text>
<text class="t" x="393.3" y="1709.3" text-anchor="middle">7/24</text>
<text class="t" x="444.9" y="1709.3" text-anchor="middle">7/26</text>
<text class="t" x="496.5" y="1709.3" text-anchor="middle">7/28</text>
<text class="t" x="548.1" y="1709.3" text-anchor="middle">7/30</text>
<text class="t" x="599.7" y="1709.3" text-anchor="middle">8/1</text>
<text class="t" x="635.3" y="1709.3">8/3/4</text>
<text class="T" x="380.4" y="1438.0" text-anchor="middle">-hadv-vadv</text>
<text class="T" transform="translate(25.8 1558.5) rotate(-90)" text-anchor="middle">depth/(m)</text>
<rect x="689.80" y="1443.80" width="26.40" height="229.50" fill="url(#jet)"/>
<text class="t" x="723.2" y="1452.4">3</text>
<text class="t" x="723.2" y="1485.2">2</text>
<text class="t" x="723.2" y="1518.0">1</text>
<text class="t" x="723.2" y="1550.8">0</text>
<text class="t" x="723.2" y="1583.5">-1</text>
<text class="t" x="723.2" y="1616.3">-2</text>
<text class="t" x="723.2" y="1649.1">-3</text>
<text class="t" x="723.2" y="1681.9">-4</text>
<path d="M716.20 1476.59h-7M716.20 1509.37h-7M716.20 1542.16h-7M716.20 1574.94h-7M716.20 1607.73h-7M716.20 1640.51h-7" stroke="#262626" stroke-width="0.8" fill="none" opacity="0.75"/>
<rect x="689.80" y="1443.80" width="26.40" height="229.50" fill="none" stroke="#262626" stroke-width="0.7" opacity="0.6"/>
</g>
<g id="B32">
<clipPath id="cB32"><rect x="798.90" y="1443.80" width="592.20" height="229.50"/></clipPath>
<rect x="798.90" y="1443.80" width="592.20" height="229.50" fill="#90ff70"/>
<g clip-path="url(#cB32)">
<polygon class="w" fill="#d2ff2d" points="792.9,1437.8 792.9,1503.8 808.4,1487.3 824.8,1475.0 838.2,1495.5 849.5,1506.8 861.8,1489.4 864.9,1468.8 863.9,1454.4 857.7,1448.3 855.6,1437.8"/>
<polygon class="w" fill="#d2ff2d" points="886.5,1437.8 884.4,1454.4 890.6,1468.8 896.7,1491.4 902.9,1505.8 915.2,1516.1 927.6,1524.3 952.2,1527.4 956.3,1520.2 958.4,1505.8 954.3,1497.6 935.8,1485.3 927.6,1464.7 909.1,1450.3 911.1,1437.8"/>
<polygon class="k" fill="#ffec00" points="792.9,1437.8 808.4,1437.8 807.4,1448.3 792.9,1449.3"/>
<polygon class="k" fill="#ffec00" points="840.2,1480.1 849.5,1465.7 855.6,1479.1 849.5,1495.5"/>
<polygon class="k" fill="#ffec00" points="900.8,1463.7 925.5,1468.8 926.5,1472.9 900.8,1481.2"/>
<polygon class="k" fill="#ffec00" points="935.8,1503.8 952.2,1498.6 955.3,1507.9 954.3,1522.2 939.9,1517.1"/>
<polygon class="k" fill="#ffbe00" points="947.1,1504.8 953.2,1501.7 954.3,1514.0"/>
<polygon class="k" fill="#60fca0" points="873.1,1437.8 878.2,1437.8 878.2,1450.3 875.2,1452.4 873.1,1449.3"/>
<polygon class="k" fill="#60fca0" points="876.2,1461.6 884.4,1475.0 893.7,1509.9 884.4,1544.8 885.4,1561.3 878.2,1581.8 882.4,1592.1 876.2,1602.4 850.5,1626.0 838.2,1610.6 834.1,1577.7 838.2,1561.3 849.5,1551.0 853.6,1538.7 840.2,1528.4 853.6,1524.3 863.9,1499.6 870.0,1475.0"/>
<polygon class="k" fill="#18ffe6" points="876.2,1475.0 880.3,1491.4 881.3,1509.9 876.2,1541.8 872.1,1526.4 871.1,1499.6"/>
<polygon class="k" fill="#18ffe6" points="842.3,1590.1 850.5,1575.7 865.9,1590.1 861.8,1600.3 850.5,1614.7"/>
<polygon class="k" fill="#60fca0" points="792.9,1579.8 803.2,1594.2 807.4,1612.7 792.9,1620.9"/>
<polygon class="w" fill="#d2ff2d" points="816.6,1602.4 824.8,1587.0 827.9,1608.5 824.8,1622.9 826.9,1640.4 823.8,1645.5 817.6,1638.3 820.7,1620.9"/>
<polygon class="w" fill="#d2ff2d" points="974.8,1437.8 976.9,1450.3 991.3,1464.7 994.3,1520.2 989.2,1553.1 978.9,1571.6 953.2,1587.0 933.7,1577.7 929.6,1565.4 902.9,1553.1 908.0,1540.7 901.9,1536.6 898.8,1544.8 900.8,1555.1 895.7,1571.6 902.9,1594.2 911.1,1622.9 913.2,1679.3 1061.1,1679.3 1058.0,1643.5 1057.0,1612.7 1063.2,1592.1 1074.5,1561.3 1067.3,1520.2 1071.4,1499.6 1081.7,1462.7 1077.6,1450.3 1073.5,1437.8"/>
<polygon class="w" fill="#90ff70" points="972.8,1679.3 973.8,1602.4 978.9,1597.2 984.1,1602.4 988.2,1635.3 989.2,1679.3"/>
<polygon class="w" fill="#d2ff2d" points="937.8,1539.7 952.2,1529.4 956.3,1536.6 958.4,1544.8 952.2,1553.1"/>
<polygon class="k" fill="#60fca0" points="919.3,1437.8 921.4,1450.3 929.6,1456.5 933.7,1475.0 956.3,1493.5 964.5,1516.1 972.8,1544.8 978.9,1556.1 985.1,1544.8 989.2,1524.3 992.3,1499.6 990.2,1466.8 976.9,1452.4 972.8,1437.8"/>
<polygon class="k" fill="#18ffe6" points="927.6,1437.8 931.7,1458.5 937.8,1477.0 958.4,1491.4 966.6,1516.1 974.8,1538.7 978.9,1544.8 983.0,1534.6 988.2,1520.2 990.8,1499.6 988.8,1468.8 975.8,1454.4 970.7,1437.8"/>
<polygon class="k" fill="#00a8ff" points="930.6,1437.8 934.8,1458.5 940.9,1475.0 960.4,1489.4 968.7,1514.0 978.9,1527.4 987.1,1518.1 989.6,1499.6 987.6,1469.8 974.8,1456.5 968.7,1437.8"/>
<polygon class="k" fill="#0048ff" points="935.8,1437.8 938.9,1458.5 946.1,1472.9 962.5,1486.3 970.7,1512.0 978.9,1523.3 986.1,1516.1 988.2,1499.6 986.1,1470.9 973.8,1458.5 966.6,1437.8"/>
<polygon class="k" fill="#0000d0" points="946.1,1437.8 947.1,1458.5 956.3,1475.0 962.5,1468.8 964.5,1462.7 961.5,1437.8"/>
<polygon class="k" fill="#0000d0" points="971.7,1487.3 976.9,1480.1 982.0,1487.3 983.0,1503.8 978.9,1515.1 973.8,1505.8"/>
<polygon class="k" fill="#00008f" points="950.2,1437.8 951.2,1458.5 956.3,1468.8 958.4,1458.5 957.4,1437.8"/>
<polygon class="k" fill="#00008f" points="976.9,1487.3 980.0,1488.3 980.6,1499.6 978.5,1508.9 976.5,1499.6"/>
<polygon class="k" fill="#ffec00" points="977.9,1437.8 1009.8,1437.8 1013.9,1453.4 1007.7,1452.4 1003.6,1455.5 978.9,1453.4"/>
<polygon class="k" fill="#ffec00" points="1015.9,1452.4 1026.2,1437.8 1067.3,1437.8 1069.3,1458.5 1063.2,1479.1 1059.1,1505.8 1060.1,1561.3 1055.0,1581.8 1047.8,1608.5 1038.5,1643.5 1030.3,1650.7 1011.8,1640.4 1008.7,1627.0 997.4,1616.8 984.1,1577.7 999.5,1569.5 1003.6,1559.2 994.3,1534.6 995.4,1499.6 996.4,1468.8 1001.5,1460.6"/>
<polygon class="k" fill="#ffbe00" points="1019.0,1455.5 1029.3,1437.8 1059.1,1437.8 1060.1,1458.5 1056.0,1479.1 1051.9,1505.8 1053.9,1561.3 1048.8,1581.8 1038.5,1608.5 1037.5,1635.3 1030.3,1643.5 1021.1,1635.3 1016.9,1622.9 999.5,1608.5 996.4,1598.3 1003.6,1579.8 1009.8,1569.5 1013.9,1557.2 999.5,1532.5 998.5,1499.6 999.5,1470.9"/>
<polygon class="k" fill="#ff8000" points="1021.1,1458.5 1030.3,1437.8 1048.8,1446.2 1049.8,1450.3 1043.7,1464.7 1043.7,1505.8 1041.6,1551.0 1032.4,1584.9 1024.1,1569.5 1018.0,1553.1 1004.6,1530.5 1000.5,1499.6 1002.6,1472.9"/>
<polygon class="k" fill="#ff1800" points="1003.6,1479.1 1006.7,1475.0 1020.0,1480.1 1028.2,1497.6 1033.4,1505.8 1031.3,1540.7 1020.0,1528.4 1005.6,1520.2 1002.6,1499.6"/>
<polygon class="k" fill="#8c0000" points="1003.6,1485.3 1012.8,1492.5 1005.6,1503.8"/>
<polygon class="k" fill="#ff8000" points="1028.2,1627.0 1030.3,1624.0 1032.4,1627.0 1030.3,1631.1"/>
<polygon class="k" fill="#ffec00" points="925.5,1679.3 926.5,1635.3 935.8,1606.5 953.2,1597.2 964.5,1608.5 967.6,1643.5 966.6,1679.3"/>
<polygon class="k" fill="#ffbe00" points="946.1,1679.3 947.1,1616.8 953.2,1609.6 958.4,1616.8 958.4,1679.3"/>
<polyline class="w" fill="none" points="974.8,1446.2 991.3,1464.7 995.0,1489.4 994.3,1520.2" style="stroke-width:3.8"/>
<polygon class="k" fill="#60fca0" points="1100.2,1481.2 1107.4,1474.0 1114.5,1481.2 1117.6,1493.5 1125.8,1505.8 1124.8,1524.3 1121.7,1571.6 1124.8,1612.7 1127.9,1639.4 1119.7,1651.7 1118.7,1679.3 1103.2,1679.3 1102.2,1653.8 1094.0,1645.5 1084.8,1633.2 1081.7,1612.7 1085.8,1561.3 1081.7,1530.5 1085.8,1509.9 1094.0,1497.6"/>
<polygon class="k" fill="#18ffe6" points="1107.4,1518.1 1114.5,1534.6 1116.6,1561.3 1107.4,1595.2 1099.1,1571.6 1097.1,1536.6"/>
<polygon class="k" fill="#00a8ff" points="1107.4,1543.8 1110.0,1557.2 1107.4,1569.5 1105.3,1557.2"/>
<polygon class="k" fill="#18ffe6" points="1107.4,1615.1 1116.2,1627.0 1107.4,1640.4 1097.1,1627.0"/>
<polygon class="k" fill="#60fca0" points="1076.5,1447.2 1081.7,1437.8 1098.1,1437.8 1098.1,1449.3 1081.7,1452.4"/>
<polygon class="w" fill="#d2ff2d" points="1127.9,1446.2 1159.8,1456.5 1173.1,1449.3 1172.1,1437.8 1128.9,1437.8"/>
<polygon class="w" fill="#d2ff2d" points="1188.5,1437.8 1187.5,1449.3 1192.6,1464.7 1184.4,1499.6 1176.2,1505.8 1159.8,1528.4 1133.0,1534.6 1131.0,1557.2 1134.1,1583.9 1144.3,1596.2 1150.5,1612.7 1145.4,1626.0 1153.6,1640.4 1163.9,1655.8 1164.9,1679.3 1229.6,1679.3 1228.6,1653.8 1237.8,1633.2 1244.0,1616.8 1235.8,1602.4 1231.7,1561.3 1233.7,1499.6 1235.8,1464.7 1260.4,1469.8 1266.6,1479.1 1274.8,1505.8 1280.0,1561.3 1282.0,1612.7 1288.2,1624.0 1299.5,1610.6 1298.5,1540.7 1298.5,1499.6 1299.5,1466.8 1316.9,1456.5 1284.1,1446.2 1283.0,1437.8"/>
<polygon class="w" fill="#90ff70" points="1164.9,1541.8 1184.4,1531.5 1190.6,1553.1 1196.7,1602.4 1213.2,1619.8 1214.2,1627.0 1170.0,1612.7 1164.9,1581.8"/>
<polygon class="k" fill="#ffec00" points="1214.2,1437.8 1262.5,1437.8 1261.5,1447.2 1237.8,1450.7 1215.2,1448.3"/>
<polygon class="k" fill="#ffec00" points="1205.0,1455.5 1211.1,1450.7 1219.3,1456.5 1220.4,1479.1 1222.4,1505.8 1221.4,1561.3 1217.3,1581.8 1211.1,1599.3 1205.0,1581.8 1198.8,1540.7 1196.7,1505.8 1200.8,1479.1"/>
<polygon class="k" fill="#000000" points="1210.7,1507.9 1212.8,1530.5 1211.1,1557.2 1209.1,1530.5"/>
<polygon class="k" fill="#ffec00" points="1180.3,1651.7 1185.4,1645.5 1193.7,1651.7 1194.7,1679.3 1180.3,1679.3"/>
<polygon class="k" fill="#ffec00" points="1284.1,1456.5 1292.3,1455.5 1289.2,1466.8 1288.2,1476.0 1286.7,1466.8"/>
<polygon class="k" fill="#ffec00" points="1288.2,1482.2 1290.8,1503.8 1288.2,1523.3 1284.7,1503.8"/>
<polygon class="k" fill="#60fca0" points="1262.1,1504.8 1264.5,1520.2 1264.5,1561.3 1262.5,1590.1 1258.4,1565.4 1256.3,1540.7 1258.4,1520.2"/>
<polygon class="k" fill="#60fca0" points="1183.4,1585.9 1186.1,1583.9 1186.1,1602.4 1183.4,1603.4"/>
<polygon class="k" fill="#60fca0" points="1315.9,1464.7 1338.5,1452.0 1350.8,1456.5 1352.9,1479.1 1351.9,1520.2 1346.7,1571.6 1339.5,1603.4 1326.2,1579.8 1311.8,1561.3 1306.7,1530.5 1306.7,1499.6 1309.8,1479.1"/>
<polygon class="k" fill="#60fca0" points="1363.2,1437.8 1373.5,1456.5 1375.5,1489.4 1381.7,1526.4 1397.1,1540.7 1397.1,1437.8"/>
<polygon class="k" fill="#18ffe6" points="1382.7,1437.8 1397.1,1437.8 1397.1,1464.7 1385.8,1456.5"/>
<polygon class="k" fill="#60fca0" points="1311.4,1437.8 1316.3,1437.8 1316.3,1449.3 1311.8,1449.3"/>
<polygon class="w" fill="#d2ff2d" points="1366.3,1559.2 1397.1,1581.8 1397.1,1647.6 1366.3,1660.9 1359.1,1647.6 1352.9,1631.1 1361.1,1592.1"/>
<polyline class="w" fill="none" points="1365.2,1517.1 1365.2,1534.6" style="stroke-width:4.0"/>
<polyline class="w" fill="none" points="1365.2,1455.5 1365.2,1458.5" style="stroke-width:5.0"/>
</g>
<path class="a" d="M798.90 1443.80H1391.10V1673.30H798.90ZM798.90 1443.80v-7.00M798.90 1673.30v7.00M850.40 1443.80v-7.00M850.40 1673.30v7.00M901.89 1443.80v-7.00M901.89 1673.30v7.00M953.39 1443.80v-7.00M953.39 1673.30v7.00M1004.88 1443.80v-7.00M1004.88 1673.30v7.00M1056.38 1443.80v-7.00M1056.38 1673.30v7.00M1107.87 1443.80v-7.00M1107.87 1673.30v7.00M1159.37 1443.80v-7.00M1159.37 1673.30v7.00M1210.87 1443.80v-7.00M1210.87 1673.30v7.00M1262.36 1443.80v-7.00M1262.36 1673.30v7.00M1313.86 1443.80v-7.00M1313.86 1673.30v7.00M1365.35 1443.80v-7.00M1365.35 1673.30v7.00M1391.10 1443.80v-7.00M1391.10 1673.30v7.00M798.90 1480.48h-7.00M1391.10 1480.48h7.00M798.90 1516.76h-7.00M1391.10 1516.76h7.00M798.90 1553.04h-7.00M1391.10 1553.04h7.00M798.90 1589.32h-7.00M1391.10 1589.32h7.00M798.90 1625.60h-7.00M1391.10 1625.60h7.00M798.90 1673.30h-7.00M1391.10 1673.30h7.00"/>
<text class="t" x="798.9" y="1709.3" text-anchor="middle">7/12</text>
<text class="t" x="850.4" y="1709.3" text-anchor="middle">7/14</text>
<text class="t" x="901.9" y="1709.3" text-anchor="middle">7/16</text>
<text class="t" x="953.4" y="1709.3" text-anchor="middle">7/18</text>
<text class="t" x="1004.9" y="1709.3" text-anchor="middle">7/20</text>
<text class="t" x="1056.4" y="1709.3" text-anchor="middle">7/22</text>
<text class="t" x="1107.9" y="1709.3" text-anchor="middle">7/24</text>
<text class="t" x="1159.4" y="1709.3" text-anchor="middle">7/26</text>
<text class="t" x="1210.9" y="1709.3" text-anchor="middle">7/28</text>
<text class="t" x="1262.4" y="1709.3" text-anchor="middle">7/30</text>
<text class="t" x="1313.9" y="1709.3" text-anchor="middle">8/1</text>
<text class="t" x="1349.4" y="1709.3">8/3/4</text>
<text class="T" x="1095.0" y="1438.0" text-anchor="middle">Tt</text>
<rect x="1403.80" y="1443.80" width="26.60" height="229.50" fill="url(#jet)"/>
<text class="t" x="1437.4" y="1452.4">3</text>
<text class="t" x="1437.4" y="1485.2">2</text>
<text class="t" x="1437.4" y="1518.0">1</text>
<text class="t" x="1437.4" y="1550.8">0</text>
<text class="t" x="1437.4" y="1583.5">-1</text>
<text class="t" x="1437.4" y="1616.3">-2</text>
<text class="t" x="1437.4" y="1649.1">-3</text>
<text class="t" x="1437.4" y="1681.9">-4</text>
<path d="M1430.40 1476.59h-7M1430.40 1509.37h-7M1430.40 1542.16h-7M1430.40 1574.94h-7M1430.40 1607.73h-7M1430.40 1640.51h-7" stroke="#262626" stroke-width="0.8" fill="none" opacity="0.75"/>
<rect x="1403.80" y="1443.80" width="26.60" height="229.50" fill="none" stroke="#262626" stroke-width="0.7" opacity="0.6"/>
</g>
<text x="-0.5" y="24.4" style="font-size:30px;fill:#000">A</text>
<text x="-0.3" y="907.5" style="font-size:30px;fill:#000">B</text>
</svg></body></html>
